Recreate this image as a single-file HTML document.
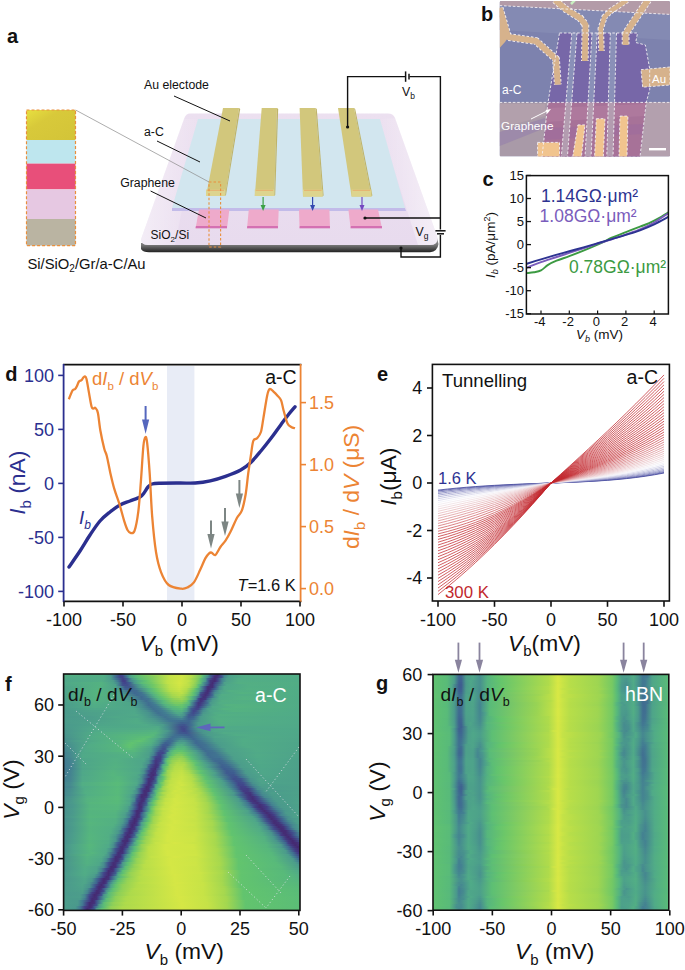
<!DOCTYPE html>
<html><head><meta charset="utf-8"><title>Figure</title>
<style>
html,body{margin:0;padding:0;background:#fff;}
svg{display:block;}
text{font-family:"Liberation Sans",sans-serif;}
.lab{font-weight:bold;font-size:20px;}
</style></head><body>
<svg width="685" height="970" viewBox="0 0 685 970">
<defs>
<linearGradient id="gold" x1="0" y1="0" x2="1" y2="1"><stop offset="0" stop-color="#e8e040"/><stop offset="0.35" stop-color="#d8c93a"/><stop offset="1" stop-color="#d3c438"/></linearGradient>
<linearGradient id="sideg" x1="0" y1="0" x2="0" y2="1"><stop offset="0" stop-color="#9a9a9a"/><stop offset="0.5" stop-color="#777"/><stop offset="1" stop-color="#222"/></linearGradient>
<linearGradient id="hlg" x1="0" y1="0" x2="1" y2="0"><stop offset="0" stop-color="#fff" stop-opacity="0.9"/><stop offset="1" stop-color="#fff" stop-opacity="0"/></linearGradient>
<linearGradient id="hlg2" x1="1" y1="0" x2="0" y2="0"><stop offset="0" stop-color="#fff" stop-opacity="0.9"/><stop offset="1" stop-color="#fff" stop-opacity="0"/></linearGradient>
<linearGradient id="subg" x1="0" y1="0" x2="0" y2="1"><stop offset="0" stop-color="#ece0f0"/><stop offset="1" stop-color="#e8dbee"/></linearGradient>
<linearGradient id="hf0"><stop offset="0" stop-color="#53b082"/><stop offset="0.17" stop-color="#52af84"/><stop offset="0.2" stop-color="#4b9a8b"/><stop offset="0.23" stop-color="#3f598f"/><stop offset="0.24" stop-color="#42448a"/><stop offset="0.25" stop-color="#404d8c"/><stop offset="0.27" stop-color="#468b8f"/><stop offset="0.29" stop-color="#53b083"/><stop offset="0.33" stop-color="#6bc669"/><stop offset="0.45" stop-color="#c3e247"/><stop offset="0.5" stop-color="#d0e645"/><stop offset="0.54" stop-color="#b7de49"/><stop offset="0.58" stop-color="#79ca62"/><stop offset="0.59" stop-color="#5bbd77"/><stop offset="0.61" stop-color="#4a998c"/><stop offset="0.62" stop-color="#3f6590"/><stop offset="0.64" stop-color="#433880"/><stop offset="0.65" stop-color="#452a72"/><stop offset="0.66" stop-color="#433d85"/><stop offset="0.68" stop-color="#438091"/><stop offset="0.7" stop-color="#4c9f8a"/><stop offset="0.75" stop-color="#52ad85"/><stop offset="1" stop-color="#51ad85"/></linearGradient>
<linearGradient id="hf1"><stop offset="0" stop-color="#51ac86"/><stop offset="0.17" stop-color="#51ad85"/><stop offset="0.2" stop-color="#4c9d8b"/><stop offset="0.22" stop-color="#406c91"/><stop offset="0.24" stop-color="#42448a"/><stop offset="0.25" stop-color="#42428a"/><stop offset="0.27" stop-color="#427d91"/><stop offset="0.28" stop-color="#4da18a"/><stop offset="0.31" stop-color="#5bbd77"/><stop offset="0.38" stop-color="#85cd5b"/><stop offset="0.45" stop-color="#c6e347"/><stop offset="0.5" stop-color="#d0e645"/><stop offset="0.54" stop-color="#b6dd49"/><stop offset="0.58" stop-color="#73c865"/><stop offset="0.59" stop-color="#57b77c"/><stop offset="0.61" stop-color="#468a8f"/><stop offset="0.63" stop-color="#42448a"/><stop offset="0.64" stop-color="#452b73"/><stop offset="0.65" stop-color="#44337b"/><stop offset="0.67" stop-color="#3f568e"/><stop offset="0.68" stop-color="#468a8f"/><stop offset="0.7" stop-color="#4da28a"/><stop offset="0.77" stop-color="#52ae85"/><stop offset="1" stop-color="#51ad86"/></linearGradient>
<linearGradient id="hf2"><stop offset="0" stop-color="#50a988"/><stop offset="0.17" stop-color="#51ad86"/><stop offset="0.2" stop-color="#4c9d8b"/><stop offset="0.22" stop-color="#417792"/><stop offset="0.25" stop-color="#424189"/><stop offset="0.25" stop-color="#433d85"/><stop offset="0.27" stop-color="#3f5e90"/><stop offset="0.29" stop-color="#4b9c8b"/><stop offset="0.32" stop-color="#5bbd77"/><stop offset="0.37" stop-color="#7aca62"/><stop offset="0.45" stop-color="#c4e247"/><stop offset="0.5" stop-color="#d1e645"/><stop offset="0.53" stop-color="#b9de49"/><stop offset="0.57" stop-color="#7ecb5f"/><stop offset="0.58" stop-color="#5cbe75"/><stop offset="0.6" stop-color="#4b9a8c"/><stop offset="0.61" stop-color="#3f6490"/><stop offset="0.63" stop-color="#43377f"/><stop offset="0.64" stop-color="#452a72"/><stop offset="0.65" stop-color="#433d85"/><stop offset="0.67" stop-color="#438191"/><stop offset="0.69" stop-color="#4c9f8a"/><stop offset="0.74" stop-color="#52ad85"/><stop offset="1" stop-color="#51ac86"/></linearGradient>
<linearGradient id="hf3"><stop offset="0" stop-color="#4fa789"/><stop offset="0.16" stop-color="#52ad85"/><stop offset="0.21" stop-color="#4c9d8b"/><stop offset="0.23" stop-color="#417892"/><stop offset="0.25" stop-color="#423f87"/><stop offset="0.26" stop-color="#423f87"/><stop offset="0.28" stop-color="#448291"/><stop offset="0.31" stop-color="#4fa888"/><stop offset="0.35" stop-color="#61c36f"/><stop offset="0.44" stop-color="#c0e148"/><stop offset="0.49" stop-color="#d2e645"/><stop offset="0.53" stop-color="#c0e148"/><stop offset="0.56" stop-color="#92d156"/><stop offset="0.58" stop-color="#5cbe75"/><stop offset="0.6" stop-color="#4a998c"/><stop offset="0.61" stop-color="#3f6490"/><stop offset="0.62" stop-color="#43367e"/><stop offset="0.64" stop-color="#452a72"/><stop offset="0.65" stop-color="#433e86"/><stop offset="0.67" stop-color="#448291"/><stop offset="0.69" stop-color="#4da08a"/><stop offset="0.74" stop-color="#52ae85"/><stop offset="1" stop-color="#51ac86"/></linearGradient>
<linearGradient id="hf4"><stop offset="0" stop-color="#50a988"/><stop offset="0.16" stop-color="#54b281"/><stop offset="0.21" stop-color="#4da18a"/><stop offset="0.23" stop-color="#458790"/><stop offset="0.25" stop-color="#414a8c"/><stop offset="0.26" stop-color="#42438a"/><stop offset="0.28" stop-color="#3e5e90"/><stop offset="0.3" stop-color="#4a998c"/><stop offset="0.33" stop-color="#59bb79"/><stop offset="0.37" stop-color="#70c866"/><stop offset="0.44" stop-color="#c0e148"/><stop offset="0.49" stop-color="#d3e745"/><stop offset="0.52" stop-color="#c4e247"/><stop offset="0.55" stop-color="#a0d651"/><stop offset="0.58" stop-color="#5dbf74"/><stop offset="0.59" stop-color="#4b9a8c"/><stop offset="0.61" stop-color="#3f6490"/><stop offset="0.62" stop-color="#43377f"/><stop offset="0.63" stop-color="#452b73"/><stop offset="0.64" stop-color="#424087"/><stop offset="0.67" stop-color="#448490"/><stop offset="0.68" stop-color="#4da18a"/><stop offset="0.74" stop-color="#53af83"/><stop offset="1" stop-color="#52ad85"/></linearGradient>
<linearGradient id="hf5"><stop offset="0" stop-color="#4fa789"/><stop offset="0.16" stop-color="#54b281"/><stop offset="0.22" stop-color="#4da18a"/><stop offset="0.23" stop-color="#458790"/><stop offset="0.25" stop-color="#404f8d"/><stop offset="0.27" stop-color="#414c8c"/><stop offset="0.31" stop-color="#48918e"/><stop offset="0.34" stop-color="#56b77d"/><stop offset="0.38" stop-color="#70c866"/><stop offset="0.45" stop-color="#c0e148"/><stop offset="0.49" stop-color="#d1e645"/><stop offset="0.53" stop-color="#bbdf48"/><stop offset="0.56" stop-color="#85cd5c"/><stop offset="0.57" stop-color="#5cbe75"/><stop offset="0.59" stop-color="#4a988c"/><stop offset="0.61" stop-color="#40508d"/><stop offset="0.62" stop-color="#442f77"/><stop offset="0.63" stop-color="#442f77"/><stop offset="0.64" stop-color="#404d8c"/><stop offset="0.67" stop-color="#48908e"/><stop offset="0.69" stop-color="#4fa889"/><stop offset="0.79" stop-color="#53af84"/><stop offset="1" stop-color="#51ad85"/></linearGradient>
<linearGradient id="hf6"><stop offset="0" stop-color="#4ea489"/><stop offset="0.15" stop-color="#54b281"/><stop offset="0.22" stop-color="#4ea389"/><stop offset="0.24" stop-color="#46898f"/><stop offset="0.26" stop-color="#3f578f"/><stop offset="0.28" stop-color="#3f558e"/><stop offset="0.32" stop-color="#4b9a8c"/><stop offset="0.36" stop-color="#5dbf74"/><stop offset="0.39" stop-color="#7bcb61"/><stop offset="0.45" stop-color="#bfe048"/><stop offset="0.49" stop-color="#cee545"/><stop offset="0.53" stop-color="#b5dd49"/><stop offset="0.56" stop-color="#79ca62"/><stop offset="0.57" stop-color="#5cbe76"/><stop offset="0.58" stop-color="#49958d"/><stop offset="0.6" stop-color="#404d8c"/><stop offset="0.61" stop-color="#452e76"/><stop offset="0.63" stop-color="#442f77"/><stop offset="0.64" stop-color="#404e8d"/><stop offset="0.66" stop-color="#48908e"/><stop offset="0.68" stop-color="#4fa889"/><stop offset="0.78" stop-color="#52af84"/><stop offset="1" stop-color="#51ac86"/></linearGradient>
<linearGradient id="hf7"><stop offset="0" stop-color="#4ea38a"/><stop offset="0.14" stop-color="#54b281"/><stop offset="0.22" stop-color="#4ea589"/><stop offset="0.24" stop-color="#478e8e"/><stop offset="0.26" stop-color="#3f6390"/><stop offset="0.28" stop-color="#3e5d90"/><stop offset="0.31" stop-color="#427c91"/><stop offset="0.36" stop-color="#54b281"/><stop offset="0.39" stop-color="#6cc769"/><stop offset="0.45" stop-color="#badf49"/><stop offset="0.49" stop-color="#cae446"/><stop offset="0.52" stop-color="#b4dd4a"/><stop offset="0.55" stop-color="#79ca62"/><stop offset="0.56" stop-color="#5bbd76"/><stop offset="0.58" stop-color="#48938d"/><stop offset="0.6" stop-color="#414a8c"/><stop offset="0.61" stop-color="#452d75"/><stop offset="0.62" stop-color="#443179"/><stop offset="0.64" stop-color="#3f5e90"/><stop offset="0.66" stop-color="#48918d"/><stop offset="0.68" stop-color="#4fa888"/><stop offset="0.78" stop-color="#53b083"/><stop offset="1" stop-color="#51ac86"/></linearGradient>
<linearGradient id="hf8"><stop offset="0" stop-color="#4ea389"/><stop offset="0.14" stop-color="#55b480"/><stop offset="0.23" stop-color="#4ea589"/><stop offset="0.25" stop-color="#478c8e"/><stop offset="0.28" stop-color="#3f6891"/><stop offset="0.31" stop-color="#406c91"/><stop offset="0.36" stop-color="#54b281"/><stop offset="0.39" stop-color="#69c66a"/><stop offset="0.45" stop-color="#b5dd4a"/><stop offset="0.49" stop-color="#c5e247"/><stop offset="0.52" stop-color="#adda4c"/><stop offset="0.55" stop-color="#6bc669"/><stop offset="0.57" stop-color="#51ab86"/><stop offset="0.58" stop-color="#437f91"/><stop offset="0.6" stop-color="#433c84"/><stop offset="0.61" stop-color="#452b73"/><stop offset="0.62" stop-color="#433b83"/><stop offset="0.64" stop-color="#437e91"/><stop offset="0.66" stop-color="#4da08a"/><stop offset="0.7" stop-color="#53b083"/><stop offset="1" stop-color="#51ad86"/></linearGradient>
<linearGradient id="hf9"><stop offset="0" stop-color="#4ea38a"/><stop offset="0.14" stop-color="#55b47f"/><stop offset="0.23" stop-color="#4fa789"/><stop offset="0.27" stop-color="#438191"/><stop offset="0.3" stop-color="#3f6991"/><stop offset="0.33" stop-color="#417391"/><stop offset="0.37" stop-color="#54b182"/><stop offset="0.4" stop-color="#6ac66a"/><stop offset="0.46" stop-color="#b0db4b"/><stop offset="0.5" stop-color="#bde048"/><stop offset="0.52" stop-color="#a3d750"/><stop offset="0.55" stop-color="#5fc172"/><stop offset="0.57" stop-color="#4b9c8b"/><stop offset="0.58" stop-color="#3f568e"/><stop offset="0.6" stop-color="#44327a"/><stop offset="0.61" stop-color="#442f77"/><stop offset="0.62" stop-color="#414a8c"/><stop offset="0.64" stop-color="#478c8f"/><stop offset="0.67" stop-color="#4fa889"/><stop offset="0.75" stop-color="#54b281"/><stop offset="1" stop-color="#51ad86"/></linearGradient>
<linearGradient id="hf10"><stop offset="0" stop-color="#4da28a"/><stop offset="0.14" stop-color="#55b47f"/><stop offset="0.24" stop-color="#4fa689"/><stop offset="0.31" stop-color="#406a91"/><stop offset="0.34" stop-color="#417692"/><stop offset="0.38" stop-color="#53b182"/><stop offset="0.41" stop-color="#6cc769"/><stop offset="0.46" stop-color="#a6d84e"/><stop offset="0.49" stop-color="#b6dd49"/><stop offset="0.51" stop-color="#a5d84f"/><stop offset="0.54" stop-color="#70c867"/><stop offset="0.56" stop-color="#53af83"/><stop offset="0.57" stop-color="#458890"/><stop offset="0.58" stop-color="#42448a"/><stop offset="0.6" stop-color="#452e76"/><stop offset="0.61" stop-color="#433880"/><stop offset="0.63" stop-color="#406a91"/><stop offset="0.64" stop-color="#4a978c"/><stop offset="0.67" stop-color="#52ad85"/><stop offset="0.82" stop-color="#52af84"/><stop offset="1" stop-color="#51ad86"/></linearGradient>
<linearGradient id="hf11"><stop offset="0" stop-color="#4da08a"/><stop offset="0.13" stop-color="#54b281"/><stop offset="0.25" stop-color="#4fa689"/><stop offset="0.33" stop-color="#406a91"/><stop offset="0.35" stop-color="#427a92"/><stop offset="0.39" stop-color="#55b47f"/><stop offset="0.42" stop-color="#6bc669"/><stop offset="0.46" stop-color="#9dd552"/><stop offset="0.49" stop-color="#abda4d"/><stop offset="0.51" stop-color="#98d354"/><stop offset="0.54" stop-color="#5abc77"/><stop offset="0.56" stop-color="#48928d"/><stop offset="0.58" stop-color="#404d8c"/><stop offset="0.59" stop-color="#443179"/><stop offset="0.6" stop-color="#44337b"/><stop offset="0.62" stop-color="#3f5f90"/><stop offset="0.64" stop-color="#48918e"/><stop offset="0.66" stop-color="#50ab87"/><stop offset="0.76" stop-color="#54b182"/><stop offset="1" stop-color="#51ac86"/></linearGradient>
<linearGradient id="hf12"><stop offset="0" stop-color="#4c9f8a"/><stop offset="0.13" stop-color="#54b281"/><stop offset="0.25" stop-color="#4fa689"/><stop offset="0.3" stop-color="#458790"/><stop offset="0.33" stop-color="#406c91"/><stop offset="0.36" stop-color="#417491"/><stop offset="0.4" stop-color="#55b480"/><stop offset="0.43" stop-color="#6ac66a"/><stop offset="0.47" stop-color="#92d156"/><stop offset="0.5" stop-color="#9dd552"/><stop offset="0.52" stop-color="#83cd5d"/><stop offset="0.54" stop-color="#58ba7a"/><stop offset="0.56" stop-color="#478d8e"/><stop offset="0.57" stop-color="#41498c"/><stop offset="0.58" stop-color="#443179"/><stop offset="0.6" stop-color="#43377f"/><stop offset="0.61" stop-color="#3f6390"/><stop offset="0.63" stop-color="#49938d"/><stop offset="0.66" stop-color="#51ab87"/><stop offset="0.76" stop-color="#54b281"/><stop offset="1" stop-color="#51ac86"/></linearGradient>
<linearGradient id="hf13"><stop offset="0" stop-color="#4c9f8a"/><stop offset="0.13" stop-color="#54b182"/><stop offset="0.26" stop-color="#4fa689"/><stop offset="0.31" stop-color="#478e8e"/><stop offset="0.35" stop-color="#406c91"/><stop offset="0.37" stop-color="#437e91"/><stop offset="0.42" stop-color="#57b77c"/><stop offset="0.46" stop-color="#81cc5e"/><stop offset="0.5" stop-color="#8fd057"/><stop offset="0.52" stop-color="#74c965"/><stop offset="0.53" stop-color="#56b77d"/><stop offset="0.55" stop-color="#458890"/><stop offset="0.57" stop-color="#41468b"/><stop offset="0.58" stop-color="#44327a"/><stop offset="0.59" stop-color="#433c84"/><stop offset="0.61" stop-color="#417792"/><stop offset="0.63" stop-color="#4b9c8b"/><stop offset="0.67" stop-color="#53af83"/><stop offset="0.85" stop-color="#52ae85"/><stop offset="1" stop-color="#51ac86"/></linearGradient>
<linearGradient id="hf14"><stop offset="0" stop-color="#4c9d8b"/><stop offset="0.13" stop-color="#52af84"/><stop offset="0.28" stop-color="#4ea589"/><stop offset="0.32" stop-color="#468c8f"/><stop offset="0.36" stop-color="#406d91"/><stop offset="0.38" stop-color="#427d92"/><stop offset="0.42" stop-color="#56b67e"/><stop offset="0.47" stop-color="#7aca61"/><stop offset="0.5" stop-color="#7dcb60"/><stop offset="0.53" stop-color="#59ba79"/><stop offset="0.54" stop-color="#48938d"/><stop offset="0.56" stop-color="#40508d"/><stop offset="0.57" stop-color="#44367e"/><stop offset="0.58" stop-color="#433981"/><stop offset="0.61" stop-color="#407091"/><stop offset="0.62" stop-color="#4a988c"/><stop offset="0.66" stop-color="#52ae85"/><stop offset="0.79" stop-color="#53b083"/><stop offset="1" stop-color="#51ac86"/></linearGradient>
<linearGradient id="hf15"><stop offset="0" stop-color="#4b9c8b"/><stop offset="0.13" stop-color="#51ad86"/><stop offset="0.28" stop-color="#4ea589"/><stop offset="0.33" stop-color="#478c8e"/><stop offset="0.36" stop-color="#406d91"/><stop offset="0.39" stop-color="#427c92"/><stop offset="0.43" stop-color="#54b380"/><stop offset="0.48" stop-color="#6fc767"/><stop offset="0.5" stop-color="#68c66b"/><stop offset="0.53" stop-color="#53b083"/><stop offset="0.54" stop-color="#478e8e"/><stop offset="0.56" stop-color="#404e8d"/><stop offset="0.57" stop-color="#43377f"/><stop offset="0.58" stop-color="#423e86"/><stop offset="0.61" stop-color="#438191"/><stop offset="0.63" stop-color="#4ea38a"/><stop offset="0.69" stop-color="#55b380"/><stop offset="1" stop-color="#51ac87"/></linearGradient>
<linearGradient id="hf16"><stop offset="0" stop-color="#4c9d8b"/><stop offset="0.13" stop-color="#51ac86"/><stop offset="0.29" stop-color="#4fa689"/><stop offset="0.33" stop-color="#478e8e"/><stop offset="0.37" stop-color="#406f91"/><stop offset="0.4" stop-color="#427c92"/><stop offset="0.44" stop-color="#54b281"/><stop offset="0.5" stop-color="#62c36f"/><stop offset="0.52" stop-color="#55b380"/><stop offset="0.53" stop-color="#468a8f"/><stop offset="0.56" stop-color="#42448a"/><stop offset="0.57" stop-color="#433b83"/><stop offset="0.58" stop-color="#404e8d"/><stop offset="0.61" stop-color="#48908e"/><stop offset="0.63" stop-color="#50a988"/><stop offset="0.73" stop-color="#55b380"/><stop offset="1" stop-color="#51ac86"/></linearGradient>
<linearGradient id="hf17"><stop offset="0" stop-color="#4b9b8b"/><stop offset="0.13" stop-color="#4fa888"/><stop offset="0.3" stop-color="#4fa789"/><stop offset="0.34" stop-color="#478e8e"/><stop offset="0.38" stop-color="#407091"/><stop offset="0.41" stop-color="#427b92"/><stop offset="0.46" stop-color="#54b380"/><stop offset="0.5" stop-color="#59bb78"/><stop offset="0.52" stop-color="#4c9f8a"/><stop offset="0.54" stop-color="#3e5b8f"/><stop offset="0.56" stop-color="#424189"/><stop offset="0.57" stop-color="#42448a"/><stop offset="0.59" stop-color="#448191"/><stop offset="0.61" stop-color="#4da18a"/><stop offset="0.68" stop-color="#54b380"/><stop offset="1" stop-color="#51ab87"/></linearGradient>
<linearGradient id="hf18"><stop offset="0" stop-color="#4a998c"/><stop offset="0.12" stop-color="#4ea389"/><stop offset="0.3" stop-color="#4fa789"/><stop offset="0.35" stop-color="#48928d"/><stop offset="0.39" stop-color="#407091"/><stop offset="0.42" stop-color="#427c92"/><stop offset="0.47" stop-color="#52ad85"/><stop offset="0.5" stop-color="#54b380"/><stop offset="0.52" stop-color="#4b9b8b"/><stop offset="0.54" stop-color="#3e5b8f"/><stop offset="0.55" stop-color="#42458b"/><stop offset="0.56" stop-color="#414b8c"/><stop offset="0.59" stop-color="#478e8e"/><stop offset="0.62" stop-color="#4fa789"/><stop offset="0.72" stop-color="#54b281"/><stop offset="1" stop-color="#50ab87"/></linearGradient>
<linearGradient id="hf19"><stop offset="0" stop-color="#4a998c"/><stop offset="0.11" stop-color="#4da08a"/><stop offset="0.3" stop-color="#4fa889"/><stop offset="0.36" stop-color="#48938d"/><stop offset="0.4" stop-color="#407091"/><stop offset="0.43" stop-color="#427d92"/><stop offset="0.48" stop-color="#50aa87"/><stop offset="0.5" stop-color="#4fa689"/><stop offset="0.52" stop-color="#448191"/><stop offset="0.54" stop-color="#3f548e"/><stop offset="0.55" stop-color="#414b8c"/><stop offset="0.57" stop-color="#3f6390"/><stop offset="0.59" stop-color="#4a978c"/><stop offset="0.64" stop-color="#51ad86"/><stop offset="0.8" stop-color="#52ae84"/><stop offset="1" stop-color="#50ab88"/></linearGradient>
<linearGradient id="hf20"><stop offset="0" stop-color="#4b9a8b"/><stop offset="0.11" stop-color="#4da08a"/><stop offset="0.31" stop-color="#50a988"/><stop offset="0.36" stop-color="#49958d"/><stop offset="0.41" stop-color="#417391"/><stop offset="0.44" stop-color="#427b92"/><stop offset="0.49" stop-color="#4da28a"/><stop offset="0.51" stop-color="#49948d"/><stop offset="0.53" stop-color="#3f5a8f"/><stop offset="0.55" stop-color="#40538e"/><stop offset="0.57" stop-color="#417592"/><stop offset="0.59" stop-color="#4c9d8b"/><stop offset="0.66" stop-color="#53b083"/><stop offset="1" stop-color="#50ab87"/></linearGradient>
<linearGradient id="hf21"><stop offset="0" stop-color="#4a998c"/><stop offset="0.11" stop-color="#4c9d8b"/><stop offset="0.22" stop-color="#4fa888"/><stop offset="0.33" stop-color="#4ea589"/><stop offset="0.39" stop-color="#468a8f"/><stop offset="0.43" stop-color="#417391"/><stop offset="0.5" stop-color="#49938d"/><stop offset="0.51" stop-color="#437e91"/><stop offset="0.53" stop-color="#3e5b8f"/><stop offset="0.55" stop-color="#3f6390"/><stop offset="0.58" stop-color="#4b9a8c"/><stop offset="0.64" stop-color="#52ae84"/><stop offset="1" stop-color="#50aa88"/></linearGradient>
<linearGradient id="hf22"><stop offset="0" stop-color="#4b9a8c"/><stop offset="0.11" stop-color="#4c9e8b"/><stop offset="0.31" stop-color="#50ab87"/><stop offset="0.38" stop-color="#4a978c"/><stop offset="0.44" stop-color="#417491"/><stop offset="0.5" stop-color="#438191"/><stop offset="0.53" stop-color="#3e6190"/><stop offset="0.55" stop-color="#406b91"/><stop offset="0.58" stop-color="#4b9b8b"/><stop offset="0.65" stop-color="#53af84"/><stop offset="1" stop-color="#50aa88"/></linearGradient>
<linearGradient id="hf23"><stop offset="0" stop-color="#4b9c8b"/><stop offset="0.12" stop-color="#4da08a"/><stop offset="0.31" stop-color="#51ac86"/><stop offset="0.39" stop-color="#4a988c"/><stop offset="0.45" stop-color="#417592"/><stop offset="0.51" stop-color="#406c91"/><stop offset="0.53" stop-color="#3f6691"/><stop offset="0.58" stop-color="#4b9b8b"/><stop offset="0.66" stop-color="#53b083"/><stop offset="1" stop-color="#50aa88"/></linearGradient>
<linearGradient id="hf24"><stop offset="0" stop-color="#4b9b8b"/><stop offset="0.14" stop-color="#4ea38a"/><stop offset="0.32" stop-color="#51ac86"/><stop offset="0.4" stop-color="#4b9b8b"/><stop offset="0.5" stop-color="#3f6090"/><stop offset="0.53" stop-color="#3f6590"/><stop offset="0.57" stop-color="#4b9a8c"/><stop offset="0.66" stop-color="#52af84"/><stop offset="1" stop-color="#50aa88"/></linearGradient>
<linearGradient id="hf25"><stop offset="0" stop-color="#4a998c"/><stop offset="0.15" stop-color="#4ea589"/><stop offset="0.35" stop-color="#50ab87"/><stop offset="0.42" stop-color="#4b9c8b"/><stop offset="0.49" stop-color="#3f5a8f"/><stop offset="0.51" stop-color="#40538e"/><stop offset="0.54" stop-color="#407091"/><stop offset="0.57" stop-color="#4b9a8c"/><stop offset="0.67" stop-color="#52ae84"/><stop offset="1" stop-color="#50a988"/></linearGradient>
<linearGradient id="hf26"><stop offset="0" stop-color="#4a998c"/><stop offset="0.15" stop-color="#4fa888"/><stop offset="0.4" stop-color="#50aa87"/><stop offset="0.44" stop-color="#468b8f"/><stop offset="0.5" stop-color="#41498b"/><stop offset="0.52" stop-color="#40538e"/><stop offset="0.56" stop-color="#48928d"/><stop offset="0.63" stop-color="#50aa88"/><stop offset="0.89" stop-color="#50aa88"/><stop offset="1" stop-color="#50a988"/></linearGradient>
<linearGradient id="hf27"><stop offset="0" stop-color="#4a978c"/><stop offset="0.14" stop-color="#50aa88"/><stop offset="0.4" stop-color="#52ad85"/><stop offset="0.44" stop-color="#478e8e"/><stop offset="0.5" stop-color="#414a8c"/><stop offset="0.51" stop-color="#41468b"/><stop offset="0.54" stop-color="#407191"/><stop offset="0.57" stop-color="#49958d"/><stop offset="0.66" stop-color="#51ab87"/><stop offset="1" stop-color="#4fa888"/></linearGradient>
<linearGradient id="hf28"><stop offset="0" stop-color="#49958d"/><stop offset="0.14" stop-color="#50aa88"/><stop offset="0.39" stop-color="#54b281"/><stop offset="0.44" stop-color="#4a988c"/><stop offset="0.49" stop-color="#3f578f"/><stop offset="0.51" stop-color="#41478b"/><stop offset="0.53" stop-color="#3e5d90"/><stop offset="0.57" stop-color="#478f8e"/><stop offset="0.64" stop-color="#4fa789"/><stop offset="0.85" stop-color="#50ab87"/><stop offset="1" stop-color="#4fa889"/></linearGradient>
<linearGradient id="hf29"><stop offset="0" stop-color="#49958d"/><stop offset="0.14" stop-color="#51ad86"/><stop offset="0.39" stop-color="#56b67d"/><stop offset="0.43" stop-color="#4b9a8c"/><stop offset="0.49" stop-color="#3e5b8f"/><stop offset="0.52" stop-color="#40538e"/><stop offset="0.59" stop-color="#4a968c"/><stop offset="0.68" stop-color="#51ab87"/><stop offset="1" stop-color="#4fa889"/></linearGradient>
<linearGradient id="hf30"><stop offset="0" stop-color="#48938d"/><stop offset="0.13" stop-color="#51ac86"/><stop offset="0.3" stop-color="#57b77c"/><stop offset="0.38" stop-color="#57b97b"/><stop offset="0.42" stop-color="#4b9c8b"/><stop offset="0.47" stop-color="#406f91"/><stop offset="0.53" stop-color="#3e5e90"/><stop offset="0.61" stop-color="#4b9c8b"/><stop offset="0.73" stop-color="#51ad86"/><stop offset="1" stop-color="#4fa789"/></linearGradient>
<linearGradient id="hf31"><stop offset="0" stop-color="#48918d"/><stop offset="0.12" stop-color="#51ac86"/><stop offset="0.26" stop-color="#56b67d"/><stop offset="0.36" stop-color="#5cbe75"/><stop offset="0.41" stop-color="#4fa689"/><stop offset="0.46" stop-color="#406f91"/><stop offset="0.5" stop-color="#417692"/><stop offset="0.54" stop-color="#3f6490"/><stop offset="0.59" stop-color="#45888f"/><stop offset="0.64" stop-color="#4ea38a"/><stop offset="0.8" stop-color="#51ac86"/><stop offset="1" stop-color="#4fa789"/></linearGradient>
<linearGradient id="hf32"><stop offset="0" stop-color="#478e8e"/><stop offset="0.12" stop-color="#51ab87"/><stop offset="0.25" stop-color="#55b57f"/><stop offset="0.34" stop-color="#5ec073"/><stop offset="0.39" stop-color="#50aa88"/><stop offset="0.45" stop-color="#406b91"/><stop offset="0.47" stop-color="#417792"/><stop offset="0.5" stop-color="#46898f"/><stop offset="0.55" stop-color="#3f6691"/><stop offset="0.58" stop-color="#427b92"/><stop offset="0.64" stop-color="#4c9e8b"/><stop offset="0.76" stop-color="#51ac86"/><stop offset="1" stop-color="#4fa689"/></linearGradient>
<linearGradient id="hf33"><stop offset="0" stop-color="#478f8e"/><stop offset="0.06" stop-color="#4da18a"/><stop offset="0.16" stop-color="#52ae84"/><stop offset="0.24" stop-color="#57b77c"/><stop offset="0.32" stop-color="#61c370"/><stop offset="0.38" stop-color="#52af84"/><stop offset="0.41" stop-color="#478e8e"/><stop offset="0.44" stop-color="#3f6791"/><stop offset="0.46" stop-color="#406e91"/><stop offset="0.49" stop-color="#4a978c"/><stop offset="0.51" stop-color="#49948d"/><stop offset="0.56" stop-color="#3f6991"/><stop offset="0.58" stop-color="#417391"/><stop offset="0.64" stop-color="#4c9d8b"/><stop offset="0.76" stop-color="#51ad86"/><stop offset="1" stop-color="#4fa689"/></linearGradient>
<linearGradient id="hf34"><stop offset="0" stop-color="#468b8f"/><stop offset="0.04" stop-color="#4a988c"/><stop offset="0.12" stop-color="#51ac87"/><stop offset="0.23" stop-color="#55b480"/><stop offset="0.29" stop-color="#61c370"/><stop offset="0.37" stop-color="#53b182"/><stop offset="0.4" stop-color="#4a978c"/><stop offset="0.43" stop-color="#3e6090"/><stop offset="0.45" stop-color="#3f6791"/><stop offset="0.48" stop-color="#4da08a"/><stop offset="0.51" stop-color="#4ea38a"/><stop offset="0.56" stop-color="#3f6991"/><stop offset="0.59" stop-color="#417291"/><stop offset="0.65" stop-color="#4b9c8b"/><stop offset="0.76" stop-color="#51ac86"/><stop offset="1" stop-color="#4ea589"/></linearGradient>
<linearGradient id="hf35"><stop offset="0" stop-color="#468a8f"/><stop offset="0.04" stop-color="#49968c"/><stop offset="0.11" stop-color="#51ac86"/><stop offset="0.23" stop-color="#56b57e"/><stop offset="0.28" stop-color="#61c36f"/><stop offset="0.37" stop-color="#51ad86"/><stop offset="0.4" stop-color="#478e8e"/><stop offset="0.42" stop-color="#3e5d90"/><stop offset="0.44" stop-color="#3e5b8f"/><stop offset="0.46" stop-color="#458590"/><stop offset="0.48" stop-color="#50a988"/><stop offset="0.5" stop-color="#53af83"/><stop offset="0.54" stop-color="#468a8f"/><stop offset="0.57" stop-color="#406a91"/><stop offset="0.6" stop-color="#417291"/><stop offset="0.66" stop-color="#4b9c8b"/><stop offset="0.76" stop-color="#51ac86"/><stop offset="1" stop-color="#4ea589"/></linearGradient>
<linearGradient id="hf36"><stop offset="0" stop-color="#46888f"/><stop offset="0.04" stop-color="#49958d"/><stop offset="0.1" stop-color="#51ab87"/><stop offset="0.23" stop-color="#56b57e"/><stop offset="0.28" stop-color="#60c271"/><stop offset="0.37" stop-color="#4ea589"/><stop offset="0.39" stop-color="#468a8f"/><stop offset="0.42" stop-color="#3f578e"/><stop offset="0.43" stop-color="#3f578e"/><stop offset="0.46" stop-color="#4a968c"/><stop offset="0.48" stop-color="#55b480"/><stop offset="0.51" stop-color="#56b57e"/><stop offset="0.55" stop-color="#468b8f"/><stop offset="0.58" stop-color="#406a91"/><stop offset="0.61" stop-color="#417692"/><stop offset="0.67" stop-color="#4c9e8b"/><stop offset="0.78" stop-color="#51ac86"/><stop offset="1" stop-color="#4ea589"/></linearGradient>
<linearGradient id="hf37"><stop offset="0" stop-color="#458590"/><stop offset="0.03" stop-color="#488f8e"/><stop offset="0.09" stop-color="#50a988"/><stop offset="0.24" stop-color="#56b57e"/><stop offset="0.28" stop-color="#5cbe76"/><stop offset="0.37" stop-color="#4da08a"/><stop offset="0.39" stop-color="#437d91"/><stop offset="0.42" stop-color="#40508d"/><stop offset="0.43" stop-color="#40528d"/><stop offset="0.44" stop-color="#448291"/><stop offset="0.46" stop-color="#4fa689"/><stop offset="0.48" stop-color="#5abc77"/><stop offset="0.51" stop-color="#58ba7a"/><stop offset="0.56" stop-color="#468b8f"/><stop offset="0.59" stop-color="#406a91"/><stop offset="0.62" stop-color="#417692"/><stop offset="0.69" stop-color="#4da08a"/><stop offset="0.81" stop-color="#51ab87"/><stop offset="1" stop-color="#4ea489"/></linearGradient>
<linearGradient id="hf38"><stop offset="0" stop-color="#448590"/><stop offset="0.03" stop-color="#478f8e"/><stop offset="0.09" stop-color="#50aa88"/><stop offset="0.25" stop-color="#56b77d"/><stop offset="0.3" stop-color="#57b77c"/><stop offset="0.37" stop-color="#4c9f8b"/><stop offset="0.39" stop-color="#427a92"/><stop offset="0.41" stop-color="#414b8c"/><stop offset="0.42" stop-color="#404e8c"/><stop offset="0.44" stop-color="#417291"/><stop offset="0.45" stop-color="#50aa87"/><stop offset="0.47" stop-color="#60c270"/><stop offset="0.5" stop-color="#62c36f"/><stop offset="0.56" stop-color="#4b9c8b"/><stop offset="0.6" stop-color="#406c91"/><stop offset="0.63" stop-color="#417391"/><stop offset="0.69" stop-color="#4da18a"/><stop offset="0.82" stop-color="#51ab87"/><stop offset="1" stop-color="#4ea489"/></linearGradient>
<linearGradient id="hf39"><stop offset="0" stop-color="#438191"/><stop offset="0.03" stop-color="#468b8f"/><stop offset="0.08" stop-color="#4fa888"/><stop offset="0.29" stop-color="#55b480"/><stop offset="0.36" stop-color="#4da18a"/><stop offset="0.38" stop-color="#468a8f"/><stop offset="0.4" stop-color="#414a8c"/><stop offset="0.42" stop-color="#42438a"/><stop offset="0.43" stop-color="#3e6090"/><stop offset="0.44" stop-color="#4da18a"/><stop offset="0.46" stop-color="#5ec073"/><stop offset="0.49" stop-color="#75c964"/><stop offset="0.51" stop-color="#6ac66a"/><stop offset="0.56" stop-color="#4ea489"/><stop offset="0.61" stop-color="#406c91"/><stop offset="0.64" stop-color="#417291"/><stop offset="0.7" stop-color="#4da08a"/><stop offset="0.82" stop-color="#50aa88"/><stop offset="1" stop-color="#4ea38a"/></linearGradient>
<linearGradient id="hf40"><stop offset="0" stop-color="#448291"/><stop offset="0.03" stop-color="#468a8f"/><stop offset="0.08" stop-color="#50a988"/><stop offset="0.3" stop-color="#54b182"/><stop offset="0.36" stop-color="#4c9f8a"/><stop offset="0.38" stop-color="#448291"/><stop offset="0.4" stop-color="#41468b"/><stop offset="0.41" stop-color="#424189"/><stop offset="0.42" stop-color="#3f6090"/><stop offset="0.44" stop-color="#4ea389"/><stop offset="0.46" stop-color="#62c36f"/><stop offset="0.48" stop-color="#82cc5d"/><stop offset="0.5" stop-color="#7fcc5f"/><stop offset="0.53" stop-color="#5bbd76"/><stop offset="0.58" stop-color="#4a968c"/><stop offset="0.61" stop-color="#406d91"/><stop offset="0.65" stop-color="#417491"/><stop offset="0.71" stop-color="#4da08a"/><stop offset="0.82" stop-color="#51ab87"/><stop offset="1" stop-color="#4ea389"/></linearGradient>
<linearGradient id="hf41"><stop offset="0" stop-color="#438191"/><stop offset="0.03" stop-color="#46898f"/><stop offset="0.08" stop-color="#50a988"/><stop offset="0.29" stop-color="#53b182"/><stop offset="0.36" stop-color="#4da08a"/><stop offset="0.37" stop-color="#448390"/><stop offset="0.39" stop-color="#42448a"/><stop offset="0.41" stop-color="#433d85"/><stop offset="0.42" stop-color="#3f5f90"/><stop offset="0.44" stop-color="#4ea589"/><stop offset="0.45" stop-color="#67c56b"/><stop offset="0.47" stop-color="#87ce5b"/><stop offset="0.5" stop-color="#92d156"/><stop offset="0.52" stop-color="#74c964"/><stop offset="0.54" stop-color="#5abc77"/><stop offset="0.58" stop-color="#4b9b8b"/><stop offset="0.62" stop-color="#406d91"/><stop offset="0.66" stop-color="#417592"/><stop offset="0.72" stop-color="#4da08a"/><stop offset="0.82" stop-color="#50ab87"/><stop offset="1" stop-color="#4ea38a"/></linearGradient>
<linearGradient id="hf42"><stop offset="0" stop-color="#427d92"/><stop offset="0.03" stop-color="#458590"/><stop offset="0.08" stop-color="#4fa689"/><stop offset="0.22" stop-color="#53b083"/><stop offset="0.34" stop-color="#4fa789"/><stop offset="0.36" stop-color="#49968c"/><stop offset="0.38" stop-color="#3f6991"/><stop offset="0.39" stop-color="#433b83"/><stop offset="0.41" stop-color="#423e86"/><stop offset="0.42" stop-color="#406d91"/><stop offset="0.43" stop-color="#4ea589"/><stop offset="0.44" stop-color="#60c271"/><stop offset="0.46" stop-color="#88ce5a"/><stop offset="0.49" stop-color="#9dd552"/><stop offset="0.51" stop-color="#93d256"/><stop offset="0.54" stop-color="#5fc172"/><stop offset="0.58" stop-color="#4c9d8b"/><stop offset="0.63" stop-color="#406d91"/><stop offset="0.66" stop-color="#406c91"/><stop offset="0.72" stop-color="#4c9f8a"/><stop offset="0.83" stop-color="#50aa88"/><stop offset="1" stop-color="#4da28a"/></linearGradient>
<linearGradient id="hf43"><stop offset="0" stop-color="#427a92"/><stop offset="0.03" stop-color="#448391"/><stop offset="0.08" stop-color="#4ea589"/><stop offset="0.22" stop-color="#53b083"/><stop offset="0.34" stop-color="#4ea589"/><stop offset="0.36" stop-color="#478f8e"/><stop offset="0.38" stop-color="#404e8d"/><stop offset="0.39" stop-color="#44357d"/><stop offset="0.41" stop-color="#42438a"/><stop offset="0.42" stop-color="#427b92"/><stop offset="0.43" stop-color="#53af83"/><stop offset="0.44" stop-color="#6dc768"/><stop offset="0.46" stop-color="#94d255"/><stop offset="0.49" stop-color="#a7d84e"/><stop offset="0.51" stop-color="#98d354"/><stop offset="0.55" stop-color="#60c270"/><stop offset="0.59" stop-color="#4da08a"/><stop offset="0.64" stop-color="#406a91"/><stop offset="0.67" stop-color="#406a91"/><stop offset="0.73" stop-color="#4c9d8b"/><stop offset="0.82" stop-color="#50a988"/><stop offset="1" stop-color="#4da18a"/></linearGradient>
<linearGradient id="hf44"><stop offset="0" stop-color="#427a92"/><stop offset="0.03" stop-color="#448391"/><stop offset="0.08" stop-color="#4fa689"/><stop offset="0.22" stop-color="#53b082"/><stop offset="0.33" stop-color="#4fa689"/><stop offset="0.36" stop-color="#48908e"/><stop offset="0.38" stop-color="#404f8d"/><stop offset="0.39" stop-color="#44347c"/><stop offset="0.4" stop-color="#433e86"/><stop offset="0.42" stop-color="#417491"/><stop offset="0.43" stop-color="#51ac86"/><stop offset="0.44" stop-color="#6ac66a"/><stop offset="0.46" stop-color="#98d354"/><stop offset="0.48" stop-color="#afdb4b"/><stop offset="0.51" stop-color="#a8d94e"/><stop offset="0.56" stop-color="#5fc172"/><stop offset="0.6" stop-color="#4c9f8a"/><stop offset="0.66" stop-color="#3f6590"/><stop offset="0.68" stop-color="#406b91"/><stop offset="0.74" stop-color="#4c9d8b"/><stop offset="0.83" stop-color="#50a988"/><stop offset="1" stop-color="#4da18a"/></linearGradient>
<linearGradient id="hf45"><stop offset="0" stop-color="#427992"/><stop offset="0.03" stop-color="#448191"/><stop offset="0.08" stop-color="#4ea589"/><stop offset="0.22" stop-color="#53b182"/><stop offset="0.33" stop-color="#4fa689"/><stop offset="0.35" stop-color="#48918d"/><stop offset="0.37" stop-color="#40508d"/><stop offset="0.39" stop-color="#44327a"/><stop offset="0.4" stop-color="#433981"/><stop offset="0.41" stop-color="#406c91"/><stop offset="0.42" stop-color="#4fa789"/><stop offset="0.44" stop-color="#65c56d"/><stop offset="0.45" stop-color="#98d354"/><stop offset="0.48" stop-color="#b4dd4a"/><stop offset="0.51" stop-color="#b0db4b"/><stop offset="0.55" stop-color="#74c965"/><stop offset="0.56" stop-color="#5dbf74"/><stop offset="0.61" stop-color="#4c9e8b"/><stop offset="0.67" stop-color="#3f6290"/><stop offset="0.69" stop-color="#3f6991"/><stop offset="0.75" stop-color="#4c9d8b"/><stop offset="0.83" stop-color="#4fa888"/><stop offset="1" stop-color="#4da18a"/></linearGradient>
<linearGradient id="hf46"><stop offset="0" stop-color="#427a92"/><stop offset="0.03" stop-color="#448291"/><stop offset="0.08" stop-color="#4fa689"/><stop offset="0.22" stop-color="#54b281"/><stop offset="0.33" stop-color="#4fa789"/><stop offset="0.35" stop-color="#49938d"/><stop offset="0.36" stop-color="#3e6290"/><stop offset="0.38" stop-color="#433a82"/><stop offset="0.39" stop-color="#443078"/><stop offset="0.4" stop-color="#424188"/><stop offset="0.41" stop-color="#427c91"/><stop offset="0.42" stop-color="#53b182"/><stop offset="0.43" stop-color="#62c36f"/><stop offset="0.45" stop-color="#97d354"/><stop offset="0.47" stop-color="#b4dd4a"/><stop offset="0.5" stop-color="#b9de49"/><stop offset="0.53" stop-color="#96d355"/><stop offset="0.57" stop-color="#5ec073"/><stop offset="0.61" stop-color="#4c9e8b"/><stop offset="0.67" stop-color="#3e6090"/><stop offset="0.7" stop-color="#3f6791"/><stop offset="0.75" stop-color="#4c9d8b"/><stop offset="0.84" stop-color="#4fa888"/><stop offset="1" stop-color="#4da18a"/></linearGradient>
<linearGradient id="hf47"><stop offset="0" stop-color="#417792"/><stop offset="0.03" stop-color="#438091"/><stop offset="0.08" stop-color="#4ea489"/><stop offset="0.21" stop-color="#54b182"/><stop offset="0.32" stop-color="#4fa789"/><stop offset="0.34" stop-color="#49948d"/><stop offset="0.36" stop-color="#3f6390"/><stop offset="0.37" stop-color="#433a82"/><stop offset="0.39" stop-color="#452d75"/><stop offset="0.39" stop-color="#433b83"/><stop offset="0.41" stop-color="#417491"/><stop offset="0.42" stop-color="#51ac86"/><stop offset="0.43" stop-color="#6bc669"/><stop offset="0.45" stop-color="#9dd552"/><stop offset="0.47" stop-color="#b7de49"/><stop offset="0.5" stop-color="#bcdf48"/><stop offset="0.53" stop-color="#9ed552"/><stop offset="0.57" stop-color="#5fc172"/><stop offset="0.62" stop-color="#4da08a"/><stop offset="0.68" stop-color="#3e5c90"/><stop offset="0.71" stop-color="#3f6490"/><stop offset="0.76" stop-color="#4b9b8b"/><stop offset="0.83" stop-color="#4fa789"/><stop offset="1" stop-color="#4da08a"/></linearGradient>
<linearGradient id="hf48"><stop offset="0" stop-color="#427b92"/><stop offset="0.03" stop-color="#448390"/><stop offset="0.08" stop-color="#4fa789"/><stop offset="0.21" stop-color="#55b47f"/><stop offset="0.32" stop-color="#4fa789"/><stop offset="0.34" stop-color="#488f8e"/><stop offset="0.36" stop-color="#414a8c"/><stop offset="0.38" stop-color="#442f77"/><stop offset="0.39" stop-color="#433981"/><stop offset="0.4" stop-color="#406e91"/><stop offset="0.42" stop-color="#50a988"/><stop offset="0.43" stop-color="#68c56b"/><stop offset="0.44" stop-color="#9dd552"/><stop offset="0.47" stop-color="#badf49"/><stop offset="0.5" stop-color="#c2e147"/><stop offset="0.53" stop-color="#a8d94e"/><stop offset="0.58" stop-color="#61c370"/><stop offset="0.63" stop-color="#4da08a"/><stop offset="0.69" stop-color="#3f5a8f"/><stop offset="0.72" stop-color="#3f6390"/><stop offset="0.77" stop-color="#4b9c8b"/><stop offset="0.84" stop-color="#4fa789"/><stop offset="1" stop-color="#4da08a"/></linearGradient>
<linearGradient id="hf49"><stop offset="0" stop-color="#427d92"/><stop offset="0.03" stop-color="#448490"/><stop offset="0.08" stop-color="#4fa888"/><stop offset="0.21" stop-color="#56b57e"/><stop offset="0.32" stop-color="#50a988"/><stop offset="0.34" stop-color="#48928d"/><stop offset="0.36" stop-color="#404e8d"/><stop offset="0.37" stop-color="#442f77"/><stop offset="0.39" stop-color="#44357d"/><stop offset="0.39" stop-color="#40518d"/><stop offset="0.41" stop-color="#49938d"/><stop offset="0.42" stop-color="#5abc77"/><stop offset="0.44" stop-color="#9bd453"/><stop offset="0.46" stop-color="#badf49"/><stop offset="0.5" stop-color="#c5e247"/><stop offset="0.53" stop-color="#afdb4b"/><stop offset="0.58" stop-color="#5fc171"/><stop offset="0.64" stop-color="#4da08a"/><stop offset="0.69" stop-color="#3f5a8f"/><stop offset="0.72" stop-color="#3e5d90"/><stop offset="0.77" stop-color="#4b9a8c"/><stop offset="0.84" stop-color="#4fa789"/><stop offset="1" stop-color="#4da08a"/></linearGradient>
<linearGradient id="hf50"><stop offset="0" stop-color="#427c92"/><stop offset="0.03" stop-color="#448490"/><stop offset="0.08" stop-color="#4fa789"/><stop offset="0.21" stop-color="#56b67e"/><stop offset="0.31" stop-color="#50a988"/><stop offset="0.33" stop-color="#49948d"/><stop offset="0.35" stop-color="#3e6190"/><stop offset="0.36" stop-color="#433880"/><stop offset="0.38" stop-color="#452c74"/><stop offset="0.39" stop-color="#433b83"/><stop offset="0.4" stop-color="#417491"/><stop offset="0.41" stop-color="#51ad86"/><stop offset="0.42" stop-color="#6dc768"/><stop offset="0.44" stop-color="#a0d651"/><stop offset="0.46" stop-color="#bde048"/><stop offset="0.5" stop-color="#c7e346"/><stop offset="0.54" stop-color="#afdb4b"/><stop offset="0.59" stop-color="#60c270"/><stop offset="0.64" stop-color="#4c9e8b"/><stop offset="0.7" stop-color="#3f5a8f"/><stop offset="0.72" stop-color="#3f568e"/><stop offset="0.78" stop-color="#4b9a8c"/><stop offset="0.85" stop-color="#4fa689"/><stop offset="1" stop-color="#4da08a"/></linearGradient>
<linearGradient id="hf51"><stop offset="0" stop-color="#427e92"/><stop offset="0.03" stop-color="#458590"/><stop offset="0.08" stop-color="#50a988"/><stop offset="0.23" stop-color="#56b77d"/><stop offset="0.32" stop-color="#4ea589"/><stop offset="0.33" stop-color="#478e8e"/><stop offset="0.36" stop-color="#41478b"/><stop offset="0.37" stop-color="#452c74"/><stop offset="0.38" stop-color="#43377f"/><stop offset="0.39" stop-color="#3f568e"/><stop offset="0.4" stop-color="#4a978c"/><stop offset="0.42" stop-color="#5cbe75"/><stop offset="0.44" stop-color="#9dd552"/><stop offset="0.46" stop-color="#bde048"/><stop offset="0.5" stop-color="#cae446"/><stop offset="0.54" stop-color="#b4dd4a"/><stop offset="0.6" stop-color="#5ec072"/><stop offset="0.65" stop-color="#4c9d8b"/><stop offset="0.71" stop-color="#3f578f"/><stop offset="0.73" stop-color="#40518d"/><stop offset="0.75" stop-color="#407091"/><stop offset="0.79" stop-color="#4b9b8b"/><stop offset="0.86" stop-color="#4ea589"/><stop offset="1" stop-color="#4da08a"/></linearGradient>
<linearGradient id="hf52"><stop offset="0" stop-color="#437e92"/><stop offset="0.03" stop-color="#458590"/><stop offset="0.08" stop-color="#50a988"/><stop offset="0.23" stop-color="#57b77d"/><stop offset="0.31" stop-color="#4fa689"/><stop offset="0.33" stop-color="#48908e"/><stop offset="0.35" stop-color="#414b8c"/><stop offset="0.36" stop-color="#452d75"/><stop offset="0.38" stop-color="#44337b"/><stop offset="0.39" stop-color="#3f6390"/><stop offset="0.4" stop-color="#4da28a"/><stop offset="0.42" stop-color="#60c270"/><stop offset="0.44" stop-color="#a2d750"/><stop offset="0.46" stop-color="#c2e147"/><stop offset="0.5" stop-color="#cae446"/><stop offset="0.55" stop-color="#b0db4b"/><stop offset="0.6" stop-color="#5fc172"/><stop offset="0.66" stop-color="#4da08a"/><stop offset="0.69" stop-color="#407191"/><stop offset="0.72" stop-color="#404d8c"/><stop offset="0.75" stop-color="#3f558e"/><stop offset="0.79" stop-color="#49948d"/><stop offset="0.83" stop-color="#4ea489"/><stop offset="1" stop-color="#4da08a"/></linearGradient>
<linearGradient id="hf53"><stop offset="0" stop-color="#438191"/><stop offset="0.03" stop-color="#458790"/><stop offset="0.08" stop-color="#50aa88"/><stop offset="0.23" stop-color="#57b97b"/><stop offset="0.31" stop-color="#4fa889"/><stop offset="0.33" stop-color="#49938d"/><stop offset="0.35" stop-color="#40508d"/><stop offset="0.36" stop-color="#442f77"/><stop offset="0.37" stop-color="#443078"/><stop offset="0.39" stop-color="#3e5c8f"/><stop offset="0.4" stop-color="#51ab87"/><stop offset="0.42" stop-color="#6ac66a"/><stop offset="0.43" stop-color="#9fd651"/><stop offset="0.45" stop-color="#bee048"/><stop offset="0.49" stop-color="#cde545"/><stop offset="0.54" stop-color="#b8de49"/><stop offset="0.58" stop-color="#7fcc5f"/><stop offset="0.61" stop-color="#60c271"/><stop offset="0.67" stop-color="#4c9f8a"/><stop offset="0.7" stop-color="#417592"/><stop offset="0.73" stop-color="#414b8c"/><stop offset="0.75" stop-color="#404f8d"/><stop offset="0.79" stop-color="#48918e"/><stop offset="0.83" stop-color="#4ea38a"/><stop offset="1" stop-color="#4da08a"/></linearGradient>
<linearGradient id="hf54"><stop offset="0" stop-color="#458590"/><stop offset="0.03" stop-color="#468b8f"/><stop offset="0.08" stop-color="#52ae85"/><stop offset="0.23" stop-color="#59bb79"/><stop offset="0.31" stop-color="#50aa88"/><stop offset="0.33" stop-color="#478d8e"/><stop offset="0.35" stop-color="#41478b"/><stop offset="0.36" stop-color="#452d75"/><stop offset="0.37" stop-color="#43377f"/><stop offset="0.39" stop-color="#406b91"/><stop offset="0.4" stop-color="#4fa789"/><stop offset="0.41" stop-color="#65c56d"/><stop offset="0.43" stop-color="#9dd552"/><stop offset="0.45" stop-color="#bee048"/><stop offset="0.49" stop-color="#d0e645"/><stop offset="0.54" stop-color="#bcdf48"/><stop offset="0.58" stop-color="#8fd057"/><stop offset="0.61" stop-color="#5fc172"/><stop offset="0.68" stop-color="#4b9c8b"/><stop offset="0.72" stop-color="#3f6390"/><stop offset="0.74" stop-color="#41478b"/><stop offset="0.76" stop-color="#404d8c"/><stop offset="0.8" stop-color="#48928d"/><stop offset="0.84" stop-color="#4ea38a"/><stop offset="1" stop-color="#4da18a"/></linearGradient>
<linearGradient id="hf55"><stop offset="0" stop-color="#458690"/><stop offset="0.03" stop-color="#478c8f"/><stop offset="0.08" stop-color="#52ae85"/><stop offset="0.23" stop-color="#59bb79"/><stop offset="0.31" stop-color="#4fa789"/><stop offset="0.32" stop-color="#478e8e"/><stop offset="0.34" stop-color="#41498b"/><stop offset="0.36" stop-color="#452e76"/><stop offset="0.37" stop-color="#44347c"/><stop offset="0.38" stop-color="#3f6390"/><stop offset="0.39" stop-color="#4da18a"/><stop offset="0.41" stop-color="#60c271"/><stop offset="0.43" stop-color="#a2d750"/><stop offset="0.45" stop-color="#c4e247"/><stop offset="0.5" stop-color="#d0e645"/><stop offset="0.55" stop-color="#b8de49"/><stop offset="0.59" stop-color="#82cc5d"/><stop offset="0.62" stop-color="#5fc171"/><stop offset="0.68" stop-color="#4c9e8b"/><stop offset="0.72" stop-color="#406f91"/><stop offset="0.74" stop-color="#42458b"/><stop offset="0.76" stop-color="#41468b"/><stop offset="0.8" stop-color="#45888f"/><stop offset="0.83" stop-color="#4c9f8a"/><stop offset="1" stop-color="#4da18a"/></linearGradient>
<linearGradient id="hf56"><stop offset="0" stop-color="#448391"/><stop offset="0.03" stop-color="#46888f"/><stop offset="0.08" stop-color="#50ab88"/><stop offset="0.23" stop-color="#57b97b"/><stop offset="0.3" stop-color="#4ea589"/><stop offset="0.32" stop-color="#468c8f"/><stop offset="0.34" stop-color="#41478b"/><stop offset="0.35" stop-color="#452c74"/><stop offset="0.36" stop-color="#443078"/><stop offset="0.38" stop-color="#3f5b8f"/><stop offset="0.39" stop-color="#50a888"/><stop offset="0.41" stop-color="#64c56d"/><stop offset="0.42" stop-color="#9ad453"/><stop offset="0.44" stop-color="#bcdf48"/><stop offset="0.48" stop-color="#cfe645"/><stop offset="0.54" stop-color="#bee048"/><stop offset="0.58" stop-color="#99d453"/><stop offset="0.62" stop-color="#5fc172"/><stop offset="0.69" stop-color="#4b9c8b"/><stop offset="0.72" stop-color="#417291"/><stop offset="0.75" stop-color="#423f87"/><stop offset="0.77" stop-color="#424289"/><stop offset="0.81" stop-color="#458790"/><stop offset="0.84" stop-color="#4c9d8b"/><stop offset="1" stop-color="#4da08a"/></linearGradient>
<linearGradient id="hf57"><stop offset="0" stop-color="#458590"/><stop offset="0.03" stop-color="#478d8e"/><stop offset="0.09" stop-color="#51ad86"/><stop offset="0.23" stop-color="#58ba7a"/><stop offset="0.3" stop-color="#4fa689"/><stop offset="0.31" stop-color="#478d8e"/><stop offset="0.33" stop-color="#41498b"/><stop offset="0.35" stop-color="#452d75"/><stop offset="0.36" stop-color="#443078"/><stop offset="0.37" stop-color="#3f588f"/><stop offset="0.39" stop-color="#4ea589"/><stop offset="0.4" stop-color="#61c370"/><stop offset="0.42" stop-color="#a0d651"/><stop offset="0.45" stop-color="#c3e247"/><stop offset="0.49" stop-color="#d0e645"/><stop offset="0.56" stop-color="#b8de49"/><stop offset="0.6" stop-color="#87ce5a"/><stop offset="0.63" stop-color="#60c271"/><stop offset="0.7" stop-color="#4b9b8b"/><stop offset="0.73" stop-color="#406e91"/><stop offset="0.75" stop-color="#423f87"/><stop offset="0.78" stop-color="#433c84"/><stop offset="0.8" stop-color="#3f5f90"/><stop offset="0.82" stop-color="#478d8e"/><stop offset="0.86" stop-color="#4c9f8a"/><stop offset="1" stop-color="#4da08a"/></linearGradient>
<linearGradient id="hf58"><stop offset="0" stop-color="#458790"/><stop offset="0.03" stop-color="#478f8e"/><stop offset="0.09" stop-color="#52ae84"/><stop offset="0.23" stop-color="#58ba7a"/><stop offset="0.29" stop-color="#4fa789"/><stop offset="0.31" stop-color="#478e8e"/><stop offset="0.33" stop-color="#414a8c"/><stop offset="0.34" stop-color="#452d75"/><stop offset="0.36" stop-color="#442f77"/><stop offset="0.37" stop-color="#3f568e"/><stop offset="0.38" stop-color="#49938d"/><stop offset="0.39" stop-color="#58ba7a"/><stop offset="0.42" stop-color="#93d256"/><stop offset="0.44" stop-color="#b9de49"/><stop offset="0.47" stop-color="#d0e645"/><stop offset="0.54" stop-color="#c4e247"/><stop offset="0.58" stop-color="#a5d84f"/><stop offset="0.63" stop-color="#60c270"/><stop offset="0.71" stop-color="#4b9a8b"/><stop offset="0.74" stop-color="#406991"/><stop offset="0.76" stop-color="#433b83"/><stop offset="0.78" stop-color="#433a82"/><stop offset="0.82" stop-color="#427b92"/><stop offset="0.85" stop-color="#4b9a8c"/><stop offset="1" stop-color="#4da08a"/></linearGradient>
<linearGradient id="hf59"><stop offset="0" stop-color="#46898f"/><stop offset="0.03" stop-color="#48918e"/><stop offset="0.09" stop-color="#52af84"/><stop offset="0.23" stop-color="#58ba7a"/><stop offset="0.29" stop-color="#4fa888"/><stop offset="0.31" stop-color="#488f8e"/><stop offset="0.33" stop-color="#414b8c"/><stop offset="0.34" stop-color="#452e76"/><stop offset="0.35" stop-color="#442e76"/><stop offset="0.36" stop-color="#40538e"/><stop offset="0.38" stop-color="#48908e"/><stop offset="0.39" stop-color="#57b87c"/><stop offset="0.4" stop-color="#78ca63"/><stop offset="0.42" stop-color="#abda4d"/><stop offset="0.46" stop-color="#cce546"/><stop offset="0.51" stop-color="#cee545"/><stop offset="0.58" stop-color="#aedb4c"/><stop offset="0.64" stop-color="#5fc172"/><stop offset="0.72" stop-color="#4a998c"/><stop offset="0.75" stop-color="#3f6590"/><stop offset="0.77" stop-color="#43377f"/><stop offset="0.79" stop-color="#44357d"/><stop offset="0.81" stop-color="#3f6290"/><stop offset="0.84" stop-color="#478d8e"/><stop offset="0.88" stop-color="#4c9e8b"/><stop offset="1" stop-color="#4da18a"/></linearGradient>
<linearGradient id="hf60"><stop offset="0" stop-color="#45888f"/><stop offset="0.03" stop-color="#48908e"/><stop offset="0.1" stop-color="#52af84"/><stop offset="0.23" stop-color="#58b97b"/><stop offset="0.28" stop-color="#4fa889"/><stop offset="0.3" stop-color="#478f8e"/><stop offset="0.32" stop-color="#414c8c"/><stop offset="0.33" stop-color="#452e76"/><stop offset="0.35" stop-color="#452d75"/><stop offset="0.36" stop-color="#40508d"/><stop offset="0.37" stop-color="#478c8f"/><stop offset="0.39" stop-color="#56b67e"/><stop offset="0.39" stop-color="#64c46d"/><stop offset="0.42" stop-color="#a0d651"/><stop offset="0.44" stop-color="#c2e147"/><stop offset="0.48" stop-color="#d1e645"/><stop offset="0.56" stop-color="#bee048"/><stop offset="0.6" stop-color="#99d453"/><stop offset="0.64" stop-color="#61c370"/><stop offset="0.72" stop-color="#4a978c"/><stop offset="0.75" stop-color="#3f6090"/><stop offset="0.78" stop-color="#43377f"/><stop offset="0.79" stop-color="#443078"/><stop offset="0.81" stop-color="#40508d"/><stop offset="0.84" stop-color="#458790"/><stop offset="0.88" stop-color="#4b9c8b"/><stop offset="1" stop-color="#4da08a"/></linearGradient>
<linearGradient id="hf61"><stop offset="0" stop-color="#478d8e"/><stop offset="0.03" stop-color="#49948d"/><stop offset="0.1" stop-color="#54b182"/><stop offset="0.23" stop-color="#59bb79"/><stop offset="0.28" stop-color="#4fa689"/><stop offset="0.3" stop-color="#458890"/><stop offset="0.32" stop-color="#424189"/><stop offset="0.33" stop-color="#452b73"/><stop offset="0.35" stop-color="#44357d"/><stop offset="0.36" stop-color="#3f6290"/><stop offset="0.38" stop-color="#50aa87"/><stop offset="0.39" stop-color="#64c46e"/><stop offset="0.41" stop-color="#a0d651"/><stop offset="0.44" stop-color="#c2e147"/><stop offset="0.48" stop-color="#d2e645"/><stop offset="0.55" stop-color="#c3e247"/><stop offset="0.6" stop-color="#a0d651"/><stop offset="0.65" stop-color="#60c271"/><stop offset="0.73" stop-color="#4b9b8b"/><stop offset="0.75" stop-color="#417191"/><stop offset="0.78" stop-color="#433981"/><stop offset="0.8" stop-color="#442f77"/><stop offset="0.82" stop-color="#41488b"/><stop offset="0.85" stop-color="#45888f"/><stop offset="0.89" stop-color="#4b9c8b"/><stop offset="1" stop-color="#4da18a"/></linearGradient>
<linearGradient id="hf62"><stop offset="0" stop-color="#478f8e"/><stop offset="0.03" stop-color="#4a968c"/><stop offset="0.1" stop-color="#55b380"/><stop offset="0.23" stop-color="#59bb79"/><stop offset="0.28" stop-color="#50a988"/><stop offset="0.3" stop-color="#468c8f"/><stop offset="0.31" stop-color="#40528d"/><stop offset="0.33" stop-color="#443179"/><stop offset="0.34" stop-color="#452e76"/><stop offset="0.35" stop-color="#404e8c"/><stop offset="0.36" stop-color="#45888f"/><stop offset="0.38" stop-color="#55b380"/><stop offset="0.39" stop-color="#61c36f"/><stop offset="0.41" stop-color="#9ed552"/><stop offset="0.43" stop-color="#c2e147"/><stop offset="0.47" stop-color="#d3e745"/><stop offset="0.55" stop-color="#c6e347"/><stop offset="0.6" stop-color="#a5d84f"/><stop offset="0.65" stop-color="#60c270"/><stop offset="0.74" stop-color="#4b9b8b"/><stop offset="0.76" stop-color="#406e91"/><stop offset="0.78" stop-color="#433c84"/><stop offset="0.8" stop-color="#442e76"/><stop offset="0.82" stop-color="#424188"/><stop offset="0.86" stop-color="#448291"/><stop offset="0.89" stop-color="#4b9a8c"/><stop offset="1" stop-color="#4da28a"/></linearGradient>
<linearGradient id="hf63"><stop offset="0" stop-color="#488f8e"/><stop offset="0.03" stop-color="#4a978c"/><stop offset="0.1" stop-color="#55b380"/><stop offset="0.23" stop-color="#58ba79"/><stop offset="0.28" stop-color="#4ea589"/><stop offset="0.3" stop-color="#448390"/><stop offset="0.31" stop-color="#41488b"/><stop offset="0.33" stop-color="#452d75"/><stop offset="0.34" stop-color="#44327a"/><stop offset="0.35" stop-color="#3f5c8f"/><stop offset="0.37" stop-color="#4fa689"/><stop offset="0.38" stop-color="#60c271"/><stop offset="0.4" stop-color="#9cd553"/><stop offset="0.43" stop-color="#c0e148"/><stop offset="0.47" stop-color="#d3e745"/><stop offset="0.55" stop-color="#c7e347"/><stop offset="0.6" stop-color="#a4d74f"/><stop offset="0.66" stop-color="#60c270"/><stop offset="0.74" stop-color="#4c9d8b"/><stop offset="0.77" stop-color="#417592"/><stop offset="0.79" stop-color="#433a82"/><stop offset="0.81" stop-color="#442e76"/><stop offset="0.83" stop-color="#41488b"/><stop offset="0.87" stop-color="#458790"/><stop offset="0.9" stop-color="#4b9b8b"/><stop offset="1" stop-color="#4da28a"/></linearGradient>
<linearGradient id="hf64"><stop offset="0" stop-color="#48918d"/><stop offset="0.04" stop-color="#4b9b8b"/><stop offset="0.11" stop-color="#56b67d"/><stop offset="0.23" stop-color="#58ba7a"/><stop offset="0.28" stop-color="#4fa889"/><stop offset="0.29" stop-color="#46898f"/><stop offset="0.31" stop-color="#404e8d"/><stop offset="0.32" stop-color="#442f77"/><stop offset="0.33" stop-color="#443078"/><stop offset="0.35" stop-color="#3f588f"/><stop offset="0.36" stop-color="#4ea489"/><stop offset="0.38" stop-color="#6bc669"/><stop offset="0.4" stop-color="#a3d750"/><stop offset="0.43" stop-color="#c7e346"/><stop offset="0.48" stop-color="#d4e745"/><stop offset="0.56" stop-color="#c5e247"/><stop offset="0.61" stop-color="#a3d750"/><stop offset="0.66" stop-color="#60c270"/><stop offset="0.75" stop-color="#4c9d8b"/><stop offset="0.78" stop-color="#417291"/><stop offset="0.8" stop-color="#433a82"/><stop offset="0.82" stop-color="#442f77"/><stop offset="0.84" stop-color="#41488b"/><stop offset="0.88" stop-color="#458790"/><stop offset="0.91" stop-color="#4b9b8b"/><stop offset="1" stop-color="#4ea38a"/></linearGradient>
<linearGradient id="hf65"><stop offset="0" stop-color="#48908e"/><stop offset="0.04" stop-color="#4a998c"/><stop offset="0.11" stop-color="#55b47f"/><stop offset="0.23" stop-color="#57b87c"/><stop offset="0.28" stop-color="#4ea38a"/><stop offset="0.29" stop-color="#437f91"/><stop offset="0.31" stop-color="#42448a"/><stop offset="0.32" stop-color="#452b73"/><stop offset="0.33" stop-color="#44347c"/><stop offset="0.35" stop-color="#3f6390"/><stop offset="0.36" stop-color="#4c9e8b"/><stop offset="0.38" stop-color="#65c56d"/><stop offset="0.4" stop-color="#a0d651"/><stop offset="0.43" stop-color="#c5e247"/><stop offset="0.47" stop-color="#d4e745"/><stop offset="0.56" stop-color="#c4e247"/><stop offset="0.61" stop-color="#a4d74f"/><stop offset="0.67" stop-color="#60c271"/><stop offset="0.75" stop-color="#4c9f8a"/><stop offset="0.78" stop-color="#427a92"/><stop offset="0.81" stop-color="#424087"/><stop offset="0.83" stop-color="#452d75"/><stop offset="0.85" stop-color="#423f87"/><stop offset="0.88" stop-color="#438091"/><stop offset="0.91" stop-color="#4a998c"/><stop offset="1" stop-color="#4da28a"/></linearGradient>
<linearGradient id="hf66"><stop offset="0" stop-color="#478f8e"/><stop offset="0.04" stop-color="#4a998c"/><stop offset="0.11" stop-color="#55b47f"/><stop offset="0.23" stop-color="#56b77d"/><stop offset="0.27" stop-color="#4ea489"/><stop offset="0.29" stop-color="#448391"/><stop offset="0.31" stop-color="#41488b"/><stop offset="0.32" stop-color="#452c74"/><stop offset="0.33" stop-color="#443078"/><stop offset="0.34" stop-color="#3f5a8f"/><stop offset="0.36" stop-color="#4fa689"/><stop offset="0.37" stop-color="#60c270"/><stop offset="0.39" stop-color="#9bd453"/><stop offset="0.42" stop-color="#c0e148"/><stop offset="0.46" stop-color="#d3e745"/><stop offset="0.55" stop-color="#c8e346"/><stop offset="0.61" stop-color="#a6d84e"/><stop offset="0.67" stop-color="#60c271"/><stop offset="0.76" stop-color="#4c9e8b"/><stop offset="0.79" stop-color="#427892"/><stop offset="0.81" stop-color="#423f87"/><stop offset="0.83" stop-color="#452c74"/><stop offset="0.86" stop-color="#423f87"/><stop offset="0.89" stop-color="#437f91"/><stop offset="0.92" stop-color="#4b9a8c"/><stop offset="1" stop-color="#4da28a"/></linearGradient>
<linearGradient id="hf67"><stop offset="0" stop-color="#48928d"/><stop offset="0.04" stop-color="#4b9b8b"/><stop offset="0.11" stop-color="#56b67e"/><stop offset="0.23" stop-color="#56b77d"/><stop offset="0.27" stop-color="#4da28a"/><stop offset="0.29" stop-color="#427c92"/><stop offset="0.31" stop-color="#424189"/><stop offset="0.32" stop-color="#452b73"/><stop offset="0.33" stop-color="#43377f"/><stop offset="0.34" stop-color="#3f6891"/><stop offset="0.36" stop-color="#4da18a"/><stop offset="0.37" stop-color="#69c66b"/><stop offset="0.39" stop-color="#a2d750"/><stop offset="0.42" stop-color="#c7e347"/><stop offset="0.47" stop-color="#d5e745"/><stop offset="0.56" stop-color="#c6e347"/><stop offset="0.61" stop-color="#a6d84f"/><stop offset="0.67" stop-color="#60c270"/><stop offset="0.77" stop-color="#4c9f8a"/><stop offset="0.8" stop-color="#427992"/><stop offset="0.82" stop-color="#424087"/><stop offset="0.84" stop-color="#452d75"/><stop offset="0.86" stop-color="#423f87"/><stop offset="0.9" stop-color="#438091"/><stop offset="0.93" stop-color="#4a998c"/><stop offset="1" stop-color="#4ea38a"/></linearGradient>
<linearGradient id="hf68"><stop offset="0" stop-color="#48908e"/><stop offset="0.04" stop-color="#4b9a8c"/><stop offset="0.11" stop-color="#55b47f"/><stop offset="0.22" stop-color="#56b57e"/><stop offset="0.27" stop-color="#4da28a"/><stop offset="0.28" stop-color="#438091"/><stop offset="0.3" stop-color="#42458b"/><stop offset="0.31" stop-color="#452b73"/><stop offset="0.33" stop-color="#44337b"/><stop offset="0.34" stop-color="#3e5f90"/><stop offset="0.36" stop-color="#50a988"/><stop offset="0.37" stop-color="#62c36f"/><stop offset="0.39" stop-color="#9cd552"/><stop offset="0.42" stop-color="#c0e148"/><stop offset="0.46" stop-color="#d4e745"/><stop offset="0.55" stop-color="#c9e446"/><stop offset="0.61" stop-color="#a7d84e"/><stop offset="0.68" stop-color="#60c271"/><stop offset="0.78" stop-color="#4da28a"/><stop offset="0.8" stop-color="#438191"/><stop offset="0.83" stop-color="#423f87"/><stop offset="0.85" stop-color="#452c74"/><stop offset="0.87" stop-color="#423e86"/><stop offset="0.91" stop-color="#438091"/><stop offset="0.94" stop-color="#4a998c"/><stop offset="1" stop-color="#4ea38a"/></linearGradient>
<linearGradient id="hf69"><stop offset="0" stop-color="#48908e"/><stop offset="0.04" stop-color="#4b9a8c"/><stop offset="0.11" stop-color="#55b47f"/><stop offset="0.22" stop-color="#55b480"/><stop offset="0.26" stop-color="#4da28a"/><stop offset="0.28" stop-color="#448291"/><stop offset="0.3" stop-color="#41498c"/><stop offset="0.31" stop-color="#452d75"/><stop offset="0.32" stop-color="#442f77"/><stop offset="0.33" stop-color="#3f588f"/><stop offset="0.35" stop-color="#4ea489"/><stop offset="0.37" stop-color="#69c66a"/><stop offset="0.39" stop-color="#a0d651"/><stop offset="0.42" stop-color="#c5e247"/><stop offset="0.47" stop-color="#d4e745"/><stop offset="0.56" stop-color="#c6e347"/><stop offset="0.61" stop-color="#a5d84f"/><stop offset="0.68" stop-color="#61c36f"/><stop offset="0.78" stop-color="#4da18a"/><stop offset="0.81" stop-color="#438091"/><stop offset="0.84" stop-color="#423f87"/><stop offset="0.86" stop-color="#452b73"/><stop offset="0.88" stop-color="#433e86"/><stop offset="0.92" stop-color="#438191"/><stop offset="0.94" stop-color="#4b9a8c"/><stop offset="1" stop-color="#4da28a"/></linearGradient>
<linearGradient id="hf70"><stop offset="0" stop-color="#48918d"/><stop offset="0.04" stop-color="#4b9b8b"/><stop offset="0.11" stop-color="#55b57e"/><stop offset="0.22" stop-color="#54b380"/><stop offset="0.26" stop-color="#4c9e8b"/><stop offset="0.28" stop-color="#417792"/><stop offset="0.3" stop-color="#424088"/><stop offset="0.31" stop-color="#452a72"/><stop offset="0.32" stop-color="#44357d"/><stop offset="0.33" stop-color="#3f6590"/><stop offset="0.35" stop-color="#4c9f8b"/><stop offset="0.36" stop-color="#64c46d"/><stop offset="0.39" stop-color="#9dd552"/><stop offset="0.42" stop-color="#c4e247"/><stop offset="0.46" stop-color="#d5e745"/><stop offset="0.56" stop-color="#c7e346"/><stop offset="0.62" stop-color="#a4d74f"/><stop offset="0.68" stop-color="#61c36f"/><stop offset="0.79" stop-color="#4da28a"/><stop offset="0.82" stop-color="#438191"/><stop offset="0.85" stop-color="#423f86"/><stop offset="0.87" stop-color="#452b73"/><stop offset="0.89" stop-color="#423f87"/><stop offset="0.92" stop-color="#448391"/><stop offset="0.95" stop-color="#4b9a8b"/><stop offset="1" stop-color="#4ea38a"/></linearGradient>
<linearGradient id="hf71"><stop offset="0" stop-color="#49938d"/><stop offset="0.04" stop-color="#4c9d8b"/><stop offset="0.11" stop-color="#56b67d"/><stop offset="0.22" stop-color="#55b480"/><stop offset="0.26" stop-color="#4c9f8a"/><stop offset="0.28" stop-color="#427a92"/><stop offset="0.29" stop-color="#424289"/><stop offset="0.31" stop-color="#452c74"/><stop offset="0.32" stop-color="#44347c"/><stop offset="0.33" stop-color="#3e5f90"/><stop offset="0.35" stop-color="#4fa888"/><stop offset="0.36" stop-color="#61c370"/><stop offset="0.38" stop-color="#9bd453"/><stop offset="0.41" stop-color="#bfe048"/><stop offset="0.45" stop-color="#d4e745"/><stop offset="0.55" stop-color="#cbe446"/><stop offset="0.62" stop-color="#a7d84e"/><stop offset="0.69" stop-color="#61c36f"/><stop offset="0.8" stop-color="#4ea589"/><stop offset="0.82" stop-color="#46898f"/><stop offset="0.85" stop-color="#41478b"/><stop offset="0.87" stop-color="#452c74"/><stop offset="0.89" stop-color="#44347c"/><stop offset="0.91" stop-color="#3f5c8f"/><stop offset="0.94" stop-color="#468a8f"/><stop offset="0.97" stop-color="#4c9f8b"/><stop offset="1" stop-color="#4ea38a"/></linearGradient>
<linearGradient id="hf72"><stop offset="0" stop-color="#478f8e"/><stop offset="0.04" stop-color="#4b9a8c"/><stop offset="0.11" stop-color="#55b480"/><stop offset="0.22" stop-color="#53b083"/><stop offset="0.25" stop-color="#4c9d8b"/><stop offset="0.27" stop-color="#417892"/><stop offset="0.29" stop-color="#424188"/><stop offset="0.3" stop-color="#452a72"/><stop offset="0.31" stop-color="#443179"/><stop offset="0.33" stop-color="#3f5a8f"/><stop offset="0.34" stop-color="#4ea38a"/><stop offset="0.36" stop-color="#65c56c"/><stop offset="0.38" stop-color="#9cd552"/><stop offset="0.41" stop-color="#c2e147"/><stop offset="0.46" stop-color="#d4e745"/><stop offset="0.56" stop-color="#c7e346"/><stop offset="0.62" stop-color="#a3d750"/><stop offset="0.69" stop-color="#60c270"/><stop offset="0.81" stop-color="#4ea489"/><stop offset="0.83" stop-color="#458790"/><stop offset="0.86" stop-color="#42458a"/><stop offset="0.88" stop-color="#452b73"/><stop offset="0.9" stop-color="#433a82"/><stop offset="0.93" stop-color="#406f91"/><stop offset="0.95" stop-color="#48928d"/><stop offset="1" stop-color="#4da18a"/></linearGradient>
<linearGradient id="hf73"><stop offset="0" stop-color="#48908e"/><stop offset="0.04" stop-color="#4b9b8b"/><stop offset="0.11" stop-color="#55b57f"/><stop offset="0.22" stop-color="#53b082"/><stop offset="0.25" stop-color="#4c9e8b"/><stop offset="0.27" stop-color="#427a92"/><stop offset="0.28" stop-color="#42438a"/><stop offset="0.3" stop-color="#452b73"/><stop offset="0.31" stop-color="#443179"/><stop offset="0.32" stop-color="#3f598f"/><stop offset="0.34" stop-color="#4da18a"/><stop offset="0.36" stop-color="#64c46e"/><stop offset="0.38" stop-color="#a1d650"/><stop offset="0.42" stop-color="#c7e346"/><stop offset="0.47" stop-color="#d5e745"/><stop offset="0.56" stop-color="#c5e247"/><stop offset="0.63" stop-color="#a3d750"/><stop offset="0.69" stop-color="#60c270"/><stop offset="0.81" stop-color="#4fa789"/><stop offset="0.83" stop-color="#478f8e"/><stop offset="0.86" stop-color="#404d8c"/><stop offset="0.89" stop-color="#452c74"/><stop offset="0.9" stop-color="#443078"/><stop offset="0.92" stop-color="#3f568e"/><stop offset="0.95" stop-color="#458790"/><stop offset="0.98" stop-color="#4c9e8b"/><stop offset="1" stop-color="#4da18a"/></linearGradient>
<linearGradient id="hf74"><stop offset="0" stop-color="#48928d"/><stop offset="0.04" stop-color="#4c9d8b"/><stop offset="0.11" stop-color="#56b67d"/><stop offset="0.22" stop-color="#53b083"/><stop offset="0.25" stop-color="#4b9a8c"/><stop offset="0.27" stop-color="#406f91"/><stop offset="0.28" stop-color="#433a82"/><stop offset="0.3" stop-color="#452a72"/><stop offset="0.31" stop-color="#433a82"/><stop offset="0.32" stop-color="#406b91"/><stop offset="0.33" stop-color="#4da18a"/><stop offset="0.35" stop-color="#63c46e"/><stop offset="0.38" stop-color="#a0d651"/><stop offset="0.41" stop-color="#c7e347"/><stop offset="0.47" stop-color="#d5e745"/><stop offset="0.56" stop-color="#c7e347"/><stop offset="0.63" stop-color="#a6d84f"/><stop offset="0.7" stop-color="#61c370"/><stop offset="0.82" stop-color="#4fa789"/><stop offset="0.84" stop-color="#478f8e"/><stop offset="0.87" stop-color="#414b8c"/><stop offset="0.89" stop-color="#452c74"/><stop offset="0.91" stop-color="#44327a"/><stop offset="0.93" stop-color="#3f598f"/><stop offset="0.96" stop-color="#46898f"/><stop offset="0.99" stop-color="#4c9f8a"/><stop offset="1" stop-color="#4da18a"/></linearGradient>
<linearGradient id="hf75"><stop offset="0" stop-color="#48918d"/><stop offset="0.04" stop-color="#4c9d8b"/><stop offset="0.11" stop-color="#56b57e"/><stop offset="0.21" stop-color="#53b182"/><stop offset="0.24" stop-color="#4c9f8a"/><stop offset="0.26" stop-color="#437d91"/><stop offset="0.28" stop-color="#433b83"/><stop offset="0.29" stop-color="#452a72"/><stop offset="0.31" stop-color="#433981"/><stop offset="0.32" stop-color="#3f6991"/><stop offset="0.33" stop-color="#4c9f8b"/><stop offset="0.35" stop-color="#61c36f"/><stop offset="0.37" stop-color="#9ed552"/><stop offset="0.4" stop-color="#c2e147"/><stop offset="0.45" stop-color="#d4e745"/><stop offset="0.55" stop-color="#cbe446"/><stop offset="0.63" stop-color="#a7d84e"/><stop offset="0.7" stop-color="#61c36f"/><stop offset="0.82" stop-color="#50a988"/><stop offset="0.85" stop-color="#478d8e"/><stop offset="0.88" stop-color="#41488b"/><stop offset="0.9" stop-color="#452b73"/><stop offset="0.92" stop-color="#44327a"/><stop offset="0.94" stop-color="#3f5b8f"/><stop offset="0.97" stop-color="#468a8f"/><stop offset="1" stop-color="#4c9f8a"/></linearGradient>
<linearGradient id="hf76"><stop offset="0" stop-color="#488f8e"/><stop offset="0.04" stop-color="#4b9c8b"/><stop offset="0.11" stop-color="#55b47f"/><stop offset="0.21" stop-color="#52af84"/><stop offset="0.24" stop-color="#4a998c"/><stop offset="0.26" stop-color="#407091"/><stop offset="0.28" stop-color="#433b83"/><stop offset="0.29" stop-color="#452971"/><stop offset="0.3" stop-color="#43377f"/><stop offset="0.31" stop-color="#3f6590"/><stop offset="0.33" stop-color="#50a988"/><stop offset="0.35" stop-color="#69c66a"/><stop offset="0.37" stop-color="#a1d650"/><stop offset="0.41" stop-color="#c5e247"/><stop offset="0.46" stop-color="#d5e745"/><stop offset="0.56" stop-color="#c6e347"/><stop offset="0.63" stop-color="#a4d74f"/><stop offset="0.7" stop-color="#61c36f"/><stop offset="0.83" stop-color="#50a988"/><stop offset="0.86" stop-color="#468a8f"/><stop offset="0.89" stop-color="#42458a"/><stop offset="0.91" stop-color="#452a72"/><stop offset="0.93" stop-color="#44337b"/><stop offset="0.95" stop-color="#3f5c8f"/><stop offset="0.97" stop-color="#468b8f"/><stop offset="1" stop-color="#4c9d8b"/></linearGradient>
<linearGradient id="hf77"><stop offset="0" stop-color="#48908e"/><stop offset="0.04" stop-color="#4b9c8b"/><stop offset="0.11" stop-color="#55b47f"/><stop offset="0.2" stop-color="#52af84"/><stop offset="0.24" stop-color="#4a998c"/><stop offset="0.25" stop-color="#417191"/><stop offset="0.27" stop-color="#433c84"/><stop offset="0.28" stop-color="#452a72"/><stop offset="0.3" stop-color="#44367e"/><stop offset="0.31" stop-color="#3f6390"/><stop offset="0.33" stop-color="#4fa789"/><stop offset="0.34" stop-color="#67c56b"/><stop offset="0.37" stop-color="#a0d651"/><stop offset="0.4" stop-color="#c4e247"/><stop offset="0.46" stop-color="#d5e745"/><stop offset="0.56" stop-color="#c8e346"/><stop offset="0.63" stop-color="#a6d84f"/><stop offset="0.7" stop-color="#62c46e"/><stop offset="0.83" stop-color="#51ac86"/><stop offset="0.86" stop-color="#478f8e"/><stop offset="0.89" stop-color="#414c8c"/><stop offset="0.92" stop-color="#452b73"/><stop offset="0.93" stop-color="#442f77"/><stop offset="0.95" stop-color="#3f558e"/><stop offset="0.98" stop-color="#478d8e"/><stop offset="1" stop-color="#4b9a8c"/></linearGradient>
<linearGradient id="hf78"><stop offset="0" stop-color="#478f8e"/><stop offset="0.04" stop-color="#4b9c8b"/><stop offset="0.11" stop-color="#55b47f"/><stop offset="0.2" stop-color="#52af84"/><stop offset="0.23" stop-color="#4b9a8c"/><stop offset="0.25" stop-color="#417291"/><stop offset="0.27" stop-color="#433c84"/><stop offset="0.28" stop-color="#452972"/><stop offset="0.29" stop-color="#44357d"/><stop offset="0.31" stop-color="#3f6190"/><stop offset="0.32" stop-color="#4fa689"/><stop offset="0.34" stop-color="#65c56d"/><stop offset="0.36" stop-color="#9ed552"/><stop offset="0.4" stop-color="#c3e247"/><stop offset="0.45" stop-color="#d4e745"/><stop offset="0.56" stop-color="#c8e346"/><stop offset="0.63" stop-color="#a7d84e"/><stop offset="0.71" stop-color="#61c36f"/><stop offset="0.83" stop-color="#52ad85"/><stop offset="0.87" stop-color="#49948d"/><stop offset="0.9" stop-color="#3f548e"/><stop offset="0.92" stop-color="#452d75"/><stop offset="0.94" stop-color="#452c74"/><stop offset="0.96" stop-color="#404d8c"/><stop offset="0.99" stop-color="#46888f"/><stop offset="1" stop-color="#49958d"/></linearGradient>
<linearGradient id="hf79"><stop offset="0" stop-color="#48908e"/><stop offset="0.04" stop-color="#4c9d8b"/><stop offset="0.11" stop-color="#55b57f"/><stop offset="0.2" stop-color="#52ae85"/><stop offset="0.23" stop-color="#4b9a8b"/><stop offset="0.25" stop-color="#417391"/><stop offset="0.26" stop-color="#433d85"/><stop offset="0.28" stop-color="#452a72"/><stop offset="0.29" stop-color="#44347c"/><stop offset="0.3" stop-color="#3f5f90"/><stop offset="0.32" stop-color="#4ea589"/><stop offset="0.33" stop-color="#64c46d"/><stop offset="0.36" stop-color="#9cd552"/><stop offset="0.39" stop-color="#c2e147"/><stop offset="0.45" stop-color="#d4e745"/><stop offset="0.56" stop-color="#cae446"/><stop offset="0.64" stop-color="#a6d84f"/><stop offset="0.71" stop-color="#61c36f"/><stop offset="0.84" stop-color="#52ae84"/><stop offset="0.88" stop-color="#48928d"/><stop offset="0.91" stop-color="#40518d"/><stop offset="0.93" stop-color="#452c74"/><stop offset="0.94" stop-color="#452c74"/><stop offset="0.97" stop-color="#404f8d"/><stop offset="1" stop-color="#468a8f"/><stop offset="1" stop-color="#478e8e"/></linearGradient>
<linearGradient id="hf80"><stop offset="0" stop-color="#48918e"/><stop offset="0.04" stop-color="#4c9e8b"/><stop offset="0.11" stop-color="#56b57e"/><stop offset="0.19" stop-color="#52af84"/><stop offset="0.22" stop-color="#4b9c8b"/><stop offset="0.24" stop-color="#417592"/><stop offset="0.26" stop-color="#423f87"/><stop offset="0.27" stop-color="#452b73"/><stop offset="0.28" stop-color="#44347c"/><stop offset="0.3" stop-color="#3f5e90"/><stop offset="0.31" stop-color="#4ea489"/><stop offset="0.33" stop-color="#63c46e"/><stop offset="0.36" stop-color="#9bd453"/><stop offset="0.39" stop-color="#c1e147"/><stop offset="0.44" stop-color="#d4e745"/><stop offset="0.56" stop-color="#cbe446"/><stop offset="0.64" stop-color="#a8d94e"/><stop offset="0.71" stop-color="#62c46e"/><stop offset="0.84" stop-color="#53b083"/><stop offset="0.88" stop-color="#4a978c"/><stop offset="0.91" stop-color="#3f6490"/><stop offset="0.92" stop-color="#433c84"/><stop offset="0.94" stop-color="#452a72"/><stop offset="0.96" stop-color="#433880"/><stop offset="0.98" stop-color="#3f6490"/><stop offset="1" stop-color="#448490"/></linearGradient>
<linearGradient id="hf81"><stop offset="0" stop-color="#48918d"/><stop offset="0.04" stop-color="#4c9e8b"/><stop offset="0.11" stop-color="#56b67e"/><stop offset="0.19" stop-color="#52ae84"/><stop offset="0.22" stop-color="#49968c"/><stop offset="0.25" stop-color="#3f5a8f"/><stop offset="0.26" stop-color="#442f77"/><stop offset="0.28" stop-color="#452d75"/><stop offset="0.29" stop-color="#414c8c"/><stop offset="0.31" stop-color="#49958d"/><stop offset="0.32" stop-color="#5cbe75"/><stop offset="0.35" stop-color="#9ad453"/><stop offset="0.39" stop-color="#c0e148"/><stop offset="0.44" stop-color="#d4e745"/><stop offset="0.55" stop-color="#cde546"/><stop offset="0.64" stop-color="#aad94d"/><stop offset="0.72" stop-color="#62c46e"/><stop offset="0.85" stop-color="#53b182"/><stop offset="0.89" stop-color="#49958d"/><stop offset="0.92" stop-color="#3f6190"/><stop offset="0.94" stop-color="#44347c"/><stop offset="0.95" stop-color="#452971"/><stop offset="0.97" stop-color="#424087"/><stop offset="1" stop-color="#417692"/></linearGradient>
<linearGradient id="hf82"><stop offset="0" stop-color="#48928d"/><stop offset="0.04" stop-color="#4c9f8a"/><stop offset="0.11" stop-color="#56b67d"/><stop offset="0.19" stop-color="#52af84"/><stop offset="0.22" stop-color="#4a978c"/><stop offset="0.24" stop-color="#3f5c8f"/><stop offset="0.26" stop-color="#443179"/><stop offset="0.27" stop-color="#452d75"/><stop offset="0.28" stop-color="#414b8c"/><stop offset="0.3" stop-color="#49948d"/><stop offset="0.32" stop-color="#5cbe76"/><stop offset="0.35" stop-color="#99d453"/><stop offset="0.38" stop-color="#bfe048"/><stop offset="0.44" stop-color="#d4e745"/><stop offset="0.55" stop-color="#cee545"/><stop offset="0.64" stop-color="#a8d94e"/><stop offset="0.72" stop-color="#63c46e"/><stop offset="0.85" stop-color="#54b281"/><stop offset="0.89" stop-color="#4a998c"/><stop offset="0.92" stop-color="#406a91"/><stop offset="0.94" stop-color="#433a82"/><stop offset="0.96" stop-color="#452971"/><stop offset="0.97" stop-color="#44337b"/><stop offset="1" stop-color="#3f5e90"/><stop offset="1" stop-color="#3f6590"/></linearGradient>
<linearGradient id="hf83"><stop offset="0" stop-color="#48908e"/><stop offset="0.04" stop-color="#4c9e8b"/><stop offset="0.11" stop-color="#55b57f"/><stop offset="0.19" stop-color="#51ac86"/><stop offset="0.22" stop-color="#49968c"/><stop offset="0.24" stop-color="#3e5b8f"/><stop offset="0.25" stop-color="#442f77"/><stop offset="0.27" stop-color="#452b73"/><stop offset="0.28" stop-color="#41488b"/><stop offset="0.3" stop-color="#48918d"/><stop offset="0.31" stop-color="#5abc77"/><stop offset="0.34" stop-color="#95d255"/><stop offset="0.38" stop-color="#bcdf48"/><stop offset="0.44" stop-color="#d3e745"/><stop offset="0.55" stop-color="#cde546"/><stop offset="0.64" stop-color="#a8d94e"/><stop offset="0.72" stop-color="#62c46f"/><stop offset="0.85" stop-color="#55b380"/><stop offset="0.9" stop-color="#4a978c"/><stop offset="0.93" stop-color="#3f6791"/><stop offset="0.95" stop-color="#433880"/><stop offset="0.97" stop-color="#442971"/><stop offset="0.98" stop-color="#44347c"/><stop offset="1" stop-color="#40528d"/></linearGradient>
<linearGradient id="hf84"><stop offset="0" stop-color="#48918e"/><stop offset="0.04" stop-color="#4c9f8b"/><stop offset="0.11" stop-color="#56b57e"/><stop offset="0.19" stop-color="#51ad86"/><stop offset="0.21" stop-color="#4a978c"/><stop offset="0.23" stop-color="#3e5c90"/><stop offset="0.25" stop-color="#433880"/><stop offset="0.26" stop-color="#452a72"/><stop offset="0.27" stop-color="#433b83"/><stop offset="0.29" stop-color="#437e91"/><stop offset="0.3" stop-color="#51ab87"/><stop offset="0.32" stop-color="#68c66b"/><stop offset="0.35" stop-color="#a1d650"/><stop offset="0.39" stop-color="#c6e347"/><stop offset="0.47" stop-color="#d6e745"/><stop offset="0.57" stop-color="#c7e346"/><stop offset="0.65" stop-color="#a3d750"/><stop offset="0.72" stop-color="#62c46e"/><stop offset="0.86" stop-color="#55b380"/><stop offset="0.91" stop-color="#4a968c"/><stop offset="0.94" stop-color="#3f6590"/><stop offset="0.95" stop-color="#433e86"/><stop offset="0.97" stop-color="#452971"/><stop offset="0.99" stop-color="#442f77"/><stop offset="1" stop-color="#424188"/></linearGradient>
<linearGradient id="hf85"><stop offset="0" stop-color="#49938d"/><stop offset="0.04" stop-color="#4ea38a"/><stop offset="0.11" stop-color="#57b77c"/><stop offset="0.19" stop-color="#50aa88"/><stop offset="0.21" stop-color="#48918e"/><stop offset="0.23" stop-color="#40518d"/><stop offset="0.25" stop-color="#44327a"/><stop offset="0.26" stop-color="#452d75"/><stop offset="0.27" stop-color="#41488b"/><stop offset="0.29" stop-color="#48908e"/><stop offset="0.31" stop-color="#5abc78"/><stop offset="0.33" stop-color="#95d255"/><stop offset="0.37" stop-color="#bcdf48"/><stop offset="0.43" stop-color="#d4e745"/><stop offset="0.55" stop-color="#cfe645"/><stop offset="0.64" stop-color="#a9d94d"/><stop offset="0.72" stop-color="#62c46e"/><stop offset="0.86" stop-color="#56b67e"/><stop offset="0.92" stop-color="#4b9b8b"/><stop offset="0.94" stop-color="#406f91"/><stop offset="0.96" stop-color="#433d85"/><stop offset="0.98" stop-color="#452971"/><stop offset="1" stop-color="#44347c"/></linearGradient>
<linearGradient id="hf86"><stop offset="0" stop-color="#49938d"/><stop offset="0.04" stop-color="#4ea38a"/><stop offset="0.11" stop-color="#56b77d"/><stop offset="0.19" stop-color="#50aa88"/><stop offset="0.21" stop-color="#48918d"/><stop offset="0.23" stop-color="#40528d"/><stop offset="0.24" stop-color="#44327a"/><stop offset="0.25" stop-color="#452d75"/><stop offset="0.27" stop-color="#41478b"/><stop offset="0.28" stop-color="#478f8e"/><stop offset="0.3" stop-color="#59bb78"/><stop offset="0.33" stop-color="#94d256"/><stop offset="0.36" stop-color="#badf49"/><stop offset="0.43" stop-color="#d3e745"/><stop offset="0.55" stop-color="#d0e645"/><stop offset="0.64" stop-color="#abda4d"/><stop offset="0.73" stop-color="#62c46e"/><stop offset="0.86" stop-color="#56b67d"/><stop offset="0.92" stop-color="#4b9a8c"/><stop offset="0.95" stop-color="#406d91"/><stop offset="0.97" stop-color="#433b83"/><stop offset="0.99" stop-color="#442971"/><stop offset="1" stop-color="#452b73"/></linearGradient>
<linearGradient id="hf87"><stop offset="0" stop-color="#48928d"/><stop offset="0.04" stop-color="#4ea38a"/><stop offset="0.11" stop-color="#56b67e"/><stop offset="0.18" stop-color="#50aa88"/><stop offset="0.2" stop-color="#48918d"/><stop offset="0.22" stop-color="#40528d"/><stop offset="0.24" stop-color="#44327a"/><stop offset="0.25" stop-color="#452c74"/><stop offset="0.26" stop-color="#41468b"/><stop offset="0.28" stop-color="#478e8e"/><stop offset="0.3" stop-color="#59ba79"/><stop offset="0.33" stop-color="#91d156"/><stop offset="0.36" stop-color="#bbdf48"/><stop offset="0.43" stop-color="#d3e745"/><stop offset="0.55" stop-color="#cfe645"/><stop offset="0.65" stop-color="#a8d94e"/><stop offset="0.73" stop-color="#62c46e"/><stop offset="0.87" stop-color="#56b77d"/><stop offset="0.93" stop-color="#4b9c8b"/><stop offset="0.95" stop-color="#417491"/><stop offset="0.98" stop-color="#433a82"/><stop offset="1" stop-color="#442971"/><stop offset="1" stop-color="#442870"/></linearGradient>
<linearGradient id="hf88"><stop offset="0" stop-color="#48928d"/><stop offset="0.04" stop-color="#4da28a"/><stop offset="0.11" stop-color="#55b57f"/><stop offset="0.18" stop-color="#50a988"/><stop offset="0.2" stop-color="#48918e"/><stop offset="0.22" stop-color="#40528d"/><stop offset="0.24" stop-color="#452c74"/><stop offset="0.25" stop-color="#443078"/><stop offset="0.26" stop-color="#3f548e"/><stop offset="0.28" stop-color="#4b9c8b"/><stop offset="0.3" stop-color="#5dbf73"/><stop offset="0.33" stop-color="#96d355"/><stop offset="0.36" stop-color="#bcdf48"/><stop offset="0.44" stop-color="#d4e745"/><stop offset="0.56" stop-color="#cde545"/><stop offset="0.65" stop-color="#a9d94d"/><stop offset="0.73" stop-color="#63c46e"/><stop offset="0.87" stop-color="#57b77c"/><stop offset="0.94" stop-color="#4b9b8b"/><stop offset="0.96" stop-color="#417291"/><stop offset="0.98" stop-color="#424087"/><stop offset="1" stop-color="#452a72"/></linearGradient>
<linearGradient id="hf89"><stop offset="0" stop-color="#49948d"/><stop offset="0.05" stop-color="#4fa689"/><stop offset="0.12" stop-color="#56b67e"/><stop offset="0.18" stop-color="#4fa889"/><stop offset="0.19" stop-color="#48928d"/><stop offset="0.22" stop-color="#3f548e"/><stop offset="0.23" stop-color="#452e76"/><stop offset="0.25" stop-color="#443179"/><stop offset="0.26" stop-color="#3f558e"/><stop offset="0.28" stop-color="#4b9c8b"/><stop offset="0.29" stop-color="#5ec073"/><stop offset="0.32" stop-color="#97d354"/><stop offset="0.36" stop-color="#bcdf48"/><stop offset="0.44" stop-color="#d4e745"/><stop offset="0.56" stop-color="#cee545"/><stop offset="0.65" stop-color="#a8d94e"/><stop offset="0.73" stop-color="#62c46e"/><stop offset="0.88" stop-color="#57b87c"/><stop offset="0.94" stop-color="#4b9b8b"/><stop offset="0.97" stop-color="#407191"/><stop offset="0.99" stop-color="#423e86"/><stop offset="1" stop-color="#44327a"/></linearGradient>
<linearGradient id="hf90"><stop offset="0" stop-color="#49968d"/><stop offset="0.1" stop-color="#56b57e"/><stop offset="0.17" stop-color="#51ab87"/><stop offset="0.19" stop-color="#49938d"/><stop offset="0.21" stop-color="#3f548e"/><stop offset="0.23" stop-color="#442f77"/><stop offset="0.24" stop-color="#44327a"/><stop offset="0.25" stop-color="#3f558e"/><stop offset="0.27" stop-color="#4b9c8b"/><stop offset="0.29" stop-color="#5ec073"/><stop offset="0.32" stop-color="#97d354"/><stop offset="0.36" stop-color="#bcdf48"/><stop offset="0.44" stop-color="#d4e745"/><stop offset="0.56" stop-color="#cfe645"/><stop offset="0.65" stop-color="#aad94d"/><stop offset="0.73" stop-color="#64c46d"/><stop offset="0.88" stop-color="#58b97b"/><stop offset="0.95" stop-color="#4c9e8b"/><stop offset="0.97" stop-color="#427992"/><stop offset="1" stop-color="#423f87"/></linearGradient>
<linearGradient id="hf91"><stop offset="0" stop-color="#48938d"/><stop offset="0.1" stop-color="#54b281"/><stop offset="0.16" stop-color="#51ab87"/><stop offset="0.19" stop-color="#488f8e"/><stop offset="0.21" stop-color="#40518d"/><stop offset="0.22" stop-color="#452d75"/><stop offset="0.24" stop-color="#443078"/><stop offset="0.25" stop-color="#40528d"/><stop offset="0.26" stop-color="#46898f"/><stop offset="0.28" stop-color="#53b083"/><stop offset="0.29" stop-color="#6bc669"/><stop offset="0.33" stop-color="#a3d750"/><stop offset="0.37" stop-color="#c3e247"/><stop offset="0.47" stop-color="#d6e745"/><stop offset="0.58" stop-color="#c8e346"/><stop offset="0.66" stop-color="#a6d84f"/><stop offset="0.73" stop-color="#63c46e"/><stop offset="0.89" stop-color="#58b97b"/><stop offset="0.96" stop-color="#4b9c8b"/><stop offset="0.98" stop-color="#417692"/><stop offset="1" stop-color="#40508d"/></linearGradient>
<linearGradient id="hf92"><stop offset="0" stop-color="#49938d"/><stop offset="0.1" stop-color="#54b182"/><stop offset="0.16" stop-color="#4fa888"/><stop offset="0.18" stop-color="#478f8e"/><stop offset="0.2" stop-color="#40508d"/><stop offset="0.22" stop-color="#452c74"/><stop offset="0.23" stop-color="#443078"/><stop offset="0.25" stop-color="#40538e"/><stop offset="0.26" stop-color="#4a998c"/><stop offset="0.28" stop-color="#5cbe75"/><stop offset="0.31" stop-color="#97d354"/><stop offset="0.36" stop-color="#bcdf48"/><stop offset="0.45" stop-color="#d4e745"/><stop offset="0.56" stop-color="#cce546"/><stop offset="0.66" stop-color="#a7d84e"/><stop offset="0.74" stop-color="#62c46e"/><stop offset="0.89" stop-color="#58ba7a"/><stop offset="0.97" stop-color="#4b9b8b"/><stop offset="0.99" stop-color="#417491"/><stop offset="1" stop-color="#3f6290"/></linearGradient>
<linearGradient id="hf93"><stop offset="0" stop-color="#49938d"/><stop offset="0.1" stop-color="#53b182"/><stop offset="0.16" stop-color="#4fa888"/><stop offset="0.18" stop-color="#478e8e"/><stop offset="0.2" stop-color="#404f8d"/><stop offset="0.22" stop-color="#452c74"/><stop offset="0.23" stop-color="#443078"/><stop offset="0.24" stop-color="#40538e"/><stop offset="0.26" stop-color="#4a998c"/><stop offset="0.28" stop-color="#5bbd76"/><stop offset="0.31" stop-color="#96d355"/><stop offset="0.35" stop-color="#bbdf49"/><stop offset="0.45" stop-color="#d4e745"/><stop offset="0.56" stop-color="#cce546"/><stop offset="0.66" stop-color="#a7d84e"/><stop offset="0.74" stop-color="#62c46e"/><stop offset="0.89" stop-color="#58ba7a"/><stop offset="0.97" stop-color="#4c9e8b"/><stop offset="1" stop-color="#417592"/></linearGradient>
<linearGradient id="hf94"><stop offset="0" stop-color="#49958d"/><stop offset="0.1" stop-color="#53b182"/><stop offset="0.15" stop-color="#4fa888"/><stop offset="0.17" stop-color="#478e8e"/><stop offset="0.19" stop-color="#40508d"/><stop offset="0.21" stop-color="#452d75"/><stop offset="0.22" stop-color="#443179"/><stop offset="0.24" stop-color="#3f558e"/><stop offset="0.25" stop-color="#4b9a8b"/><stop offset="0.27" stop-color="#5cbe75"/><stop offset="0.31" stop-color="#96d355"/><stop offset="0.35" stop-color="#badf49"/><stop offset="0.45" stop-color="#d4e745"/><stop offset="0.56" stop-color="#cde545"/><stop offset="0.66" stop-color="#a9d94d"/><stop offset="0.74" stop-color="#63c46d"/><stop offset="0.9" stop-color="#58ba7a"/><stop offset="0.98" stop-color="#4c9d8b"/><stop offset="1" stop-color="#458590"/></linearGradient>
<linearGradient id="hf95"><stop offset="0" stop-color="#49958d"/><stop offset="0.1" stop-color="#53af83"/><stop offset="0.15" stop-color="#4fa789"/><stop offset="0.17" stop-color="#478d8e"/><stop offset="0.19" stop-color="#404e8d"/><stop offset="0.21" stop-color="#452c74"/><stop offset="0.22" stop-color="#443179"/><stop offset="0.23" stop-color="#3f558e"/><stop offset="0.25" stop-color="#4b9b8b"/><stop offset="0.27" stop-color="#5cbe75"/><stop offset="0.3" stop-color="#95d255"/><stop offset="0.34" stop-color="#b9de49"/><stop offset="0.45" stop-color="#d4e745"/><stop offset="0.56" stop-color="#cde546"/><stop offset="0.66" stop-color="#a9d94d"/><stop offset="0.74" stop-color="#62c46e"/><stop offset="0.91" stop-color="#58ba7a"/><stop offset="0.99" stop-color="#4b9c8b"/><stop offset="1" stop-color="#48928d"/></linearGradient>
<linearGradient id="hf96"><stop offset="0" stop-color="#49938d"/><stop offset="0.09" stop-color="#51ad85"/><stop offset="0.14" stop-color="#4ea489"/><stop offset="0.17" stop-color="#46898f"/><stop offset="0.19" stop-color="#414b8c"/><stop offset="0.2" stop-color="#452a72"/><stop offset="0.22" stop-color="#443078"/><stop offset="0.23" stop-color="#3f548e"/><stop offset="0.25" stop-color="#4b9a8c"/><stop offset="0.26" stop-color="#5bbd76"/><stop offset="0.3" stop-color="#92d156"/><stop offset="0.34" stop-color="#b8de49"/><stop offset="0.46" stop-color="#d4e745"/><stop offset="0.57" stop-color="#cae446"/><stop offset="0.66" stop-color="#a6d84f"/><stop offset="0.74" stop-color="#62c46e"/><stop offset="0.92" stop-color="#58b97b"/><stop offset="1" stop-color="#4b9b8b"/></linearGradient>
<linearGradient id="hf97"><stop offset="0" stop-color="#49938d"/><stop offset="0.09" stop-color="#51ac87"/><stop offset="0.14" stop-color="#4ea38a"/><stop offset="0.16" stop-color="#458590"/><stop offset="0.18" stop-color="#41488b"/><stop offset="0.2" stop-color="#452a72"/><stop offset="0.21" stop-color="#443078"/><stop offset="0.22" stop-color="#3f558e"/><stop offset="0.24" stop-color="#4b9a8c"/><stop offset="0.26" stop-color="#5bbd76"/><stop offset="0.29" stop-color="#90d157"/><stop offset="0.34" stop-color="#b6dd49"/><stop offset="0.46" stop-color="#d4e745"/><stop offset="0.57" stop-color="#cae446"/><stop offset="0.66" stop-color="#a7d84e"/><stop offset="0.74" stop-color="#62c46e"/><stop offset="0.92" stop-color="#57b87b"/><stop offset="1" stop-color="#4da18a"/></linearGradient>
<linearGradient id="hf98"><stop offset="0" stop-color="#49968c"/><stop offset="0.09" stop-color="#51ad86"/><stop offset="0.14" stop-color="#4ea489"/><stop offset="0.16" stop-color="#458590"/><stop offset="0.18" stop-color="#41488b"/><stop offset="0.19" stop-color="#452b73"/><stop offset="0.21" stop-color="#44337b"/><stop offset="0.22" stop-color="#3f588f"/><stop offset="0.24" stop-color="#4b9c8b"/><stop offset="0.25" stop-color="#5dbf75"/><stop offset="0.29" stop-color="#94d256"/><stop offset="0.33" stop-color="#b8de49"/><stop offset="0.46" stop-color="#d5e745"/><stop offset="0.57" stop-color="#cbe446"/><stop offset="0.67" stop-color="#a6d84e"/><stop offset="0.75" stop-color="#62c46e"/><stop offset="0.93" stop-color="#58b97a"/><stop offset="1" stop-color="#4fa789"/></linearGradient>
<linearGradient id="hf99"><stop offset="0" stop-color="#4a988c"/><stop offset="0.09" stop-color="#51ad86"/><stop offset="0.14" stop-color="#4da08a"/><stop offset="0.15" stop-color="#448390"/><stop offset="0.17" stop-color="#42458b"/><stop offset="0.19" stop-color="#452b73"/><stop offset="0.2" stop-color="#44357d"/><stop offset="0.22" stop-color="#3f5b8f"/><stop offset="0.23" stop-color="#4c9e8b"/><stop offset="0.25" stop-color="#5dbf74"/><stop offset="0.28" stop-color="#95d255"/><stop offset="0.33" stop-color="#b8de49"/><stop offset="0.46" stop-color="#d5e745"/><stop offset="0.58" stop-color="#cbe446"/><stop offset="0.67" stop-color="#a8d94e"/><stop offset="0.75" stop-color="#63c46e"/><stop offset="0.93" stop-color="#58ba7a"/><stop offset="1" stop-color="#50ab87"/></linearGradient>
<linearGradient id="hf100"><stop offset="0" stop-color="#4a998c"/><stop offset="0.09" stop-color="#51ac86"/><stop offset="0.13" stop-color="#4c9f8b"/><stop offset="0.15" stop-color="#438091"/><stop offset="0.17" stop-color="#424389"/><stop offset="0.19" stop-color="#452b73"/><stop offset="0.2" stop-color="#433880"/><stop offset="0.22" stop-color="#417191"/><stop offset="0.23" stop-color="#50aa87"/><stop offset="0.25" stop-color="#6dc768"/><stop offset="0.29" stop-color="#9ed552"/><stop offset="0.34" stop-color="#bcdf48"/><stop offset="0.47" stop-color="#d6e745"/><stop offset="0.58" stop-color="#c9e446"/><stop offset="0.67" stop-color="#a6d84f"/><stop offset="0.75" stop-color="#62c46e"/><stop offset="0.94" stop-color="#58ba7a"/><stop offset="1" stop-color="#52ae85"/></linearGradient>
<linearGradient id="hf101"><stop offset="0" stop-color="#4a978c"/><stop offset="0.09" stop-color="#50a988"/><stop offset="0.13" stop-color="#4b9b8b"/><stop offset="0.15" stop-color="#406e91"/><stop offset="0.17" stop-color="#433e86"/><stop offset="0.18" stop-color="#452b73"/><stop offset="0.19" stop-color="#443078"/><stop offset="0.2" stop-color="#40528d"/><stop offset="0.22" stop-color="#49958d"/><stop offset="0.24" stop-color="#58ba7a"/><stop offset="0.28" stop-color="#91d156"/><stop offset="0.32" stop-color="#b5dd4a"/><stop offset="0.47" stop-color="#d5e745"/><stop offset="0.58" stop-color="#c9e446"/><stop offset="0.67" stop-color="#a5d84f"/><stop offset="0.75" stop-color="#62c46e"/><stop offset="0.95" stop-color="#57b97b"/><stop offset="1" stop-color="#53b083"/></linearGradient>
<linearGradient id="hf102"><stop offset="0" stop-color="#4a968c"/><stop offset="0.09" stop-color="#4fa789"/><stop offset="0.12" stop-color="#4a988c"/><stop offset="0.14" stop-color="#406991"/><stop offset="0.16" stop-color="#433a82"/><stop offset="0.17" stop-color="#452971"/><stop offset="0.19" stop-color="#443179"/><stop offset="0.2" stop-color="#3f558e"/><stop offset="0.22" stop-color="#4a978c"/><stop offset="0.23" stop-color="#59bb79"/><stop offset="0.27" stop-color="#90d157"/><stop offset="0.32" stop-color="#b4dd4a"/><stop offset="0.47" stop-color="#d5e745"/><stop offset="0.58" stop-color="#c9e446"/><stop offset="0.67" stop-color="#a6d84f"/><stop offset="0.75" stop-color="#62c46e"/><stop offset="0.96" stop-color="#57b87c"/><stop offset="1" stop-color="#54b281"/></linearGradient>
<linearGradient id="hf103"><stop offset="0" stop-color="#4a988c"/><stop offset="0.09" stop-color="#4fa689"/><stop offset="0.12" stop-color="#4a978c"/><stop offset="0.14" stop-color="#3f6791"/><stop offset="0.16" stop-color="#433880"/><stop offset="0.17" stop-color="#452972"/><stop offset="0.18" stop-color="#44347c"/><stop offset="0.19" stop-color="#3f5a8f"/><stop offset="0.21" stop-color="#4b9b8b"/><stop offset="0.23" stop-color="#5fc171"/><stop offset="0.27" stop-color="#96d355"/><stop offset="0.33" stop-color="#b7de49"/><stop offset="0.47" stop-color="#d5e745"/><stop offset="0.58" stop-color="#c8e346"/><stop offset="0.67" stop-color="#a4d74f"/><stop offset="0.75" stop-color="#62c46e"/><stop offset="0.99" stop-color="#56b67e"/><stop offset="1" stop-color="#55b57f"/></linearGradient>
<linearGradient id="hf104"><stop offset="0" stop-color="#4b9a8c"/><stop offset="0.09" stop-color="#4fa689"/><stop offset="0.11" stop-color="#4a978c"/><stop offset="0.14" stop-color="#3f6590"/><stop offset="0.15" stop-color="#433880"/><stop offset="0.17" stop-color="#452b73"/><stop offset="0.18" stop-color="#433880"/><stop offset="0.19" stop-color="#417291"/><stop offset="0.21" stop-color="#50aa87"/><stop offset="0.23" stop-color="#6ac66a"/><stop offset="0.27" stop-color="#99d453"/><stop offset="0.32" stop-color="#b8de49"/><stop offset="0.48" stop-color="#d6e745"/><stop offset="0.59" stop-color="#c7e346"/><stop offset="0.67" stop-color="#a6d84f"/><stop offset="0.75" stop-color="#62c46e"/><stop offset="1" stop-color="#57b77d"/></linearGradient>
<linearGradient id="hf105"><stop offset="0" stop-color="#4a998c"/><stop offset="0.08" stop-color="#4ea589"/><stop offset="0.11" stop-color="#49948d"/><stop offset="0.13" stop-color="#3f6090"/><stop offset="0.15" stop-color="#44347c"/><stop offset="0.16" stop-color="#452a72"/><stop offset="0.17" stop-color="#433a82"/><stop offset="0.19" stop-color="#417692"/><stop offset="0.2" stop-color="#4da28a"/><stop offset="0.22" stop-color="#62c36f"/><stop offset="0.25" stop-color="#8fd057"/><stop offset="0.31" stop-color="#b2dc4a"/><stop offset="0.47" stop-color="#d5e745"/><stop offset="0.59" stop-color="#c8e346"/><stop offset="0.67" stop-color="#a6d84e"/><stop offset="0.75" stop-color="#62c46e"/><stop offset="1" stop-color="#57b87b"/></linearGradient>
<linearGradient id="hf106"><stop offset="0" stop-color="#4b9a8c"/><stop offset="0.08" stop-color="#4ea38a"/><stop offset="0.11" stop-color="#48938d"/><stop offset="0.13" stop-color="#3f5e90"/><stop offset="0.14" stop-color="#433a82"/><stop offset="0.15" stop-color="#452a72"/><stop offset="0.17" stop-color="#44337b"/><stop offset="0.18" stop-color="#3f588f"/><stop offset="0.2" stop-color="#4ea589"/><stop offset="0.22" stop-color="#63c46e"/><stop offset="0.25" stop-color="#90d157"/><stop offset="0.31" stop-color="#b3dc4a"/><stop offset="0.48" stop-color="#d5e745"/><stop offset="0.59" stop-color="#c7e347"/><stop offset="0.68" stop-color="#a4d74f"/><stop offset="0.75" stop-color="#62c46e"/><stop offset="1" stop-color="#58ba7a"/></linearGradient>
<linearGradient id="hf107"><stop offset="0" stop-color="#4b9a8c"/><stop offset="0.08" stop-color="#4da28a"/><stop offset="0.1" stop-color="#48928d"/><stop offset="0.12" stop-color="#3e5d90"/><stop offset="0.14" stop-color="#433a82"/><stop offset="0.15" stop-color="#452a72"/><stop offset="0.16" stop-color="#44357d"/><stop offset="0.17" stop-color="#3f5c8f"/><stop offset="0.19" stop-color="#4c9d8b"/><stop offset="0.21" stop-color="#60c271"/><stop offset="0.25" stop-color="#91d157"/><stop offset="0.3" stop-color="#b3dc4a"/><stop offset="0.48" stop-color="#d5e745"/><stop offset="0.59" stop-color="#c7e346"/><stop offset="0.68" stop-color="#a5d84f"/><stop offset="0.76" stop-color="#62c46e"/><stop offset="1" stop-color="#59bb79"/></linearGradient>
<linearGradient id="hf108"><stop offset="0" stop-color="#4b9b8b"/><stop offset="0.08" stop-color="#4da08a"/><stop offset="0.1" stop-color="#46898f"/><stop offset="0.13" stop-color="#424289"/><stop offset="0.14" stop-color="#452c74"/><stop offset="0.15" stop-color="#442e76"/><stop offset="0.17" stop-color="#404f8d"/><stop offset="0.18" stop-color="#49938d"/><stop offset="0.2" stop-color="#58b97b"/><stop offset="0.24" stop-color="#8dd058"/><stop offset="0.29" stop-color="#afdb4b"/><stop offset="0.48" stop-color="#d5e745"/><stop offset="0.59" stop-color="#c7e346"/><stop offset="0.68" stop-color="#a6d84f"/><stop offset="0.76" stop-color="#62c46e"/><stop offset="1" stop-color="#59bb78"/></linearGradient>
<linearGradient id="hf109"><stop offset="0" stop-color="#4b9a8c"/><stop offset="0.08" stop-color="#4c9e8b"/><stop offset="0.1" stop-color="#458690"/><stop offset="0.12" stop-color="#424088"/><stop offset="0.14" stop-color="#452a72"/><stop offset="0.15" stop-color="#452e76"/><stop offset="0.16" stop-color="#404f8d"/><stop offset="0.18" stop-color="#49948d"/><stop offset="0.19" stop-color="#58ba7a"/><stop offset="0.23" stop-color="#8ccf58"/><stop offset="0.28" stop-color="#adda4c"/><stop offset="0.48" stop-color="#d5e745"/><stop offset="0.59" stop-color="#c7e346"/><stop offset="0.68" stop-color="#a6d84f"/><stop offset="0.76" stop-color="#62c46e"/><stop offset="1" stop-color="#5abc78"/></linearGradient>
<linearGradient id="hf110"><stop offset="0" stop-color="#4b9a8c"/><stop offset="0.07" stop-color="#4c9d8b"/><stop offset="0.09" stop-color="#448590"/><stop offset="0.11" stop-color="#414a8c"/><stop offset="0.13" stop-color="#452972"/><stop offset="0.14" stop-color="#452e76"/><stop offset="0.16" stop-color="#40508d"/><stop offset="0.17" stop-color="#49958d"/><stop offset="0.19" stop-color="#59ba7a"/><stop offset="0.23" stop-color="#8ccf59"/><stop offset="0.28" stop-color="#acda4c"/><stop offset="0.48" stop-color="#d5e745"/><stop offset="0.59" stop-color="#c7e346"/><stop offset="0.68" stop-color="#a4d74f"/><stop offset="0.76" stop-color="#62c46e"/><stop offset="1" stop-color="#5abc78"/></linearGradient>
<linearGradient id="hf111"><stop offset="0" stop-color="#4b9c8b"/><stop offset="0.07" stop-color="#4c9e8b"/><stop offset="0.09" stop-color="#458690"/><stop offset="0.11" stop-color="#424088"/><stop offset="0.13" stop-color="#452b73"/><stop offset="0.14" stop-color="#443179"/><stop offset="0.15" stop-color="#3f548e"/><stop offset="0.17" stop-color="#4a988c"/><stop offset="0.19" stop-color="#5abc77"/><stop offset="0.22" stop-color="#8dd058"/><stop offset="0.27" stop-color="#aedb4b"/><stop offset="0.49" stop-color="#d6e745"/><stop offset="0.6" stop-color="#c6e347"/><stop offset="0.69" stop-color="#a3d750"/><stop offset="0.76" stop-color="#62c46e"/><stop offset="1" stop-color="#5bbd77"/></linearGradient>
<linearGradient id="hf112"><stop offset="0" stop-color="#4b9c8b"/><stop offset="0.07" stop-color="#4b9b8b"/><stop offset="0.09" stop-color="#427b91"/><stop offset="0.11" stop-color="#423f87"/><stop offset="0.12" stop-color="#452b73"/><stop offset="0.14" stop-color="#443179"/><stop offset="0.15" stop-color="#3f558e"/><stop offset="0.17" stop-color="#4a998c"/><stop offset="0.18" stop-color="#5abc77"/><stop offset="0.22" stop-color="#8dd058"/><stop offset="0.26" stop-color="#acda4c"/><stop offset="0.49" stop-color="#d5e745"/><stop offset="0.6" stop-color="#c6e347"/><stop offset="0.69" stop-color="#a4d74f"/><stop offset="0.76" stop-color="#63c46e"/><stop offset="1" stop-color="#5bbd77"/></linearGradient>
<linearGradient id="hf113"><stop offset="0" stop-color="#4b9c8b"/><stop offset="0.06" stop-color="#4b9a8c"/><stop offset="0.08" stop-color="#427a92"/><stop offset="0.11" stop-color="#433d85"/><stop offset="0.12" stop-color="#452a72"/><stop offset="0.13" stop-color="#443179"/><stop offset="0.14" stop-color="#3f558e"/><stop offset="0.16" stop-color="#4a998c"/><stop offset="0.18" stop-color="#5abc77"/><stop offset="0.22" stop-color="#90d157"/><stop offset="0.27" stop-color="#aedb4c"/><stop offset="0.49" stop-color="#d5e745"/><stop offset="0.6" stop-color="#c6e347"/><stop offset="0.69" stop-color="#a4d74f"/><stop offset="0.77" stop-color="#62c46e"/><stop offset="1" stop-color="#5bbd77"/></linearGradient>
<linearGradient id="hf114"><stop offset="0" stop-color="#4c9d8b"/><stop offset="0.06" stop-color="#4b9a8c"/><stop offset="0.08" stop-color="#427a92"/><stop offset="0.1" stop-color="#433d85"/><stop offset="0.11" stop-color="#452a72"/><stop offset="0.13" stop-color="#443179"/><stop offset="0.14" stop-color="#3f578e"/><stop offset="0.16" stop-color="#4b9a8b"/><stop offset="0.17" stop-color="#5bbd77"/><stop offset="0.21" stop-color="#91d157"/><stop offset="0.26" stop-color="#aedb4b"/><stop offset="0.5" stop-color="#d5e745"/><stop offset="0.61" stop-color="#c5e247"/><stop offset="0.69" stop-color="#a2d750"/><stop offset="0.77" stop-color="#62c46e"/><stop offset="1" stop-color="#5bbd76"/></linearGradient>
<linearGradient id="hf115"><stop offset="0" stop-color="#4b9c8b"/><stop offset="0.06" stop-color="#4a998c"/><stop offset="0.08" stop-color="#427892"/><stop offset="0.1" stop-color="#433c84"/><stop offset="0.11" stop-color="#452971"/><stop offset="0.12" stop-color="#443179"/><stop offset="0.14" stop-color="#3f578e"/><stop offset="0.15" stop-color="#4b9a8b"/><stop offset="0.17" stop-color="#5bbd77"/><stop offset="0.21" stop-color="#8fd057"/><stop offset="0.26" stop-color="#acda4c"/><stop offset="0.5" stop-color="#d5e745"/><stop offset="0.61" stop-color="#c5e247"/><stop offset="0.69" stop-color="#a3d750"/><stop offset="0.77" stop-color="#62c46e"/><stop offset="1" stop-color="#5bbd77"/></linearGradient>
<linearGradient id="hf116"><stop offset="0" stop-color="#4c9d8b"/><stop offset="0.05" stop-color="#4a998c"/><stop offset="0.07" stop-color="#427992"/><stop offset="0.09" stop-color="#433d85"/><stop offset="0.11" stop-color="#452a72"/><stop offset="0.12" stop-color="#44327a"/><stop offset="0.13" stop-color="#3f598f"/><stop offset="0.15" stop-color="#4b9c8b"/><stop offset="0.17" stop-color="#5bbd76"/><stop offset="0.2" stop-color="#91d157"/><stop offset="0.25" stop-color="#adda4c"/><stop offset="0.5" stop-color="#d5e745"/><stop offset="0.61" stop-color="#c5e247"/><stop offset="0.69" stop-color="#a4d74f"/><stop offset="0.77" stop-color="#62c46e"/><stop offset="1" stop-color="#5bbd76"/></linearGradient>
<linearGradient id="hf117"><stop offset="0" stop-color="#4c9d8b"/><stop offset="0.05" stop-color="#49968c"/><stop offset="0.07" stop-color="#427a92"/><stop offset="0.09" stop-color="#433d85"/><stop offset="0.1" stop-color="#452a72"/><stop offset="0.11" stop-color="#44327a"/><stop offset="0.13" stop-color="#3f588f"/><stop offset="0.14" stop-color="#4c9d8b"/><stop offset="0.16" stop-color="#5cbe75"/><stop offset="0.2" stop-color="#91d156"/><stop offset="0.25" stop-color="#aedb4c"/><stop offset="0.5" stop-color="#d5e745"/><stop offset="0.61" stop-color="#c5e247"/><stop offset="0.69" stop-color="#a2d750"/><stop offset="0.77" stop-color="#62c46e"/><stop offset="1" stop-color="#5bbd76"/></linearGradient>
<linearGradient id="hf118"><stop offset="0" stop-color="#4c9e8b"/><stop offset="0.05" stop-color="#4a988c"/><stop offset="0.07" stop-color="#417592"/><stop offset="0.08" stop-color="#42438a"/><stop offset="0.1" stop-color="#452a72"/><stop offset="0.11" stop-color="#433880"/><stop offset="0.13" stop-color="#3f6490"/><stop offset="0.14" stop-color="#4ea589"/><stop offset="0.16" stop-color="#60c271"/><stop offset="0.19" stop-color="#92d156"/><stop offset="0.25" stop-color="#afdb4b"/><stop offset="0.5" stop-color="#d6e745"/><stop offset="0.62" stop-color="#c3e247"/><stop offset="0.69" stop-color="#a4d74f"/><stop offset="0.77" stop-color="#63c46e"/><stop offset="1" stop-color="#5bbd76"/></linearGradient>
<linearGradient id="hg0"><stop offset="0" stop-color="#60c270"/><stop offset="0.06" stop-color="#5abc78"/><stop offset="0.09" stop-color="#4da08a"/><stop offset="0.11" stop-color="#3f6891"/><stop offset="0.12" stop-color="#3f6590"/><stop offset="0.14" stop-color="#4c9e8b"/><stop offset="0.17" stop-color="#4fa689"/><stop offset="0.2" stop-color="#478f8e"/><stop offset="0.22" stop-color="#4fa888"/><stop offset="0.25" stop-color="#5dbf74"/><stop offset="0.49" stop-color="#afdb4b"/><stop offset="0.53" stop-color="#d8e845"/><stop offset="0.55" stop-color="#c9e446"/><stop offset="0.58" stop-color="#b7de49"/><stop offset="0.7" stop-color="#9fd651"/><stop offset="0.76" stop-color="#77ca63"/><stop offset="0.78" stop-color="#5abc77"/><stop offset="0.8" stop-color="#4c9d8b"/><stop offset="0.83" stop-color="#4c9f8a"/><stop offset="0.85" stop-color="#52ad85"/><stop offset="0.87" stop-color="#4a988c"/><stop offset="0.89" stop-color="#417491"/><stop offset="0.91" stop-color="#427b92"/><stop offset="0.93" stop-color="#4ea489"/><stop offset="1" stop-color="#5abc78"/></linearGradient>
<linearGradient id="hg1"><stop offset="0" stop-color="#61c370"/><stop offset="0.06" stop-color="#5abc78"/><stop offset="0.09" stop-color="#4da08a"/><stop offset="0.11" stop-color="#3f6791"/><stop offset="0.12" stop-color="#3f6590"/><stop offset="0.14" stop-color="#4c9e8b"/><stop offset="0.17" stop-color="#4fa789"/><stop offset="0.2" stop-color="#48908e"/><stop offset="0.23" stop-color="#54b380"/><stop offset="0.27" stop-color="#62c46e"/><stop offset="0.49" stop-color="#b3dc4a"/><stop offset="0.53" stop-color="#d8e845"/><stop offset="0.55" stop-color="#c5e247"/><stop offset="0.6" stop-color="#b6dd49"/><stop offset="0.71" stop-color="#9cd552"/><stop offset="0.76" stop-color="#78ca62"/><stop offset="0.78" stop-color="#5abc77"/><stop offset="0.8" stop-color="#4c9d8b"/><stop offset="0.83" stop-color="#4c9f8b"/><stop offset="0.85" stop-color="#52ad85"/><stop offset="0.87" stop-color="#4a988c"/><stop offset="0.89" stop-color="#417592"/><stop offset="0.91" stop-color="#427d92"/><stop offset="0.93" stop-color="#4ea589"/><stop offset="1" stop-color="#5abc77"/></linearGradient>
<linearGradient id="hg2"><stop offset="0" stop-color="#60c270"/><stop offset="0.06" stop-color="#5abc78"/><stop offset="0.09" stop-color="#4da08a"/><stop offset="0.11" stop-color="#3f6691"/><stop offset="0.12" stop-color="#3f6390"/><stop offset="0.14" stop-color="#4c9d8b"/><stop offset="0.17" stop-color="#4fa689"/><stop offset="0.2" stop-color="#48908e"/><stop offset="0.23" stop-color="#55b380"/><stop offset="0.28" stop-color="#62c46e"/><stop offset="0.49" stop-color="#b3dc4a"/><stop offset="0.53" stop-color="#d8e845"/><stop offset="0.55" stop-color="#c9e446"/><stop offset="0.58" stop-color="#b7de49"/><stop offset="0.7" stop-color="#9fd651"/><stop offset="0.76" stop-color="#77ca63"/><stop offset="0.78" stop-color="#5abc78"/><stop offset="0.8" stop-color="#4da08a"/><stop offset="0.82" stop-color="#4a978c"/><stop offset="0.85" stop-color="#51ac86"/><stop offset="0.87" stop-color="#4a978c"/><stop offset="0.89" stop-color="#417592"/><stop offset="0.91" stop-color="#458590"/><stop offset="0.93" stop-color="#4ea589"/><stop offset="1" stop-color="#5abc78"/></linearGradient>
<linearGradient id="hg3"><stop offset="0" stop-color="#60c270"/><stop offset="0.06" stop-color="#59bb78"/><stop offset="0.09" stop-color="#4c9f8a"/><stop offset="0.11" stop-color="#3f6390"/><stop offset="0.12" stop-color="#3e6090"/><stop offset="0.14" stop-color="#4b9c8b"/><stop offset="0.16" stop-color="#4fa789"/><stop offset="0.2" stop-color="#48908e"/><stop offset="0.23" stop-color="#55b480"/><stop offset="0.28" stop-color="#63c46d"/><stop offset="0.49" stop-color="#afdb4b"/><stop offset="0.53" stop-color="#d8e845"/><stop offset="0.55" stop-color="#c9e446"/><stop offset="0.58" stop-color="#b7de49"/><stop offset="0.7" stop-color="#9ed552"/><stop offset="0.76" stop-color="#77c963"/><stop offset="0.78" stop-color="#59bb78"/><stop offset="0.8" stop-color="#4c9e8b"/><stop offset="0.82" stop-color="#49948d"/><stop offset="0.85" stop-color="#51ab87"/><stop offset="0.87" stop-color="#49958d"/><stop offset="0.89" stop-color="#417892"/><stop offset="0.9" stop-color="#427992"/><stop offset="0.93" stop-color="#4fa689"/><stop offset="1" stop-color="#5abc78"/></linearGradient>
<linearGradient id="hg4"><stop offset="0" stop-color="#60c270"/><stop offset="0.06" stop-color="#59bb78"/><stop offset="0.09" stop-color="#4c9e8b"/><stop offset="0.11" stop-color="#3e6090"/><stop offset="0.12" stop-color="#3e5d90"/><stop offset="0.14" stop-color="#4b9b8b"/><stop offset="0.16" stop-color="#4fa689"/><stop offset="0.2" stop-color="#48908e"/><stop offset="0.23" stop-color="#55b47f"/><stop offset="0.29" stop-color="#65c56c"/><stop offset="0.49" stop-color="#afdb4b"/><stop offset="0.53" stop-color="#d7e745"/><stop offset="0.55" stop-color="#c8e346"/><stop offset="0.58" stop-color="#b7de49"/><stop offset="0.7" stop-color="#9ed552"/><stop offset="0.76" stop-color="#76c963"/><stop offset="0.78" stop-color="#59bb79"/><stop offset="0.8" stop-color="#4b9c8b"/><stop offset="0.82" stop-color="#48918d"/><stop offset="0.85" stop-color="#50aa88"/><stop offset="0.87" stop-color="#49948d"/><stop offset="0.89" stop-color="#417792"/><stop offset="0.9" stop-color="#427a92"/><stop offset="0.93" stop-color="#4fa689"/><stop offset="1" stop-color="#5abc78"/></linearGradient>
<linearGradient id="hg5"><stop offset="0" stop-color="#60c270"/><stop offset="0.06" stop-color="#59bb78"/><stop offset="0.08" stop-color="#4fa789"/><stop offset="0.11" stop-color="#3e5e90"/><stop offset="0.12" stop-color="#3e5b8f"/><stop offset="0.14" stop-color="#4b9b8b"/><stop offset="0.16" stop-color="#4fa689"/><stop offset="0.2" stop-color="#48908e"/><stop offset="0.23" stop-color="#55b57f"/><stop offset="0.29" stop-color="#67c56b"/><stop offset="0.49" stop-color="#afdb4b"/><stop offset="0.53" stop-color="#d8e845"/><stop offset="0.55" stop-color="#c9e446"/><stop offset="0.58" stop-color="#b7de49"/><stop offset="0.7" stop-color="#9ed551"/><stop offset="0.76" stop-color="#77c963"/><stop offset="0.78" stop-color="#58ba7a"/><stop offset="0.8" stop-color="#4b9a8c"/><stop offset="0.82" stop-color="#478f8e"/><stop offset="0.85" stop-color="#50aa88"/><stop offset="0.87" stop-color="#48928d"/><stop offset="0.89" stop-color="#417692"/><stop offset="0.9" stop-color="#427b92"/><stop offset="0.93" stop-color="#4fa789"/><stop offset="1" stop-color="#5abc78"/></linearGradient>
<linearGradient id="hg6"><stop offset="0" stop-color="#60c270"/><stop offset="0.06" stop-color="#59bb78"/><stop offset="0.08" stop-color="#4fa689"/><stop offset="0.11" stop-color="#3e5d90"/><stop offset="0.12" stop-color="#3e5c90"/><stop offset="0.14" stop-color="#4b9c8b"/><stop offset="0.16" stop-color="#4ea589"/><stop offset="0.2" stop-color="#478f8e"/><stop offset="0.23" stop-color="#55b57f"/><stop offset="0.29" stop-color="#66c56c"/><stop offset="0.49" stop-color="#b3dc4a"/><stop offset="0.53" stop-color="#d8e845"/><stop offset="0.55" stop-color="#c9e446"/><stop offset="0.58" stop-color="#b7de49"/><stop offset="0.7" stop-color="#9fd651"/><stop offset="0.76" stop-color="#77c963"/><stop offset="0.78" stop-color="#58ba7a"/><stop offset="0.8" stop-color="#4a998c"/><stop offset="0.82" stop-color="#478f8e"/><stop offset="0.85" stop-color="#50aa88"/><stop offset="0.87" stop-color="#4b9a8c"/><stop offset="0.89" stop-color="#417592"/><stop offset="0.9" stop-color="#427a92"/><stop offset="0.93" stop-color="#4ea489"/><stop offset="1" stop-color="#5abc78"/></linearGradient>
<linearGradient id="hg7"><stop offset="0" stop-color="#60c270"/><stop offset="0.06" stop-color="#59bb78"/><stop offset="0.08" stop-color="#4fa689"/><stop offset="0.11" stop-color="#3e5f90"/><stop offset="0.12" stop-color="#3e5e90"/><stop offset="0.14" stop-color="#4c9d8b"/><stop offset="0.16" stop-color="#4fa689"/><stop offset="0.2" stop-color="#478d8e"/><stop offset="0.23" stop-color="#55b47f"/><stop offset="0.28" stop-color="#64c56d"/><stop offset="0.49" stop-color="#b3dc4a"/><stop offset="0.53" stop-color="#d8e845"/><stop offset="0.55" stop-color="#c4e247"/><stop offset="0.6" stop-color="#b5dd49"/><stop offset="0.71" stop-color="#9cd552"/><stop offset="0.76" stop-color="#77ca63"/><stop offset="0.78" stop-color="#58ba7a"/><stop offset="0.8" stop-color="#4b9a8c"/><stop offset="0.82" stop-color="#48908e"/><stop offset="0.85" stop-color="#50ab87"/><stop offset="0.87" stop-color="#4b9a8c"/><stop offset="0.89" stop-color="#417391"/><stop offset="0.9" stop-color="#417892"/><stop offset="0.93" stop-color="#4ea38a"/><stop offset="1" stop-color="#5abc78"/></linearGradient>
<linearGradient id="hg8"><stop offset="0" stop-color="#60c270"/><stop offset="0.06" stop-color="#59bb79"/><stop offset="0.09" stop-color="#4b9c8b"/><stop offset="0.11" stop-color="#3e6190"/><stop offset="0.12" stop-color="#3f6290"/><stop offset="0.14" stop-color="#4c9e8b"/><stop offset="0.16" stop-color="#4fa689"/><stop offset="0.2" stop-color="#468b8f"/><stop offset="0.23" stop-color="#54b380"/><stop offset="0.28" stop-color="#62c46e"/><stop offset="0.49" stop-color="#afdb4b"/><stop offset="0.53" stop-color="#d8e845"/><stop offset="0.55" stop-color="#c9e446"/><stop offset="0.58" stop-color="#b7de49"/><stop offset="0.7" stop-color="#9ed552"/><stop offset="0.76" stop-color="#76c963"/><stop offset="0.78" stop-color="#58ba7a"/><stop offset="0.8" stop-color="#4b9b8b"/><stop offset="0.82" stop-color="#49938d"/><stop offset="0.85" stop-color="#51ab87"/><stop offset="0.87" stop-color="#4b9b8b"/><stop offset="0.89" stop-color="#417291"/><stop offset="0.9" stop-color="#417592"/><stop offset="0.93" stop-color="#4ea589"/><stop offset="1" stop-color="#5abc78"/></linearGradient>
<linearGradient id="hg9"><stop offset="0" stop-color="#60c270"/><stop offset="0.06" stop-color="#59bb79"/><stop offset="0.09" stop-color="#4c9d8b"/><stop offset="0.11" stop-color="#3f6691"/><stop offset="0.12" stop-color="#3f6791"/><stop offset="0.14" stop-color="#4c9f8a"/><stop offset="0.17" stop-color="#4ea489"/><stop offset="0.2" stop-color="#468a8f"/><stop offset="0.22" stop-color="#4fa789"/><stop offset="0.25" stop-color="#5dbf74"/><stop offset="0.49" stop-color="#afdb4b"/><stop offset="0.53" stop-color="#d8e845"/><stop offset="0.55" stop-color="#c9e446"/><stop offset="0.58" stop-color="#b7de49"/><stop offset="0.7" stop-color="#9ed551"/><stop offset="0.76" stop-color="#76c963"/><stop offset="0.78" stop-color="#59bb79"/><stop offset="0.8" stop-color="#4c9e8b"/><stop offset="0.82" stop-color="#4a988c"/><stop offset="0.85" stop-color="#51ac86"/><stop offset="0.87" stop-color="#49948d"/><stop offset="0.89" stop-color="#417291"/><stop offset="0.9" stop-color="#417391"/><stop offset="0.93" stop-color="#4ea489"/><stop offset="1" stop-color="#5abc78"/></linearGradient>
<linearGradient id="hg10"><stop offset="0" stop-color="#61c36f"/><stop offset="0.06" stop-color="#5abc78"/><stop offset="0.09" stop-color="#4c9f8a"/><stop offset="0.11" stop-color="#406b91"/><stop offset="0.12" stop-color="#406d91"/><stop offset="0.14" stop-color="#4da28a"/><stop offset="0.17" stop-color="#4fa689"/><stop offset="0.2" stop-color="#468a8f"/><stop offset="0.22" stop-color="#4da08a"/><stop offset="0.25" stop-color="#5cbe75"/><stop offset="0.45" stop-color="#9ed552"/><stop offset="0.5" stop-color="#bbdf48"/><stop offset="0.53" stop-color="#d9e845"/><stop offset="0.55" stop-color="#c5e247"/><stop offset="0.6" stop-color="#b6dd49"/><stop offset="0.71" stop-color="#9dd552"/><stop offset="0.76" stop-color="#78ca62"/><stop offset="0.78" stop-color="#5abc78"/><stop offset="0.8" stop-color="#4da18a"/><stop offset="0.82" stop-color="#4c9e8b"/><stop offset="0.85" stop-color="#52ae84"/><stop offset="0.87" stop-color="#4a978c"/><stop offset="0.89" stop-color="#407091"/><stop offset="0.91" stop-color="#417892"/><stop offset="0.93" stop-color="#4ea489"/><stop offset="1" stop-color="#5abc77"/></linearGradient>
<linearGradient id="hg11"><stop offset="0" stop-color="#61c370"/><stop offset="0.06" stop-color="#5abc78"/><stop offset="0.09" stop-color="#4da08a"/><stop offset="0.11" stop-color="#406e91"/><stop offset="0.12" stop-color="#407191"/><stop offset="0.14" stop-color="#4da28a"/><stop offset="0.17" stop-color="#4fa789"/><stop offset="0.2" stop-color="#46898f"/><stop offset="0.21" stop-color="#4a988c"/><stop offset="0.24" stop-color="#5abc78"/><stop offset="0.43" stop-color="#9ad453"/><stop offset="0.5" stop-color="#bbdf48"/><stop offset="0.53" stop-color="#d9e845"/><stop offset="0.55" stop-color="#c5e247"/><stop offset="0.6" stop-color="#b6dd49"/><stop offset="0.71" stop-color="#9cd552"/><stop offset="0.76" stop-color="#78ca62"/><stop offset="0.78" stop-color="#5abc78"/><stop offset="0.8" stop-color="#4c9f8a"/><stop offset="0.83" stop-color="#4ea389"/><stop offset="0.85" stop-color="#52af84"/><stop offset="0.87" stop-color="#4a988c"/><stop offset="0.89" stop-color="#406f91"/><stop offset="0.91" stop-color="#417692"/><stop offset="0.93" stop-color="#4ea38a"/><stop offset="1" stop-color="#5abc77"/></linearGradient>
<linearGradient id="hg12"><stop offset="0" stop-color="#60c270"/><stop offset="0.06" stop-color="#59bb78"/><stop offset="0.09" stop-color="#4c9f8a"/><stop offset="0.11" stop-color="#406f91"/><stop offset="0.12" stop-color="#417191"/><stop offset="0.14" stop-color="#4ea38a"/><stop offset="0.17" stop-color="#4fa689"/><stop offset="0.2" stop-color="#45888f"/><stop offset="0.21" stop-color="#4a968c"/><stop offset="0.24" stop-color="#59bb79"/><stop offset="0.43" stop-color="#99d454"/><stop offset="0.5" stop-color="#badf49"/><stop offset="0.53" stop-color="#d8e845"/><stop offset="0.55" stop-color="#c9e446"/><stop offset="0.58" stop-color="#b7de49"/><stop offset="0.7" stop-color="#9fd651"/><stop offset="0.76" stop-color="#77c963"/><stop offset="0.78" stop-color="#5abc78"/><stop offset="0.8" stop-color="#4c9f8a"/><stop offset="0.83" stop-color="#4ea489"/><stop offset="0.85" stop-color="#52af84"/><stop offset="0.87" stop-color="#4a988c"/><stop offset="0.89" stop-color="#406e91"/><stop offset="0.91" stop-color="#417592"/><stop offset="0.93" stop-color="#4da28a"/><stop offset="1" stop-color="#5abc78"/></linearGradient>
<linearGradient id="hg13"><stop offset="0" stop-color="#60c270"/><stop offset="0.06" stop-color="#59bb79"/><stop offset="0.09" stop-color="#4c9f8b"/><stop offset="0.11" stop-color="#406d91"/><stop offset="0.12" stop-color="#417191"/><stop offset="0.14" stop-color="#4da28a"/><stop offset="0.17" stop-color="#4ea589"/><stop offset="0.2" stop-color="#458790"/><stop offset="0.21" stop-color="#49968c"/><stop offset="0.24" stop-color="#59bb79"/><stop offset="0.43" stop-color="#98d354"/><stop offset="0.5" stop-color="#b5dd49"/><stop offset="0.53" stop-color="#d8e845"/><stop offset="0.55" stop-color="#c9e446"/><stop offset="0.58" stop-color="#b7de49"/><stop offset="0.7" stop-color="#9ed552"/><stop offset="0.76" stop-color="#76c963"/><stop offset="0.78" stop-color="#59bb79"/><stop offset="0.8" stop-color="#4da18a"/><stop offset="0.82" stop-color="#4da08a"/><stop offset="0.85" stop-color="#52ae84"/><stop offset="0.87" stop-color="#4a968c"/><stop offset="0.89" stop-color="#406d91"/><stop offset="0.91" stop-color="#417491"/><stop offset="0.93" stop-color="#4da28a"/><stop offset="1" stop-color="#5abc78"/></linearGradient>
<linearGradient id="hg14"><stop offset="0" stop-color="#60c271"/><stop offset="0.06" stop-color="#59bb79"/><stop offset="0.09" stop-color="#4c9d8b"/><stop offset="0.11" stop-color="#406c91"/><stop offset="0.12" stop-color="#407091"/><stop offset="0.14" stop-color="#4da28a"/><stop offset="0.17" stop-color="#4ea489"/><stop offset="0.2" stop-color="#458590"/><stop offset="0.21" stop-color="#49958d"/><stop offset="0.24" stop-color="#59bb79"/><stop offset="0.44" stop-color="#98d354"/><stop offset="0.5" stop-color="#b9de49"/><stop offset="0.53" stop-color="#d7e745"/><stop offset="0.55" stop-color="#c8e346"/><stop offset="0.58" stop-color="#b6dd49"/><stop offset="0.7" stop-color="#9cd552"/><stop offset="0.76" stop-color="#75c964"/><stop offset="0.78" stop-color="#55b57f"/><stop offset="0.8" stop-color="#4b9c8b"/><stop offset="0.83" stop-color="#4da28a"/><stop offset="0.85" stop-color="#52ad85"/><stop offset="0.87" stop-color="#49958d"/><stop offset="0.89" stop-color="#406b91"/><stop offset="0.91" stop-color="#417391"/><stop offset="0.93" stop-color="#4da28a"/><stop offset="1" stop-color="#59bb78"/></linearGradient>
<linearGradient id="hg15"><stop offset="0" stop-color="#60c271"/><stop offset="0.06" stop-color="#58ba7a"/><stop offset="0.09" stop-color="#4b9c8b"/><stop offset="0.11" stop-color="#406a91"/><stop offset="0.12" stop-color="#406f91"/><stop offset="0.14" stop-color="#4da28a"/><stop offset="0.17" stop-color="#4ea489"/><stop offset="0.2" stop-color="#448490"/><stop offset="0.21" stop-color="#49958d"/><stop offset="0.24" stop-color="#59bb79"/><stop offset="0.44" stop-color="#98d354"/><stop offset="0.5" stop-color="#b9de49"/><stop offset="0.53" stop-color="#d7e745"/><stop offset="0.55" stop-color="#c8e346"/><stop offset="0.58" stop-color="#b6dd49"/><stop offset="0.7" stop-color="#9bd453"/><stop offset="0.76" stop-color="#74c964"/><stop offset="0.78" stop-color="#55b47f"/><stop offset="0.81" stop-color="#4a998c"/><stop offset="0.85" stop-color="#51ad85"/><stop offset="0.87" stop-color="#49938d"/><stop offset="0.89" stop-color="#406e91"/><stop offset="0.9" stop-color="#406d91"/><stop offset="0.93" stop-color="#4da28a"/><stop offset="1" stop-color="#59bb78"/></linearGradient>
<linearGradient id="hg16"><stop offset="0" stop-color="#60c270"/><stop offset="0.06" stop-color="#58ba79"/><stop offset="0.09" stop-color="#4b9c8b"/><stop offset="0.11" stop-color="#406a91"/><stop offset="0.12" stop-color="#406f91"/><stop offset="0.14" stop-color="#4da28a"/><stop offset="0.17" stop-color="#4ea389"/><stop offset="0.2" stop-color="#448490"/><stop offset="0.21" stop-color="#49968c"/><stop offset="0.24" stop-color="#59bb79"/><stop offset="0.44" stop-color="#99d454"/><stop offset="0.5" stop-color="#b9de49"/><stop offset="0.53" stop-color="#d7e745"/><stop offset="0.55" stop-color="#c8e346"/><stop offset="0.58" stop-color="#b6dd49"/><stop offset="0.7" stop-color="#9ed552"/><stop offset="0.76" stop-color="#75c964"/><stop offset="0.78" stop-color="#58b97b"/><stop offset="0.8" stop-color="#4c9d8b"/><stop offset="0.82" stop-color="#4c9d8b"/><stop offset="0.85" stop-color="#52ae85"/><stop offset="0.87" stop-color="#4b9b8b"/><stop offset="0.89" stop-color="#406e91"/><stop offset="0.9" stop-color="#406d91"/><stop offset="0.93" stop-color="#4ea38a"/><stop offset="1" stop-color="#5abc78"/></linearGradient>
<linearGradient id="hg17"><stop offset="0" stop-color="#60c270"/><stop offset="0.06" stop-color="#59bb79"/><stop offset="0.09" stop-color="#4b9c8b"/><stop offset="0.11" stop-color="#406a91"/><stop offset="0.12" stop-color="#406f91"/><stop offset="0.14" stop-color="#4da28a"/><stop offset="0.17" stop-color="#4ea489"/><stop offset="0.2" stop-color="#448490"/><stop offset="0.21" stop-color="#4a978c"/><stop offset="0.24" stop-color="#5abc78"/><stop offset="0.44" stop-color="#9ad453"/><stop offset="0.5" stop-color="#badf49"/><stop offset="0.53" stop-color="#d8e845"/><stop offset="0.55" stop-color="#c9e446"/><stop offset="0.58" stop-color="#b7de49"/><stop offset="0.7" stop-color="#9fd651"/><stop offset="0.76" stop-color="#76c964"/><stop offset="0.78" stop-color="#58ba7a"/><stop offset="0.8" stop-color="#4c9d8b"/><stop offset="0.82" stop-color="#4b9c8b"/><stop offset="0.85" stop-color="#52ae85"/><stop offset="0.87" stop-color="#4b9b8b"/><stop offset="0.89" stop-color="#406e91"/><stop offset="0.9" stop-color="#406e91"/><stop offset="0.93" stop-color="#4ea389"/><stop offset="1" stop-color="#5abc78"/></linearGradient>
<linearGradient id="hg18"><stop offset="0" stop-color="#60c270"/><stop offset="0.06" stop-color="#59bb79"/><stop offset="0.09" stop-color="#4b9c8b"/><stop offset="0.11" stop-color="#406a91"/><stop offset="0.12" stop-color="#406e91"/><stop offset="0.14" stop-color="#4da28a"/><stop offset="0.17" stop-color="#4ea389"/><stop offset="0.2" stop-color="#448590"/><stop offset="0.21" stop-color="#4a978c"/><stop offset="0.24" stop-color="#5abc78"/><stop offset="0.44" stop-color="#99d453"/><stop offset="0.5" stop-color="#badf49"/><stop offset="0.53" stop-color="#d8e845"/><stop offset="0.55" stop-color="#c9e446"/><stop offset="0.58" stop-color="#b7de49"/><stop offset="0.7" stop-color="#9ed551"/><stop offset="0.76" stop-color="#75c964"/><stop offset="0.78" stop-color="#58b97b"/><stop offset="0.8" stop-color="#4c9d8b"/><stop offset="0.82" stop-color="#4a998c"/><stop offset="0.85" stop-color="#52ad85"/><stop offset="0.87" stop-color="#4b9b8b"/><stop offset="0.89" stop-color="#406e91"/><stop offset="0.9" stop-color="#406e91"/><stop offset="0.93" stop-color="#4ea489"/><stop offset="1" stop-color="#5abc78"/></linearGradient>
<linearGradient id="hg19"><stop offset="0" stop-color="#60c270"/><stop offset="0.06" stop-color="#59bb79"/><stop offset="0.09" stop-color="#4b9c8b"/><stop offset="0.11" stop-color="#3f6991"/><stop offset="0.12" stop-color="#406e91"/><stop offset="0.14" stop-color="#4da28a"/><stop offset="0.17" stop-color="#4ea38a"/><stop offset="0.2" stop-color="#458590"/><stop offset="0.22" stop-color="#4c9f8b"/><stop offset="0.24" stop-color="#5abc78"/><stop offset="0.44" stop-color="#9ad453"/><stop offset="0.5" stop-color="#badf49"/><stop offset="0.53" stop-color="#d8e845"/><stop offset="0.55" stop-color="#c9e446"/><stop offset="0.58" stop-color="#b7de49"/><stop offset="0.7" stop-color="#9ed552"/><stop offset="0.76" stop-color="#75c964"/><stop offset="0.78" stop-color="#58b97b"/><stop offset="0.8" stop-color="#4b9c8b"/><stop offset="0.82" stop-color="#4a988c"/><stop offset="0.85" stop-color="#52ad85"/><stop offset="0.87" stop-color="#4b9b8b"/><stop offset="0.89" stop-color="#406f91"/><stop offset="0.9" stop-color="#406f91"/><stop offset="0.93" stop-color="#4ea489"/><stop offset="1" stop-color="#5abc78"/></linearGradient>
<linearGradient id="hg20"><stop offset="0" stop-color="#60c270"/><stop offset="0.06" stop-color="#59bb79"/><stop offset="0.09" stop-color="#4b9c8b"/><stop offset="0.11" stop-color="#3f6891"/><stop offset="0.12" stop-color="#406c91"/><stop offset="0.14" stop-color="#4da18a"/><stop offset="0.17" stop-color="#4ea38a"/><stop offset="0.2" stop-color="#458690"/><stop offset="0.22" stop-color="#4da08a"/><stop offset="0.24" stop-color="#5abc78"/><stop offset="0.44" stop-color="#9bd453"/><stop offset="0.5" stop-color="#badf49"/><stop offset="0.53" stop-color="#d8e845"/><stop offset="0.55" stop-color="#c9e446"/><stop offset="0.58" stop-color="#b7de49"/><stop offset="0.7" stop-color="#9ed552"/><stop offset="0.76" stop-color="#75c964"/><stop offset="0.78" stop-color="#58b97b"/><stop offset="0.8" stop-color="#4b9b8b"/><stop offset="0.82" stop-color="#49968c"/><stop offset="0.85" stop-color="#51ad86"/><stop offset="0.87" stop-color="#4b9a8b"/><stop offset="0.89" stop-color="#406f91"/><stop offset="0.9" stop-color="#417191"/><stop offset="0.93" stop-color="#4ea489"/><stop offset="1" stop-color="#5abc78"/></linearGradient>
<linearGradient id="hg21"><stop offset="0" stop-color="#60c270"/><stop offset="0.06" stop-color="#59bb79"/><stop offset="0.09" stop-color="#4b9c8b"/><stop offset="0.11" stop-color="#3f6691"/><stop offset="0.12" stop-color="#406a91"/><stop offset="0.14" stop-color="#4da08a"/><stop offset="0.17" stop-color="#4da28a"/><stop offset="0.2" stop-color="#458790"/><stop offset="0.23" stop-color="#54b281"/><stop offset="0.27" stop-color="#61c36f"/><stop offset="0.49" stop-color="#aedb4b"/><stop offset="0.53" stop-color="#d7e745"/><stop offset="0.55" stop-color="#c8e346"/><stop offset="0.58" stop-color="#b6dd49"/><stop offset="0.7" stop-color="#9ed552"/><stop offset="0.76" stop-color="#75c964"/><stop offset="0.78" stop-color="#54b380"/><stop offset="0.81" stop-color="#48928d"/><stop offset="0.85" stop-color="#51ab87"/><stop offset="0.87" stop-color="#4b9a8c"/><stop offset="0.89" stop-color="#406f91"/><stop offset="0.9" stop-color="#417291"/><stop offset="0.93" stop-color="#4ea589"/><stop offset="1" stop-color="#5abc78"/></linearGradient>
<linearGradient id="hg22"><stop offset="0" stop-color="#60c271"/><stop offset="0.06" stop-color="#58ba79"/><stop offset="0.09" stop-color="#4b9c8b"/><stop offset="0.11" stop-color="#3f6590"/><stop offset="0.12" stop-color="#3f6791"/><stop offset="0.14" stop-color="#4c9f8a"/><stop offset="0.17" stop-color="#4da28a"/><stop offset="0.2" stop-color="#45888f"/><stop offset="0.23" stop-color="#54b381"/><stop offset="0.28" stop-color="#62c46f"/><stop offset="0.49" stop-color="#aedb4c"/><stop offset="0.53" stop-color="#d7e745"/><stop offset="0.55" stop-color="#c8e346"/><stop offset="0.58" stop-color="#b6dd49"/><stop offset="0.7" stop-color="#9cd553"/><stop offset="0.76" stop-color="#74c964"/><stop offset="0.78" stop-color="#54b281"/><stop offset="0.81" stop-color="#48908e"/><stop offset="0.83" stop-color="#4c9e8b"/><stop offset="0.85" stop-color="#50aa88"/><stop offset="0.87" stop-color="#4a998c"/><stop offset="0.89" stop-color="#407091"/><stop offset="0.9" stop-color="#417491"/><stop offset="0.93" stop-color="#4da18a"/><stop offset="1" stop-color="#59bb78"/></linearGradient>
<linearGradient id="hg23"><stop offset="0" stop-color="#60c270"/><stop offset="0.06" stop-color="#59bb79"/><stop offset="0.09" stop-color="#4c9d8b"/><stop offset="0.11" stop-color="#3f6490"/><stop offset="0.12" stop-color="#3f6590"/><stop offset="0.14" stop-color="#4c9f8b"/><stop offset="0.17" stop-color="#4da28a"/><stop offset="0.2" stop-color="#468a8f"/><stop offset="0.23" stop-color="#55b47f"/><stop offset="0.28" stop-color="#63c46d"/><stop offset="0.49" stop-color="#afdb4b"/><stop offset="0.53" stop-color="#d8e845"/><stop offset="0.55" stop-color="#c9e446"/><stop offset="0.58" stop-color="#b7de49"/><stop offset="0.7" stop-color="#9ed552"/><stop offset="0.76" stop-color="#76c964"/><stop offset="0.78" stop-color="#57b97b"/><stop offset="0.8" stop-color="#4a988c"/><stop offset="0.82" stop-color="#478f8e"/><stop offset="0.85" stop-color="#50aa88"/><stop offset="0.87" stop-color="#4a998c"/><stop offset="0.89" stop-color="#417291"/><stop offset="0.9" stop-color="#417892"/><stop offset="0.93" stop-color="#4ea38a"/><stop offset="1" stop-color="#5abc78"/></linearGradient>
<linearGradient id="hg24"><stop offset="0" stop-color="#60c270"/><stop offset="0.06" stop-color="#59bb79"/><stop offset="0.09" stop-color="#4c9e8b"/><stop offset="0.11" stop-color="#3f6390"/><stop offset="0.12" stop-color="#3f6390"/><stop offset="0.14" stop-color="#4c9d8b"/><stop offset="0.16" stop-color="#4ea589"/><stop offset="0.2" stop-color="#478d8e"/><stop offset="0.23" stop-color="#57b87c"/><stop offset="0.35" stop-color="#7dcb60"/><stop offset="0.49" stop-color="#aedb4b"/><stop offset="0.53" stop-color="#d7e745"/><stop offset="0.55" stop-color="#c8e346"/><stop offset="0.58" stop-color="#b6dd49"/><stop offset="0.7" stop-color="#9cd552"/><stop offset="0.76" stop-color="#75c964"/><stop offset="0.78" stop-color="#54b381"/><stop offset="0.81" stop-color="#478c8e"/><stop offset="0.83" stop-color="#49958d"/><stop offset="0.85" stop-color="#50a988"/><stop offset="0.87" stop-color="#48908e"/><stop offset="0.89" stop-color="#417592"/><stop offset="0.9" stop-color="#427b92"/><stop offset="0.93" stop-color="#4ea489"/><stop offset="1" stop-color="#59bb78"/></linearGradient>
<linearGradient id="hg25"><stop offset="0" stop-color="#60c271"/><stop offset="0.06" stop-color="#59bb79"/><stop offset="0.09" stop-color="#4c9f8a"/><stop offset="0.11" stop-color="#3f6490"/><stop offset="0.12" stop-color="#3e6090"/><stop offset="0.14" stop-color="#4b9b8b"/><stop offset="0.16" stop-color="#4ea489"/><stop offset="0.2" stop-color="#48908e"/><stop offset="0.23" stop-color="#55b57f"/><stop offset="0.29" stop-color="#67c56b"/><stop offset="0.49" stop-color="#adda4c"/><stop offset="0.53" stop-color="#d7e745"/><stop offset="0.55" stop-color="#c7e346"/><stop offset="0.58" stop-color="#b6dd49"/><stop offset="0.7" stop-color="#9bd453"/><stop offset="0.76" stop-color="#75c964"/><stop offset="0.78" stop-color="#54b380"/><stop offset="0.81" stop-color="#468b8f"/><stop offset="0.83" stop-color="#48928d"/><stop offset="0.85" stop-color="#4fa888"/><stop offset="0.87" stop-color="#48918d"/><stop offset="0.89" stop-color="#417792"/><stop offset="0.91" stop-color="#448490"/><stop offset="0.93" stop-color="#4fa789"/><stop offset="1" stop-color="#59bb79"/></linearGradient>
<linearGradient id="hg26"><stop offset="0" stop-color="#60c271"/><stop offset="0.07" stop-color="#57b97b"/><stop offset="0.09" stop-color="#4da18a"/><stop offset="0.11" stop-color="#3f6590"/><stop offset="0.12" stop-color="#3e5f90"/><stop offset="0.15" stop-color="#4da08a"/><stop offset="0.17" stop-color="#4da18a"/><stop offset="0.2" stop-color="#49948d"/><stop offset="0.23" stop-color="#56b67e"/><stop offset="0.31" stop-color="#6cc769"/><stop offset="0.49" stop-color="#aedb4c"/><stop offset="0.53" stop-color="#d7e745"/><stop offset="0.55" stop-color="#c8e346"/><stop offset="0.58" stop-color="#b6dd49"/><stop offset="0.7" stop-color="#9bd453"/><stop offset="0.76" stop-color="#76c964"/><stop offset="0.78" stop-color="#55b47f"/><stop offset="0.81" stop-color="#468b8f"/><stop offset="0.83" stop-color="#48908e"/><stop offset="0.85" stop-color="#4fa888"/><stop offset="0.87" stop-color="#49938d"/><stop offset="0.89" stop-color="#427c92"/><stop offset="0.91" stop-color="#45888f"/><stop offset="0.93" stop-color="#4fa888"/><stop offset="1" stop-color="#59bb78"/></linearGradient>
<linearGradient id="hg27"><stop offset="0" stop-color="#60c271"/><stop offset="0.07" stop-color="#58b97b"/><stop offset="0.09" stop-color="#4a998c"/><stop offset="0.11" stop-color="#3e6090"/><stop offset="0.12" stop-color="#3f6490"/><stop offset="0.15" stop-color="#4c9f8b"/><stop offset="0.17" stop-color="#4ea38a"/><stop offset="0.2" stop-color="#4a978c"/><stop offset="0.23" stop-color="#56b67d"/><stop offset="0.32" stop-color="#71c866"/><stop offset="0.49" stop-color="#adda4c"/><stop offset="0.53" stop-color="#d7e745"/><stop offset="0.55" stop-color="#c7e346"/><stop offset="0.58" stop-color="#b6dd49"/><stop offset="0.7" stop-color="#9bd453"/><stop offset="0.76" stop-color="#76c964"/><stop offset="0.78" stop-color="#56b57e"/><stop offset="0.81" stop-color="#478c8f"/><stop offset="0.83" stop-color="#478f8e"/><stop offset="0.85" stop-color="#4fa889"/><stop offset="0.87" stop-color="#49968d"/><stop offset="0.89" stop-color="#437f91"/><stop offset="0.91" stop-color="#468b8f"/><stop offset="0.93" stop-color="#50a988"/><stop offset="1" stop-color="#59bb79"/></linearGradient>
<linearGradient id="hg28"><stop offset="0" stop-color="#60c270"/><stop offset="0.07" stop-color="#58ba7a"/><stop offset="0.09" stop-color="#4b9c8b"/><stop offset="0.11" stop-color="#3f6390"/><stop offset="0.12" stop-color="#3f6590"/><stop offset="0.15" stop-color="#4c9e8b"/><stop offset="0.17" stop-color="#4ea589"/><stop offset="0.2" stop-color="#4b9c8b"/><stop offset="0.25" stop-color="#5dbf75"/><stop offset="0.49" stop-color="#acda4c"/><stop offset="0.51" stop-color="#cce546"/><stop offset="0.53" stop-color="#d7e745"/><stop offset="0.57" stop-color="#b8de49"/><stop offset="0.7" stop-color="#9cd552"/><stop offset="0.76" stop-color="#77ca63"/><stop offset="0.78" stop-color="#56b77d"/><stop offset="0.8" stop-color="#49948d"/><stop offset="0.82" stop-color="#46898f"/><stop offset="0.85" stop-color="#4fa888"/><stop offset="0.87" stop-color="#4a988c"/><stop offset="0.89" stop-color="#448390"/><stop offset="0.91" stop-color="#478e8e"/><stop offset="0.94" stop-color="#50ab87"/><stop offset="1" stop-color="#5abc78"/></linearGradient>
<linearGradient id="hg29"><stop offset="0" stop-color="#61c370"/><stop offset="0.07" stop-color="#59bb79"/><stop offset="0.09" stop-color="#4c9e8b"/><stop offset="0.11" stop-color="#3f6691"/><stop offset="0.12" stop-color="#3f6691"/><stop offset="0.15" stop-color="#4c9f8a"/><stop offset="0.17" stop-color="#4fa789"/><stop offset="0.2" stop-color="#4c9e8b"/><stop offset="0.25" stop-color="#5dbf74"/><stop offset="0.49" stop-color="#b0db4b"/><stop offset="0.53" stop-color="#d8e845"/><stop offset="0.55" stop-color="#c5e247"/><stop offset="0.6" stop-color="#b6dd49"/><stop offset="0.71" stop-color="#9cd552"/><stop offset="0.76" stop-color="#73c965"/><stop offset="0.79" stop-color="#54b281"/><stop offset="0.81" stop-color="#478c8e"/><stop offset="0.83" stop-color="#49968d"/><stop offset="0.86" stop-color="#50a988"/><stop offset="0.89" stop-color="#458690"/><stop offset="0.94" stop-color="#51ac86"/><stop offset="1" stop-color="#5abc77"/></linearGradient>
<linearGradient id="hg30"><stop offset="0" stop-color="#61c36f"/><stop offset="0.07" stop-color="#59bb78"/><stop offset="0.09" stop-color="#4c9f8a"/><stop offset="0.11" stop-color="#3f6991"/><stop offset="0.12" stop-color="#3f6991"/><stop offset="0.15" stop-color="#4da08a"/><stop offset="0.17" stop-color="#4fa789"/><stop offset="0.2" stop-color="#4c9f8a"/><stop offset="0.25" stop-color="#5dbf74"/><stop offset="0.49" stop-color="#b1dc4a"/><stop offset="0.53" stop-color="#d9e845"/><stop offset="0.55" stop-color="#c5e247"/><stop offset="0.6" stop-color="#b6dd49"/><stop offset="0.71" stop-color="#9dd552"/><stop offset="0.76" stop-color="#74c964"/><stop offset="0.79" stop-color="#54b380"/><stop offset="0.81" stop-color="#478f8e"/><stop offset="0.83" stop-color="#4a978c"/><stop offset="0.86" stop-color="#50aa88"/><stop offset="0.89" stop-color="#458790"/><stop offset="0.94" stop-color="#51ac86"/><stop offset="1" stop-color="#5abc77"/></linearGradient>
<linearGradient id="hg31"><stop offset="0" stop-color="#60c270"/><stop offset="0.07" stop-color="#59bb79"/><stop offset="0.09" stop-color="#4c9f8a"/><stop offset="0.11" stop-color="#406b91"/><stop offset="0.12" stop-color="#406b91"/><stop offset="0.15" stop-color="#4da08a"/><stop offset="0.17" stop-color="#4fa789"/><stop offset="0.2" stop-color="#4c9e8b"/><stop offset="0.25" stop-color="#5dbf74"/><stop offset="0.49" stop-color="#b0db4b"/><stop offset="0.53" stop-color="#d8e845"/><stop offset="0.55" stop-color="#c4e247"/><stop offset="0.6" stop-color="#b5dd49"/><stop offset="0.71" stop-color="#9cd553"/><stop offset="0.76" stop-color="#73c865"/><stop offset="0.79" stop-color="#54b380"/><stop offset="0.81" stop-color="#48908e"/><stop offset="0.83" stop-color="#4c9d8b"/><stop offset="0.86" stop-color="#50aa88"/><stop offset="0.89" stop-color="#458690"/><stop offset="0.94" stop-color="#51ab87"/><stop offset="1" stop-color="#5abc78"/></linearGradient>
<linearGradient id="hg32"><stop offset="0" stop-color="#60c270"/><stop offset="0.07" stop-color="#59bb79"/><stop offset="0.09" stop-color="#4c9f8a"/><stop offset="0.11" stop-color="#406d91"/><stop offset="0.12" stop-color="#406f91"/><stop offset="0.15" stop-color="#4da18a"/><stop offset="0.17" stop-color="#4fa689"/><stop offset="0.2" stop-color="#4b9b8b"/><stop offset="0.25" stop-color="#5dbf75"/><stop offset="0.49" stop-color="#afdb4b"/><stop offset="0.53" stop-color="#d8e845"/><stop offset="0.55" stop-color="#c9e446"/><stop offset="0.58" stop-color="#b7de49"/><stop offset="0.7" stop-color="#9fd651"/><stop offset="0.76" stop-color="#78ca62"/><stop offset="0.78" stop-color="#57b87b"/><stop offset="0.81" stop-color="#49958d"/><stop offset="0.83" stop-color="#49968c"/><stop offset="0.85" stop-color="#50aa88"/><stop offset="0.87" stop-color="#4b9b8b"/><stop offset="0.89" stop-color="#448390"/><stop offset="0.94" stop-color="#51ac86"/><stop offset="1" stop-color="#5abc78"/></linearGradient>
<linearGradient id="hg33"><stop offset="0" stop-color="#60c270"/><stop offset="0.07" stop-color="#58ba7a"/><stop offset="0.09" stop-color="#4c9e8b"/><stop offset="0.11" stop-color="#406e91"/><stop offset="0.12" stop-color="#417291"/><stop offset="0.15" stop-color="#4da28a"/><stop offset="0.17" stop-color="#4ea589"/><stop offset="0.2" stop-color="#4a998c"/><stop offset="0.25" stop-color="#5cbe75"/><stop offset="0.49" stop-color="#afdb4b"/><stop offset="0.53" stop-color="#d7e745"/><stop offset="0.55" stop-color="#c8e346"/><stop offset="0.58" stop-color="#b7de49"/><stop offset="0.7" stop-color="#9ed552"/><stop offset="0.76" stop-color="#77ca63"/><stop offset="0.78" stop-color="#57b87c"/><stop offset="0.81" stop-color="#49968c"/><stop offset="0.83" stop-color="#4a988c"/><stop offset="0.85" stop-color="#50ab87"/><stop offset="0.87" stop-color="#4b9a8b"/><stop offset="0.89" stop-color="#438091"/><stop offset="0.91" stop-color="#49968d"/><stop offset="0.94" stop-color="#51ad86"/><stop offset="1" stop-color="#5abc78"/></linearGradient>
<linearGradient id="hg34"><stop offset="0" stop-color="#60c271"/><stop offset="0.07" stop-color="#58ba7a"/><stop offset="0.09" stop-color="#4c9d8b"/><stop offset="0.11" stop-color="#406e91"/><stop offset="0.12" stop-color="#417491"/><stop offset="0.15" stop-color="#4ea38a"/><stop offset="0.17" stop-color="#4ea489"/><stop offset="0.2" stop-color="#49938d"/><stop offset="0.23" stop-color="#55b480"/><stop offset="0.29" stop-color="#64c56d"/><stop offset="0.49" stop-color="#aedb4c"/><stop offset="0.53" stop-color="#d7e745"/><stop offset="0.55" stop-color="#c8e346"/><stop offset="0.58" stop-color="#b6dd49"/><stop offset="0.7" stop-color="#9bd453"/><stop offset="0.76" stop-color="#76c963"/><stop offset="0.78" stop-color="#56b77d"/><stop offset="0.8" stop-color="#4a998c"/><stop offset="0.82" stop-color="#49968d"/><stop offset="0.85" stop-color="#50ab87"/><stop offset="0.87" stop-color="#4a998c"/><stop offset="0.89" stop-color="#427c92"/><stop offset="0.91" stop-color="#468c8f"/><stop offset="0.94" stop-color="#50a988"/><stop offset="1" stop-color="#59bb78"/></linearGradient>
<linearGradient id="hg35"><stop offset="0" stop-color="#60c270"/><stop offset="0.07" stop-color="#58ba7a"/><stop offset="0.09" stop-color="#4b9b8b"/><stop offset="0.11" stop-color="#406e91"/><stop offset="0.12" stop-color="#417692"/><stop offset="0.14" stop-color="#4c9f8a"/><stop offset="0.17" stop-color="#4ea589"/><stop offset="0.2" stop-color="#48908e"/><stop offset="0.23" stop-color="#55b480"/><stop offset="0.28" stop-color="#63c46d"/><stop offset="0.49" stop-color="#afdb4b"/><stop offset="0.53" stop-color="#d7e745"/><stop offset="0.55" stop-color="#c8e346"/><stop offset="0.58" stop-color="#b7de49"/><stop offset="0.7" stop-color="#9ed552"/><stop offset="0.76" stop-color="#76c963"/><stop offset="0.78" stop-color="#59bb79"/><stop offset="0.8" stop-color="#4c9d8b"/><stop offset="0.82" stop-color="#49938d"/><stop offset="0.85" stop-color="#51ab87"/><stop offset="0.87" stop-color="#4a978c"/><stop offset="0.89" stop-color="#427c92"/><stop offset="0.9" stop-color="#427e92"/><stop offset="0.93" stop-color="#4fa689"/><stop offset="1" stop-color="#5abc78"/></linearGradient>
<linearGradient id="hg36"><stop offset="0" stop-color="#60c270"/><stop offset="0.06" stop-color="#59bb78"/><stop offset="0.09" stop-color="#4da18a"/><stop offset="0.11" stop-color="#406f91"/><stop offset="0.12" stop-color="#406e91"/><stop offset="0.14" stop-color="#4da08a"/><stop offset="0.17" stop-color="#4ea489"/><stop offset="0.2" stop-color="#478d8e"/><stop offset="0.23" stop-color="#55b480"/><stop offset="0.28" stop-color="#63c46d"/><stop offset="0.49" stop-color="#afdb4b"/><stop offset="0.53" stop-color="#d7e745"/><stop offset="0.55" stop-color="#c8e346"/><stop offset="0.58" stop-color="#b6dd49"/><stop offset="0.7" stop-color="#9ed552"/><stop offset="0.76" stop-color="#76c964"/><stop offset="0.78" stop-color="#55b47f"/><stop offset="0.81" stop-color="#48918d"/><stop offset="0.83" stop-color="#4a998c"/><stop offset="0.85" stop-color="#50ab87"/><stop offset="0.87" stop-color="#49948d"/><stop offset="0.89" stop-color="#417892"/><stop offset="0.9" stop-color="#427b92"/><stop offset="0.93" stop-color="#4fa789"/><stop offset="1" stop-color="#5abc78"/></linearGradient>
<linearGradient id="hg37"><stop offset="0" stop-color="#60c270"/><stop offset="0.06" stop-color="#59bb79"/><stop offset="0.09" stop-color="#4c9f8a"/><stop offset="0.11" stop-color="#406b91"/><stop offset="0.12" stop-color="#406c91"/><stop offset="0.14" stop-color="#4da08a"/><stop offset="0.17" stop-color="#4da28a"/><stop offset="0.19" stop-color="#468a8f"/><stop offset="0.21" stop-color="#4a988c"/><stop offset="0.24" stop-color="#59bb79"/><stop offset="0.44" stop-color="#99d453"/><stop offset="0.5" stop-color="#badf49"/><stop offset="0.53" stop-color="#d8e845"/><stop offset="0.55" stop-color="#c9e446"/><stop offset="0.58" stop-color="#b7de49"/><stop offset="0.7" stop-color="#9ed552"/><stop offset="0.76" stop-color="#76c964"/><stop offset="0.78" stop-color="#54b281"/><stop offset="0.81" stop-color="#478d8e"/><stop offset="0.83" stop-color="#4a978c"/><stop offset="0.85" stop-color="#50aa88"/><stop offset="0.87" stop-color="#48918e"/><stop offset="0.89" stop-color="#417491"/><stop offset="0.9" stop-color="#427a92"/><stop offset="0.93" stop-color="#4ea489"/><stop offset="1" stop-color="#5abc78"/></linearGradient>
<linearGradient id="hg38"><stop offset="0" stop-color="#61c370"/><stop offset="0.06" stop-color="#59bb78"/><stop offset="0.09" stop-color="#4c9d8b"/><stop offset="0.11" stop-color="#3f6891"/><stop offset="0.12" stop-color="#406b91"/><stop offset="0.14" stop-color="#4da08a"/><stop offset="0.17" stop-color="#4da18a"/><stop offset="0.19" stop-color="#46898f"/><stop offset="0.21" stop-color="#4c9f8b"/><stop offset="0.24" stop-color="#5bbd76"/><stop offset="0.45" stop-color="#9fd651"/><stop offset="0.5" stop-color="#bbdf49"/><stop offset="0.53" stop-color="#d8e845"/><stop offset="0.55" stop-color="#c5e247"/><stop offset="0.6" stop-color="#b6dd49"/><stop offset="0.71" stop-color="#9cd552"/><stop offset="0.76" stop-color="#76c963"/><stop offset="0.78" stop-color="#57b87c"/><stop offset="0.8" stop-color="#4b9a8b"/><stop offset="0.81" stop-color="#46898f"/><stop offset="0.85" stop-color="#50aa88"/><stop offset="0.86" stop-color="#4c9e8b"/><stop offset="0.89" stop-color="#417291"/><stop offset="0.9" stop-color="#427a92"/><stop offset="0.93" stop-color="#4ea589"/><stop offset="1" stop-color="#5abc77"/></linearGradient>
<linearGradient id="hg39"><stop offset="0" stop-color="#60c270"/><stop offset="0.06" stop-color="#59bb79"/><stop offset="0.09" stop-color="#4b9c8b"/><stop offset="0.11" stop-color="#3f6691"/><stop offset="0.12" stop-color="#406a91"/><stop offset="0.14" stop-color="#4da08a"/><stop offset="0.17" stop-color="#4da08a"/><stop offset="0.19" stop-color="#458790"/><stop offset="0.21" stop-color="#4a988c"/><stop offset="0.24" stop-color="#59bb79"/><stop offset="0.44" stop-color="#9ad453"/><stop offset="0.5" stop-color="#badf49"/><stop offset="0.53" stop-color="#d8e845"/><stop offset="0.55" stop-color="#c9e446"/><stop offset="0.58" stop-color="#b7de49"/><stop offset="0.7" stop-color="#9fd651"/><stop offset="0.76" stop-color="#75c964"/><stop offset="0.78" stop-color="#56b77d"/><stop offset="0.8" stop-color="#48918e"/><stop offset="0.81" stop-color="#458890"/><stop offset="0.85" stop-color="#50a988"/><stop offset="0.86" stop-color="#4c9d8b"/><stop offset="0.89" stop-color="#407091"/><stop offset="0.9" stop-color="#427992"/><stop offset="0.93" stop-color="#4ea489"/><stop offset="1" stop-color="#5abc78"/></linearGradient>
<linearGradient id="hg40"><stop offset="0" stop-color="#60c270"/><stop offset="0.06" stop-color="#59bb79"/><stop offset="0.09" stop-color="#4b9c8b"/><stop offset="0.11" stop-color="#3f6891"/><stop offset="0.12" stop-color="#406c91"/><stop offset="0.14" stop-color="#4da18a"/><stop offset="0.17" stop-color="#4da08a"/><stop offset="0.19" stop-color="#458690"/><stop offset="0.21" stop-color="#4a968c"/><stop offset="0.24" stop-color="#59bb79"/><stop offset="0.44" stop-color="#9ad453"/><stop offset="0.5" stop-color="#badf49"/><stop offset="0.53" stop-color="#d8e845"/><stop offset="0.55" stop-color="#c9e446"/><stop offset="0.58" stop-color="#b8de49"/><stop offset="0.7" stop-color="#9fd651"/><stop offset="0.76" stop-color="#75c964"/><stop offset="0.78" stop-color="#56b77d"/><stop offset="0.8" stop-color="#48928d"/><stop offset="0.81" stop-color="#46898f"/><stop offset="0.85" stop-color="#50aa88"/><stop offset="0.86" stop-color="#4c9d8b"/><stop offset="0.89" stop-color="#406f91"/><stop offset="0.9" stop-color="#417892"/><stop offset="0.93" stop-color="#4ea489"/><stop offset="1" stop-color="#5abc78"/></linearGradient>
<linearGradient id="hg41"><stop offset="0" stop-color="#61c370"/><stop offset="0.06" stop-color="#59bb79"/><stop offset="0.09" stop-color="#4c9e8b"/><stop offset="0.11" stop-color="#406d91"/><stop offset="0.12" stop-color="#417191"/><stop offset="0.14" stop-color="#4da28a"/><stop offset="0.17" stop-color="#4da18a"/><stop offset="0.19" stop-color="#458690"/><stop offset="0.21" stop-color="#49958d"/><stop offset="0.24" stop-color="#59bb79"/><stop offset="0.43" stop-color="#99d453"/><stop offset="0.5" stop-color="#bbdf49"/><stop offset="0.53" stop-color="#d8e845"/><stop offset="0.55" stop-color="#c5e247"/><stop offset="0.6" stop-color="#b5dd49"/><stop offset="0.71" stop-color="#9cd552"/><stop offset="0.76" stop-color="#76c964"/><stop offset="0.78" stop-color="#57b87c"/><stop offset="0.8" stop-color="#4b9c8b"/><stop offset="0.81" stop-color="#478d8e"/><stop offset="0.85" stop-color="#51ab87"/><stop offset="0.87" stop-color="#4a988c"/><stop offset="0.89" stop-color="#407091"/><stop offset="0.9" stop-color="#417692"/><stop offset="0.93" stop-color="#4ea38a"/><stop offset="1" stop-color="#5abc78"/></linearGradient>
<linearGradient id="hg42"><stop offset="0" stop-color="#60c270"/><stop offset="0.06" stop-color="#59bb79"/><stop offset="0.09" stop-color="#4c9f8a"/><stop offset="0.11" stop-color="#417191"/><stop offset="0.12" stop-color="#417592"/><stop offset="0.14" stop-color="#4ea38a"/><stop offset="0.17" stop-color="#4da28a"/><stop offset="0.2" stop-color="#458690"/><stop offset="0.23" stop-color="#54b281"/><stop offset="0.27" stop-color="#61c36f"/><stop offset="0.49" stop-color="#afdb4b"/><stop offset="0.53" stop-color="#d8e845"/><stop offset="0.55" stop-color="#c9e446"/><stop offset="0.58" stop-color="#b7de49"/><stop offset="0.7" stop-color="#9ed552"/><stop offset="0.76" stop-color="#75c964"/><stop offset="0.78" stop-color="#57b87b"/><stop offset="0.8" stop-color="#4a998c"/><stop offset="0.82" stop-color="#49938d"/><stop offset="0.85" stop-color="#51ac86"/><stop offset="0.87" stop-color="#4b9a8c"/><stop offset="0.89" stop-color="#417191"/><stop offset="0.9" stop-color="#417491"/><stop offset="0.93" stop-color="#4ea589"/><stop offset="1" stop-color="#5abc78"/></linearGradient>
<linearGradient id="hg43"><stop offset="0" stop-color="#60c271"/><stop offset="0.06" stop-color="#59bb79"/><stop offset="0.09" stop-color="#4da08a"/><stop offset="0.11" stop-color="#417491"/><stop offset="0.12" stop-color="#417892"/><stop offset="0.14" stop-color="#4ea38a"/><stop offset="0.17" stop-color="#4ea38a"/><stop offset="0.2" stop-color="#458590"/><stop offset="0.22" stop-color="#4c9f8a"/><stop offset="0.24" stop-color="#59bb78"/><stop offset="0.45" stop-color="#9bd453"/><stop offset="0.5" stop-color="#b9de49"/><stop offset="0.53" stop-color="#d7e745"/><stop offset="0.55" stop-color="#c8e346"/><stop offset="0.58" stop-color="#b6dd49"/><stop offset="0.7" stop-color="#9bd453"/><stop offset="0.76" stop-color="#74c964"/><stop offset="0.78" stop-color="#54b380"/><stop offset="0.81" stop-color="#49948d"/><stop offset="0.85" stop-color="#51ac86"/><stop offset="0.87" stop-color="#48938d"/><stop offset="0.89" stop-color="#417291"/><stop offset="0.9" stop-color="#417391"/><stop offset="0.93" stop-color="#4ea489"/><stop offset="1" stop-color="#59bb78"/></linearGradient>
<linearGradient id="hg44"><stop offset="0" stop-color="#60c271"/><stop offset="0.06" stop-color="#59bb79"/><stop offset="0.09" stop-color="#4da18a"/><stop offset="0.11" stop-color="#417592"/><stop offset="0.12" stop-color="#427892"/><stop offset="0.14" stop-color="#4ea38a"/><stop offset="0.17" stop-color="#4ea38a"/><stop offset="0.2" stop-color="#458690"/><stop offset="0.22" stop-color="#4c9f8a"/><stop offset="0.25" stop-color="#5bbd76"/><stop offset="0.49" stop-color="#aedb4c"/><stop offset="0.53" stop-color="#d7e745"/><stop offset="0.55" stop-color="#c8e346"/><stop offset="0.58" stop-color="#b6dd49"/><stop offset="0.7" stop-color="#9bd453"/><stop offset="0.76" stop-color="#74c964"/><stop offset="0.78" stop-color="#55b380"/><stop offset="0.81" stop-color="#49958d"/><stop offset="0.85" stop-color="#51ac86"/><stop offset="0.87" stop-color="#49938d"/><stop offset="0.89" stop-color="#417391"/><stop offset="0.9" stop-color="#417491"/><stop offset="0.93" stop-color="#4ea489"/><stop offset="1" stop-color="#59bb78"/></linearGradient>
<linearGradient id="hg45"><stop offset="0" stop-color="#60c271"/><stop offset="0.06" stop-color="#59bb79"/><stop offset="0.09" stop-color="#4da18a"/><stop offset="0.11" stop-color="#417491"/><stop offset="0.12" stop-color="#417792"/><stop offset="0.14" stop-color="#4ea38a"/><stop offset="0.17" stop-color="#4ea38a"/><stop offset="0.2" stop-color="#458690"/><stop offset="0.22" stop-color="#4c9f8a"/><stop offset="0.25" stop-color="#5bbd76"/><stop offset="0.49" stop-color="#adda4c"/><stop offset="0.53" stop-color="#d7e745"/><stop offset="0.55" stop-color="#c7e346"/><stop offset="0.58" stop-color="#b5dd49"/><stop offset="0.7" stop-color="#9bd453"/><stop offset="0.76" stop-color="#74c965"/><stop offset="0.78" stop-color="#54b380"/><stop offset="0.81" stop-color="#49938d"/><stop offset="0.85" stop-color="#51ac87"/><stop offset="0.87" stop-color="#49938d"/><stop offset="0.89" stop-color="#417391"/><stop offset="0.9" stop-color="#417592"/><stop offset="0.93" stop-color="#4ea489"/><stop offset="1" stop-color="#59bb79"/></linearGradient>
<linearGradient id="hg46"><stop offset="0" stop-color="#60c271"/><stop offset="0.06" stop-color="#59bb79"/><stop offset="0.09" stop-color="#4da08a"/><stop offset="0.11" stop-color="#417391"/><stop offset="0.12" stop-color="#417592"/><stop offset="0.14" stop-color="#4da28a"/><stop offset="0.17" stop-color="#4ea38a"/><stop offset="0.2" stop-color="#458790"/><stop offset="0.23" stop-color="#54b281"/><stop offset="0.27" stop-color="#61c36f"/><stop offset="0.49" stop-color="#aedb4c"/><stop offset="0.53" stop-color="#d7e745"/><stop offset="0.55" stop-color="#c8e346"/><stop offset="0.58" stop-color="#b6dd49"/><stop offset="0.7" stop-color="#9cd553"/><stop offset="0.76" stop-color="#75c964"/><stop offset="0.78" stop-color="#54b380"/><stop offset="0.81" stop-color="#48928d"/><stop offset="0.85" stop-color="#51ab87"/><stop offset="0.87" stop-color="#49938d"/><stop offset="0.89" stop-color="#417491"/><stop offset="0.9" stop-color="#417692"/><stop offset="0.93" stop-color="#4ea589"/><stop offset="1" stop-color="#59bb78"/></linearGradient>
<linearGradient id="hg47"><stop offset="0" stop-color="#60c270"/><stop offset="0.06" stop-color="#59bb78"/><stop offset="0.09" stop-color="#4da18a"/><stop offset="0.11" stop-color="#417391"/><stop offset="0.12" stop-color="#417592"/><stop offset="0.14" stop-color="#4da28a"/><stop offset="0.17" stop-color="#4ea389"/><stop offset="0.2" stop-color="#46898f"/><stop offset="0.23" stop-color="#54b380"/><stop offset="0.27" stop-color="#61c36f"/><stop offset="0.49" stop-color="#afdb4b"/><stop offset="0.53" stop-color="#d8e845"/><stop offset="0.55" stop-color="#c9e446"/><stop offset="0.58" stop-color="#b7de49"/><stop offset="0.7" stop-color="#9ed551"/><stop offset="0.76" stop-color="#76c964"/><stop offset="0.78" stop-color="#58b97b"/><stop offset="0.8" stop-color="#4b9a8b"/><stop offset="0.82" stop-color="#49948d"/><stop offset="0.85" stop-color="#51ac86"/><stop offset="0.87" stop-color="#4b9c8b"/><stop offset="0.89" stop-color="#417692"/><stop offset="0.9" stop-color="#427892"/><stop offset="0.93" stop-color="#4fa689"/><stop offset="1" stop-color="#5abc78"/></linearGradient>
<linearGradient id="hg48"><stop offset="0" stop-color="#60c270"/><stop offset="0.06" stop-color="#59bb78"/><stop offset="0.09" stop-color="#4da28a"/><stop offset="0.11" stop-color="#417592"/><stop offset="0.12" stop-color="#417692"/><stop offset="0.14" stop-color="#4da28a"/><stop offset="0.17" stop-color="#4ea489"/><stop offset="0.2" stop-color="#468a8f"/><stop offset="0.23" stop-color="#54b281"/><stop offset="0.27" stop-color="#61c36f"/><stop offset="0.49" stop-color="#afdb4b"/><stop offset="0.53" stop-color="#d7e745"/><stop offset="0.55" stop-color="#c9e446"/><stop offset="0.58" stop-color="#b7de49"/><stop offset="0.7" stop-color="#9ed552"/><stop offset="0.76" stop-color="#76c964"/><stop offset="0.78" stop-color="#58ba7a"/><stop offset="0.8" stop-color="#4b9b8b"/><stop offset="0.82" stop-color="#49958d"/><stop offset="0.85" stop-color="#51ac86"/><stop offset="0.87" stop-color="#4c9d8b"/><stop offset="0.89" stop-color="#417792"/><stop offset="0.9" stop-color="#427992"/><stop offset="0.93" stop-color="#4fa689"/><stop offset="1" stop-color="#5abc78"/></linearGradient>
<linearGradient id="hg49"><stop offset="0" stop-color="#60c270"/><stop offset="0.07" stop-color="#58b97b"/><stop offset="0.09" stop-color="#4b9c8b"/><stop offset="0.11" stop-color="#427892"/><stop offset="0.12" stop-color="#417892"/><stop offset="0.14" stop-color="#4ea38a"/><stop offset="0.17" stop-color="#4ea589"/><stop offset="0.2" stop-color="#468c8f"/><stop offset="0.23" stop-color="#54b281"/><stop offset="0.27" stop-color="#61c36f"/><stop offset="0.49" stop-color="#afdb4b"/><stop offset="0.53" stop-color="#d7e745"/><stop offset="0.55" stop-color="#c8e346"/><stop offset="0.58" stop-color="#b7de49"/><stop offset="0.7" stop-color="#9ed552"/><stop offset="0.76" stop-color="#76c963"/><stop offset="0.78" stop-color="#59bb79"/><stop offset="0.8" stop-color="#4c9e8b"/><stop offset="0.82" stop-color="#4a978c"/><stop offset="0.85" stop-color="#51ad86"/><stop offset="0.87" stop-color="#4a988c"/><stop offset="0.89" stop-color="#417792"/><stop offset="0.91" stop-color="#458790"/><stop offset="0.94" stop-color="#4fa888"/><stop offset="1" stop-color="#5abc78"/></linearGradient>
<linearGradient id="hg50"><stop offset="0" stop-color="#60c270"/><stop offset="0.07" stop-color="#58ba7a"/><stop offset="0.09" stop-color="#4c9e8b"/><stop offset="0.11" stop-color="#417892"/><stop offset="0.12" stop-color="#438091"/><stop offset="0.15" stop-color="#4fa689"/><stop offset="0.17" stop-color="#4ea389"/><stop offset="0.2" stop-color="#478e8e"/><stop offset="0.22" stop-color="#4fa888"/><stop offset="0.25" stop-color="#5dbf74"/><stop offset="0.49" stop-color="#afdb4b"/><stop offset="0.53" stop-color="#d8e845"/><stop offset="0.55" stop-color="#c9e446"/><stop offset="0.58" stop-color="#b7de49"/><stop offset="0.7" stop-color="#9ed551"/><stop offset="0.76" stop-color="#77ca63"/><stop offset="0.78" stop-color="#5abc78"/><stop offset="0.8" stop-color="#4da08a"/><stop offset="0.82" stop-color="#4b9b8b"/><stop offset="0.85" stop-color="#52ad85"/><stop offset="0.87" stop-color="#4b9a8c"/><stop offset="0.89" stop-color="#427b92"/><stop offset="0.91" stop-color="#46888f"/><stop offset="0.94" stop-color="#50a988"/><stop offset="1" stop-color="#5abc78"/></linearGradient>
<linearGradient id="hg51"><stop offset="0" stop-color="#60c270"/><stop offset="0.07" stop-color="#58ba7a"/><stop offset="0.09" stop-color="#4c9f8a"/><stop offset="0.11" stop-color="#427992"/><stop offset="0.12" stop-color="#438091"/><stop offset="0.15" stop-color="#4fa689"/><stop offset="0.17" stop-color="#4ea589"/><stop offset="0.2" stop-color="#48928d"/><stop offset="0.23" stop-color="#54b380"/><stop offset="0.28" stop-color="#62c46e"/><stop offset="0.49" stop-color="#b3dc4a"/><stop offset="0.53" stop-color="#d8e845"/><stop offset="0.55" stop-color="#c9e446"/><stop offset="0.58" stop-color="#b7de49"/><stop offset="0.7" stop-color="#9fd651"/><stop offset="0.76" stop-color="#78ca63"/><stop offset="0.78" stop-color="#5abc77"/><stop offset="0.8" stop-color="#4c9d8b"/><stop offset="0.83" stop-color="#4c9e8b"/><stop offset="0.85" stop-color="#52ad85"/><stop offset="0.87" stop-color="#4b9c8b"/><stop offset="0.89" stop-color="#427e92"/><stop offset="0.91" stop-color="#468a8f"/><stop offset="0.94" stop-color="#50a988"/><stop offset="1" stop-color="#5abc78"/></linearGradient>
<linearGradient id="hg52"><stop offset="0" stop-color="#60c270"/><stop offset="0.07" stop-color="#58ba7a"/><stop offset="0.09" stop-color="#4c9f8a"/><stop offset="0.11" stop-color="#417692"/><stop offset="0.12" stop-color="#427c92"/><stop offset="0.15" stop-color="#4ea589"/><stop offset="0.17" stop-color="#4ea489"/><stop offset="0.2" stop-color="#49938d"/><stop offset="0.23" stop-color="#55b380"/><stop offset="0.28" stop-color="#63c46d"/><stop offset="0.49" stop-color="#afdb4b"/><stop offset="0.53" stop-color="#d7e745"/><stop offset="0.55" stop-color="#c8e346"/><stop offset="0.58" stop-color="#b7de49"/><stop offset="0.7" stop-color="#9ed552"/><stop offset="0.76" stop-color="#77ca63"/><stop offset="0.78" stop-color="#5abc77"/><stop offset="0.8" stop-color="#4da08a"/><stop offset="0.82" stop-color="#4a978c"/><stop offset="0.85" stop-color="#51ac86"/><stop offset="0.87" stop-color="#4b9b8b"/><stop offset="0.89" stop-color="#437f91"/><stop offset="0.91" stop-color="#478d8e"/><stop offset="0.94" stop-color="#50a988"/><stop offset="1" stop-color="#5abc78"/></linearGradient>
<linearGradient id="hg53"><stop offset="0" stop-color="#60c271"/><stop offset="0.07" stop-color="#58ba7a"/><stop offset="0.09" stop-color="#4c9d8b"/><stop offset="0.11" stop-color="#407091"/><stop offset="0.12" stop-color="#417692"/><stop offset="0.15" stop-color="#4ea38a"/><stop offset="0.17" stop-color="#4ea38a"/><stop offset="0.2" stop-color="#49938d"/><stop offset="0.23" stop-color="#55b47f"/><stop offset="0.29" stop-color="#65c56c"/><stop offset="0.49" stop-color="#aedb4c"/><stop offset="0.53" stop-color="#d7e745"/><stop offset="0.55" stop-color="#c7e346"/><stop offset="0.58" stop-color="#b6dd49"/><stop offset="0.7" stop-color="#9bd453"/><stop offset="0.76" stop-color="#76c964"/><stop offset="0.78" stop-color="#56b67e"/><stop offset="0.8" stop-color="#4a978c"/><stop offset="0.82" stop-color="#49938d"/><stop offset="0.85" stop-color="#50ab87"/><stop offset="0.87" stop-color="#4b9a8c"/><stop offset="0.89" stop-color="#438091"/><stop offset="0.91" stop-color="#49968c"/><stop offset="0.94" stop-color="#51ac86"/><stop offset="1" stop-color="#59bb79"/></linearGradient>
<linearGradient id="hg54"><stop offset="0" stop-color="#60c271"/><stop offset="0.07" stop-color="#58b97b"/><stop offset="0.09" stop-color="#4b9b8b"/><stop offset="0.11" stop-color="#406a91"/><stop offset="0.12" stop-color="#407091"/><stop offset="0.15" stop-color="#4da18a"/><stop offset="0.17" stop-color="#4da28a"/><stop offset="0.2" stop-color="#49948d"/><stop offset="0.23" stop-color="#56b57e"/><stop offset="0.3" stop-color="#6ac66a"/><stop offset="0.49" stop-color="#adda4c"/><stop offset="0.53" stop-color="#d7e745"/><stop offset="0.55" stop-color="#c7e346"/><stop offset="0.58" stop-color="#b6dd49"/><stop offset="0.7" stop-color="#9bd453"/><stop offset="0.76" stop-color="#75c964"/><stop offset="0.78" stop-color="#55b57f"/><stop offset="0.81" stop-color="#478d8e"/><stop offset="0.83" stop-color="#48928d"/><stop offset="0.85" stop-color="#50a988"/><stop offset="0.87" stop-color="#4a988c"/><stop offset="0.89" stop-color="#448291"/><stop offset="0.91" stop-color="#478c8f"/><stop offset="0.94" stop-color="#50aa88"/><stop offset="1" stop-color="#59bb79"/></linearGradient>
<linearGradient id="hg55"><stop offset="0" stop-color="#60c271"/><stop offset="0.07" stop-color="#58b97b"/><stop offset="0.09" stop-color="#4a998c"/><stop offset="0.11" stop-color="#406b91"/><stop offset="0.12" stop-color="#3f6590"/><stop offset="0.15" stop-color="#4da08a"/><stop offset="0.17" stop-color="#4da18a"/><stop offset="0.2" stop-color="#49958d"/><stop offset="0.23" stop-color="#56b67d"/><stop offset="0.32" stop-color="#71c866"/><stop offset="0.49" stop-color="#aedb4b"/><stop offset="0.53" stop-color="#d7e745"/><stop offset="0.55" stop-color="#c8e346"/><stop offset="0.58" stop-color="#b6dd49"/><stop offset="0.7" stop-color="#9cd552"/><stop offset="0.76" stop-color="#76c964"/><stop offset="0.78" stop-color="#55b380"/><stop offset="0.81" stop-color="#45888f"/><stop offset="0.82" stop-color="#45888f"/><stop offset="0.85" stop-color="#4fa689"/><stop offset="0.87" stop-color="#4b9c8b"/><stop offset="0.89" stop-color="#448291"/><stop offset="0.91" stop-color="#478e8e"/><stop offset="0.93" stop-color="#50aa88"/><stop offset="1" stop-color="#59bb78"/></linearGradient>
<linearGradient id="hg56"><stop offset="0" stop-color="#60c270"/><stop offset="0.07" stop-color="#58b97b"/><stop offset="0.09" stop-color="#4a988c"/><stop offset="0.11" stop-color="#3f6791"/><stop offset="0.12" stop-color="#3e6190"/><stop offset="0.15" stop-color="#4da08a"/><stop offset="0.17" stop-color="#4da08a"/><stop offset="0.2" stop-color="#49958d"/><stop offset="0.24" stop-color="#5bbd76"/><stop offset="0.48" stop-color="#aad94d"/><stop offset="0.51" stop-color="#c5e247"/><stop offset="0.53" stop-color="#d7e745"/><stop offset="0.55" stop-color="#c8e346"/><stop offset="0.58" stop-color="#b7de49"/><stop offset="0.7" stop-color="#9ed552"/><stop offset="0.76" stop-color="#76c963"/><stop offset="0.78" stop-color="#54b380"/><stop offset="0.81" stop-color="#448590"/><stop offset="0.82" stop-color="#458590"/><stop offset="0.85" stop-color="#4fa689"/><stop offset="0.87" stop-color="#4b9b8b"/><stop offset="0.89" stop-color="#448291"/><stop offset="0.91" stop-color="#4a968c"/><stop offset="0.94" stop-color="#51ac86"/><stop offset="1" stop-color="#5abc78"/></linearGradient>
<linearGradient id="hg57"><stop offset="0" stop-color="#60c270"/><stop offset="0.07" stop-color="#58b97a"/><stop offset="0.09" stop-color="#4da18a"/><stop offset="0.11" stop-color="#3f6791"/><stop offset="0.12" stop-color="#3e6190"/><stop offset="0.15" stop-color="#4da08a"/><stop offset="0.17" stop-color="#4da08a"/><stop offset="0.2" stop-color="#49958d"/><stop offset="0.24" stop-color="#5cbe76"/><stop offset="0.49" stop-color="#adda4c"/><stop offset="0.51" stop-color="#cce546"/><stop offset="0.53" stop-color="#d8e845"/><stop offset="0.57" stop-color="#b8de49"/><stop offset="0.7" stop-color="#9fd651"/><stop offset="0.76" stop-color="#77c963"/><stop offset="0.78" stop-color="#54b380"/><stop offset="0.81" stop-color="#448490"/><stop offset="0.82" stop-color="#458590"/><stop offset="0.85" stop-color="#4fa689"/><stop offset="0.87" stop-color="#4b9b8b"/><stop offset="0.89" stop-color="#448291"/><stop offset="0.91" stop-color="#4a978c"/><stop offset="0.94" stop-color="#51ad86"/><stop offset="1" stop-color="#5abc78"/></linearGradient>
<linearGradient id="hg58"><stop offset="0" stop-color="#60c270"/><stop offset="0.07" stop-color="#58ba7a"/><stop offset="0.09" stop-color="#4a988c"/><stop offset="0.11" stop-color="#3f6891"/><stop offset="0.12" stop-color="#3f6390"/><stop offset="0.14" stop-color="#4b9c8b"/><stop offset="0.16" stop-color="#4ea589"/><stop offset="0.2" stop-color="#49958d"/><stop offset="0.23" stop-color="#58ba7a"/><stop offset="0.43" stop-color="#99d454"/><stop offset="0.5" stop-color="#badf49"/><stop offset="0.53" stop-color="#d8e845"/><stop offset="0.55" stop-color="#c9e446"/><stop offset="0.58" stop-color="#b8de49"/><stop offset="0.7" stop-color="#9fd651"/><stop offset="0.76" stop-color="#77ca63"/><stop offset="0.78" stop-color="#58ba7a"/><stop offset="0.8" stop-color="#49938d"/><stop offset="0.81" stop-color="#448390"/><stop offset="0.83" stop-color="#49938d"/><stop offset="0.85" stop-color="#4fa889"/><stop offset="0.87" stop-color="#49958d"/><stop offset="0.89" stop-color="#448291"/><stop offset="0.91" stop-color="#48908e"/><stop offset="0.93" stop-color="#50ab87"/><stop offset="1" stop-color="#5abc78"/></linearGradient>
<linearGradient id="hg59"><stop offset="0" stop-color="#60c270"/><stop offset="0.07" stop-color="#58ba7a"/><stop offset="0.09" stop-color="#4a998c"/><stop offset="0.11" stop-color="#406a91"/><stop offset="0.12" stop-color="#3f6590"/><stop offset="0.14" stop-color="#4b9c8b"/><stop offset="0.17" stop-color="#4ea389"/><stop offset="0.2" stop-color="#49948d"/><stop offset="0.23" stop-color="#56b77d"/><stop offset="0.32" stop-color="#73c865"/><stop offset="0.49" stop-color="#b0db4b"/><stop offset="0.53" stop-color="#d8e845"/><stop offset="0.55" stop-color="#c9e446"/><stop offset="0.58" stop-color="#b7de49"/><stop offset="0.7" stop-color="#9fd651"/><stop offset="0.76" stop-color="#77ca63"/><stop offset="0.78" stop-color="#58ba7a"/><stop offset="0.8" stop-color="#49958d"/><stop offset="0.81" stop-color="#458590"/><stop offset="0.83" stop-color="#49958d"/><stop offset="0.85" stop-color="#4fa888"/><stop offset="0.87" stop-color="#49968c"/><stop offset="0.89" stop-color="#448291"/><stop offset="0.91" stop-color="#478f8e"/><stop offset="0.93" stop-color="#50aa88"/><stop offset="1" stop-color="#5abc78"/></linearGradient>
<linearGradient id="hg60"><stop offset="0" stop-color="#60c270"/><stop offset="0.07" stop-color="#58ba7a"/><stop offset="0.09" stop-color="#4b9a8c"/><stop offset="0.11" stop-color="#406d91"/><stop offset="0.12" stop-color="#3f6891"/><stop offset="0.15" stop-color="#4da28a"/><stop offset="0.17" stop-color="#4da18a"/><stop offset="0.2" stop-color="#49948d"/><stop offset="0.23" stop-color="#54b381"/><stop offset="0.27" stop-color="#61c36f"/><stop offset="0.49" stop-color="#afdb4b"/><stop offset="0.53" stop-color="#d8e845"/><stop offset="0.55" stop-color="#c9e446"/><stop offset="0.58" stop-color="#b7de49"/><stop offset="0.7" stop-color="#9fd651"/><stop offset="0.76" stop-color="#77ca63"/><stop offset="0.78" stop-color="#58ba7a"/><stop offset="0.8" stop-color="#4a978c"/><stop offset="0.81" stop-color="#45888f"/><stop offset="0.83" stop-color="#4b9c8b"/><stop offset="0.86" stop-color="#4fa888"/><stop offset="0.89" stop-color="#448291"/><stop offset="0.91" stop-color="#478e8e"/><stop offset="0.93" stop-color="#50aa88"/><stop offset="1" stop-color="#5abc78"/></linearGradient>
<linearGradient id="hg61"><stop offset="0" stop-color="#60c270"/><stop offset="0.07" stop-color="#58ba7a"/><stop offset="0.09" stop-color="#4b9a8b"/><stop offset="0.11" stop-color="#3f6991"/><stop offset="0.12" stop-color="#407091"/><stop offset="0.14" stop-color="#4c9d8b"/><stop offset="0.17" stop-color="#4ea489"/><stop offset="0.2" stop-color="#49948d"/><stop offset="0.23" stop-color="#56b67d"/><stop offset="0.31" stop-color="#6ec768"/><stop offset="0.49" stop-color="#afdb4b"/><stop offset="0.53" stop-color="#d8e845"/><stop offset="0.55" stop-color="#c9e446"/><stop offset="0.58" stop-color="#b7de49"/><stop offset="0.7" stop-color="#9fd651"/><stop offset="0.76" stop-color="#77c963"/><stop offset="0.78" stop-color="#58ba79"/><stop offset="0.8" stop-color="#4a988c"/><stop offset="0.81" stop-color="#468a8f"/><stop offset="0.85" stop-color="#50a988"/><stop offset="0.87" stop-color="#4a988c"/><stop offset="0.89" stop-color="#448391"/><stop offset="0.91" stop-color="#478e8e"/><stop offset="0.94" stop-color="#51ab87"/><stop offset="1" stop-color="#5abc78"/></linearGradient>
<linearGradient id="hg62"><stop offset="0" stop-color="#60c270"/><stop offset="0.07" stop-color="#58ba7a"/><stop offset="0.09" stop-color="#4b9b8b"/><stop offset="0.11" stop-color="#406a91"/><stop offset="0.12" stop-color="#407091"/><stop offset="0.14" stop-color="#4c9d8b"/><stop offset="0.17" stop-color="#4ea589"/><stop offset="0.2" stop-color="#49958d"/><stop offset="0.23" stop-color="#54b281"/><stop offset="0.27" stop-color="#61c36f"/><stop offset="0.49" stop-color="#afdb4b"/><stop offset="0.53" stop-color="#d8e845"/><stop offset="0.55" stop-color="#c9e446"/><stop offset="0.58" stop-color="#b7de49"/><stop offset="0.7" stop-color="#9fd651"/><stop offset="0.76" stop-color="#77ca63"/><stop offset="0.78" stop-color="#59bb79"/><stop offset="0.8" stop-color="#4a998c"/><stop offset="0.82" stop-color="#468a8f"/><stop offset="0.85" stop-color="#50aa88"/><stop offset="0.87" stop-color="#4a998c"/><stop offset="0.89" stop-color="#448490"/><stop offset="0.91" stop-color="#478f8e"/><stop offset="0.94" stop-color="#51ab87"/><stop offset="1" stop-color="#5abc78"/></linearGradient>
<linearGradient id="hg63"><stop offset="0" stop-color="#61c370"/><stop offset="0.07" stop-color="#58ba79"/><stop offset="0.09" stop-color="#4c9d8b"/><stop offset="0.11" stop-color="#406b91"/><stop offset="0.12" stop-color="#407091"/><stop offset="0.15" stop-color="#4da28a"/><stop offset="0.17" stop-color="#4ea389"/><stop offset="0.2" stop-color="#4a978c"/><stop offset="0.23" stop-color="#56b77d"/><stop offset="0.31" stop-color="#72c866"/><stop offset="0.49" stop-color="#b3dc4a"/><stop offset="0.53" stop-color="#d8e845"/><stop offset="0.55" stop-color="#c5e247"/><stop offset="0.6" stop-color="#b5dd49"/><stop offset="0.71" stop-color="#9cd552"/><stop offset="0.76" stop-color="#78ca62"/><stop offset="0.78" stop-color="#59bb78"/><stop offset="0.8" stop-color="#4a998c"/><stop offset="0.82" stop-color="#468a8f"/><stop offset="0.85" stop-color="#50aa88"/><stop offset="0.87" stop-color="#4b9a8c"/><stop offset="0.89" stop-color="#458690"/><stop offset="0.94" stop-color="#51ac86"/><stop offset="1" stop-color="#5abc78"/></linearGradient>
<linearGradient id="hg64"><stop offset="0" stop-color="#60c270"/><stop offset="0.07" stop-color="#59bb79"/><stop offset="0.09" stop-color="#4c9e8b"/><stop offset="0.11" stop-color="#406b91"/><stop offset="0.12" stop-color="#406e91"/><stop offset="0.15" stop-color="#4da18a"/><stop offset="0.17" stop-color="#4ea489"/><stop offset="0.2" stop-color="#4a998c"/><stop offset="0.23" stop-color="#58ba7a"/><stop offset="0.43" stop-color="#99d454"/><stop offset="0.5" stop-color="#badf49"/><stop offset="0.53" stop-color="#d8e845"/><stop offset="0.55" stop-color="#c9e446"/><stop offset="0.58" stop-color="#b8de49"/><stop offset="0.7" stop-color="#9fd651"/><stop offset="0.76" stop-color="#78ca62"/><stop offset="0.78" stop-color="#5abc78"/><stop offset="0.8" stop-color="#4b9a8c"/><stop offset="0.82" stop-color="#46898f"/><stop offset="0.85" stop-color="#50a988"/><stop offset="0.88" stop-color="#49958d"/><stop offset="0.89" stop-color="#46898f"/><stop offset="0.94" stop-color="#51ac86"/><stop offset="1" stop-color="#5abc78"/></linearGradient>
<linearGradient id="hg65"><stop offset="0" stop-color="#60c270"/><stop offset="0.07" stop-color="#59bb79"/><stop offset="0.09" stop-color="#4c9f8a"/><stop offset="0.11" stop-color="#406c91"/><stop offset="0.12" stop-color="#406e91"/><stop offset="0.15" stop-color="#4da08a"/><stop offset="0.17" stop-color="#4ea589"/><stop offset="0.2" stop-color="#4b9c8b"/><stop offset="0.25" stop-color="#5dbf74"/><stop offset="0.49" stop-color="#afdb4b"/><stop offset="0.53" stop-color="#d7e745"/><stop offset="0.55" stop-color="#c8e346"/><stop offset="0.58" stop-color="#b7de49"/><stop offset="0.7" stop-color="#9ed552"/><stop offset="0.76" stop-color="#77ca63"/><stop offset="0.78" stop-color="#56b77d"/><stop offset="0.8" stop-color="#49938d"/><stop offset="0.82" stop-color="#46898f"/><stop offset="0.85" stop-color="#50a988"/><stop offset="0.88" stop-color="#4a978c"/><stop offset="0.89" stop-color="#468b8f"/><stop offset="0.94" stop-color="#51ac87"/><stop offset="1" stop-color="#5abc78"/></linearGradient>
<linearGradient id="hg66"><stop offset="0" stop-color="#60c271"/><stop offset="0.07" stop-color="#59bb79"/><stop offset="0.09" stop-color="#4da08a"/><stop offset="0.11" stop-color="#406f91"/><stop offset="0.12" stop-color="#406f91"/><stop offset="0.15" stop-color="#4da08a"/><stop offset="0.17" stop-color="#4fa689"/><stop offset="0.2" stop-color="#4c9e8b"/><stop offset="0.25" stop-color="#5cbe75"/><stop offset="0.48" stop-color="#a7d84e"/><stop offset="0.51" stop-color="#c4e247"/><stop offset="0.53" stop-color="#d7e745"/><stop offset="0.55" stop-color="#c8e346"/><stop offset="0.58" stop-color="#b6dd49"/><stop offset="0.7" stop-color="#9cd552"/><stop offset="0.76" stop-color="#71c866"/><stop offset="0.78" stop-color="#57b77c"/><stop offset="0.8" stop-color="#49958d"/><stop offset="0.82" stop-color="#468a8f"/><stop offset="0.86" stop-color="#50a988"/><stop offset="0.89" stop-color="#478d8e"/><stop offset="0.94" stop-color="#51ac86"/><stop offset="1" stop-color="#59bb78"/></linearGradient>
<linearGradient id="hg67"><stop offset="0" stop-color="#60c270"/><stop offset="0.07" stop-color="#59bb79"/><stop offset="0.09" stop-color="#4da28a"/><stop offset="0.11" stop-color="#417391"/><stop offset="0.12" stop-color="#417391"/><stop offset="0.15" stop-color="#4da18a"/><stop offset="0.17" stop-color="#4fa789"/><stop offset="0.2" stop-color="#4c9f8b"/><stop offset="0.25" stop-color="#5cbe75"/><stop offset="0.49" stop-color="#acda4c"/><stop offset="0.51" stop-color="#cce546"/><stop offset="0.53" stop-color="#d7e745"/><stop offset="0.57" stop-color="#b8de49"/><stop offset="0.7" stop-color="#9cd552"/><stop offset="0.76" stop-color="#72c866"/><stop offset="0.79" stop-color="#54b381"/><stop offset="0.81" stop-color="#478f8e"/><stop offset="0.83" stop-color="#4a968c"/><stop offset="0.86" stop-color="#50aa88"/><stop offset="0.89" stop-color="#478e8e"/><stop offset="0.94" stop-color="#51ac86"/><stop offset="1" stop-color="#59bb78"/></linearGradient>
<linearGradient id="hg68"><stop offset="0" stop-color="#60c270"/><stop offset="0.07" stop-color="#58b97b"/><stop offset="0.09" stop-color="#4b9c8b"/><stop offset="0.11" stop-color="#417892"/><stop offset="0.12" stop-color="#417792"/><stop offset="0.15" stop-color="#4fa689"/><stop offset="0.18" stop-color="#4ea489"/><stop offset="0.2" stop-color="#4da18a"/><stop offset="0.25" stop-color="#5dbf74"/><stop offset="0.49" stop-color="#afdb4b"/><stop offset="0.53" stop-color="#d8e845"/><stop offset="0.55" stop-color="#c9e446"/><stop offset="0.58" stop-color="#b7de49"/><stop offset="0.7" stop-color="#9fd651"/><stop offset="0.76" stop-color="#73c865"/><stop offset="0.79" stop-color="#55b47f"/><stop offset="0.81" stop-color="#48928d"/><stop offset="0.83" stop-color="#4c9d8b"/><stop offset="0.86" stop-color="#50ab87"/><stop offset="0.9" stop-color="#48908e"/><stop offset="0.94" stop-color="#51ad86"/><stop offset="1" stop-color="#5abc78"/></linearGradient>
<linearGradient id="hg69"><stop offset="0" stop-color="#60c270"/><stop offset="0.07" stop-color="#58ba7a"/><stop offset="0.09" stop-color="#4c9e8b"/><stop offset="0.11" stop-color="#417892"/><stop offset="0.13" stop-color="#438091"/><stop offset="0.15" stop-color="#4fa789"/><stop offset="0.18" stop-color="#4ea489"/><stop offset="0.2" stop-color="#4da18a"/><stop offset="0.25" stop-color="#5ec073"/><stop offset="0.49" stop-color="#b0db4b"/><stop offset="0.53" stop-color="#d8e845"/><stop offset="0.55" stop-color="#c9e446"/><stop offset="0.58" stop-color="#b7de49"/><stop offset="0.7" stop-color="#9fd651"/><stop offset="0.76" stop-color="#73c965"/><stop offset="0.79" stop-color="#55b57f"/><stop offset="0.81" stop-color="#49958d"/><stop offset="0.83" stop-color="#4c9f8a"/><stop offset="0.86" stop-color="#50ab87"/><stop offset="0.9" stop-color="#48908e"/><stop offset="0.94" stop-color="#51ad86"/><stop offset="1" stop-color="#5abc78"/></linearGradient>
<linearGradient id="hg70"><stop offset="0" stop-color="#60c270"/><stop offset="0.07" stop-color="#58ba7a"/><stop offset="0.1" stop-color="#49968c"/><stop offset="0.11" stop-color="#427b92"/><stop offset="0.13" stop-color="#468a8f"/><stop offset="0.15" stop-color="#4fa789"/><stop offset="0.18" stop-color="#4ea489"/><stop offset="0.2" stop-color="#4da08a"/><stop offset="0.25" stop-color="#5ec073"/><stop offset="0.49" stop-color="#b0db4b"/><stop offset="0.53" stop-color="#d8e845"/><stop offset="0.55" stop-color="#c4e247"/><stop offset="0.6" stop-color="#b5dd49"/><stop offset="0.71" stop-color="#9cd552"/><stop offset="0.76" stop-color="#74c965"/><stop offset="0.79" stop-color="#56b57e"/><stop offset="0.81" stop-color="#4b9a8c"/><stop offset="0.83" stop-color="#4a998c"/><stop offset="0.86" stop-color="#51ac86"/><stop offset="0.9" stop-color="#48908e"/><stop offset="0.94" stop-color="#51ac86"/><stop offset="1" stop-color="#5abc78"/></linearGradient>
<linearGradient id="hg71"><stop offset="0" stop-color="#61c36f"/><stop offset="0.07" stop-color="#58ba7a"/><stop offset="0.1" stop-color="#4a978c"/><stop offset="0.11" stop-color="#427d92"/><stop offset="0.13" stop-color="#478c8e"/><stop offset="0.15" stop-color="#4fa888"/><stop offset="0.18" stop-color="#4ea489"/><stop offset="0.2" stop-color="#4da08a"/><stop offset="0.25" stop-color="#5dbf74"/><stop offset="0.49" stop-color="#b1dc4a"/><stop offset="0.53" stop-color="#d9e845"/><stop offset="0.55" stop-color="#c5e247"/><stop offset="0.6" stop-color="#b6dd49"/><stop offset="0.71" stop-color="#9dd552"/><stop offset="0.76" stop-color="#75c964"/><stop offset="0.79" stop-color="#56b57e"/><stop offset="0.81" stop-color="#4b9b8b"/><stop offset="0.83" stop-color="#4c9e8b"/><stop offset="0.86" stop-color="#51ad85"/><stop offset="0.9" stop-color="#478f8e"/><stop offset="0.94" stop-color="#51ad86"/><stop offset="1" stop-color="#5abc77"/></linearGradient>
<linearGradient id="hg72"><stop offset="0" stop-color="#61c370"/><stop offset="0.07" stop-color="#58ba7a"/><stop offset="0.1" stop-color="#4a978c"/><stop offset="0.11" stop-color="#437f91"/><stop offset="0.13" stop-color="#478e8e"/><stop offset="0.15" stop-color="#4fa888"/><stop offset="0.18" stop-color="#4ea38a"/><stop offset="0.2" stop-color="#4c9e8b"/><stop offset="0.25" stop-color="#5dbf74"/><stop offset="0.49" stop-color="#b1dc4b"/><stop offset="0.53" stop-color="#d8e845"/><stop offset="0.55" stop-color="#c5e247"/><stop offset="0.6" stop-color="#b6dd49"/><stop offset="0.71" stop-color="#9cd552"/><stop offset="0.76" stop-color="#74c965"/><stop offset="0.79" stop-color="#56b57e"/><stop offset="0.81" stop-color="#4b9b8b"/><stop offset="0.83" stop-color="#4c9f8a"/><stop offset="0.86" stop-color="#51ad85"/><stop offset="0.9" stop-color="#478d8e"/><stop offset="0.94" stop-color="#51ac86"/><stop offset="1" stop-color="#5abc77"/></linearGradient>
<linearGradient id="hg73"><stop offset="0" stop-color="#60c270"/><stop offset="0.07" stop-color="#57b97b"/><stop offset="0.1" stop-color="#4a968c"/><stop offset="0.11" stop-color="#438091"/><stop offset="0.13" stop-color="#48908e"/><stop offset="0.15" stop-color="#4fa888"/><stop offset="0.18" stop-color="#4da18a"/><stop offset="0.2" stop-color="#4b9b8b"/><stop offset="0.25" stop-color="#5cbe75"/><stop offset="0.49" stop-color="#afdb4b"/><stop offset="0.53" stop-color="#d7e745"/><stop offset="0.55" stop-color="#c8e346"/><stop offset="0.58" stop-color="#b7de49"/><stop offset="0.7" stop-color="#9ed552"/><stop offset="0.76" stop-color="#78ca63"/><stop offset="0.78" stop-color="#58b97b"/><stop offset="0.8" stop-color="#4c9f8b"/><stop offset="0.83" stop-color="#4b9c8b"/><stop offset="0.86" stop-color="#51ad86"/><stop offset="0.9" stop-color="#468a8f"/><stop offset="0.94" stop-color="#51ab87"/><stop offset="1" stop-color="#5abc78"/></linearGradient>
<linearGradient id="hg74"><stop offset="0" stop-color="#60c270"/><stop offset="0.07" stop-color="#57b97b"/><stop offset="0.1" stop-color="#4a978c"/><stop offset="0.11" stop-color="#448291"/><stop offset="0.14" stop-color="#4a998c"/><stop offset="0.16" stop-color="#50aa88"/><stop offset="0.2" stop-color="#4a978c"/><stop offset="0.23" stop-color="#56b77d"/><stop offset="0.31" stop-color="#70c866"/><stop offset="0.49" stop-color="#afdb4b"/><stop offset="0.53" stop-color="#d7e745"/><stop offset="0.55" stop-color="#c8e346"/><stop offset="0.58" stop-color="#b7de49"/><stop offset="0.7" stop-color="#9ed552"/><stop offset="0.76" stop-color="#78ca63"/><stop offset="0.78" stop-color="#58b97b"/><stop offset="0.8" stop-color="#4c9f8a"/><stop offset="0.83" stop-color="#4c9e8b"/><stop offset="0.86" stop-color="#51ad85"/><stop offset="0.9" stop-color="#458790"/><stop offset="0.94" stop-color="#51ab87"/><stop offset="1" stop-color="#5abc78"/></linearGradient>
<linearGradient id="hg75"><stop offset="0" stop-color="#60c270"/><stop offset="0.07" stop-color="#59bb78"/><stop offset="0.1" stop-color="#4a988c"/><stop offset="0.11" stop-color="#458590"/><stop offset="0.15" stop-color="#50aa88"/><stop offset="0.18" stop-color="#4da08a"/><stop offset="0.2" stop-color="#49958d"/><stop offset="0.23" stop-color="#54b380"/><stop offset="0.28" stop-color="#62c46e"/><stop offset="0.49" stop-color="#b3dc4a"/><stop offset="0.53" stop-color="#d8e845"/><stop offset="0.55" stop-color="#c9e446"/><stop offset="0.58" stop-color="#b8de49"/><stop offset="0.7" stop-color="#9fd651"/><stop offset="0.76" stop-color="#78ca62"/><stop offset="0.78" stop-color="#58b97a"/><stop offset="0.8" stop-color="#4da18a"/><stop offset="0.83" stop-color="#4da08a"/><stop offset="0.86" stop-color="#52ae85"/><stop offset="0.88" stop-color="#49948d"/><stop offset="0.9" stop-color="#458590"/><stop offset="0.94" stop-color="#51ab87"/><stop offset="1" stop-color="#5abc78"/></linearGradient>
<linearGradient id="hg76"><stop offset="0" stop-color="#61c36f"/><stop offset="0.07" stop-color="#5abc78"/><stop offset="0.1" stop-color="#4a998c"/><stop offset="0.11" stop-color="#45888f"/><stop offset="0.15" stop-color="#50ab87"/><stop offset="0.18" stop-color="#4da08a"/><stop offset="0.2" stop-color="#49948d"/><stop offset="0.23" stop-color="#54b380"/><stop offset="0.27" stop-color="#62c46e"/><stop offset="0.49" stop-color="#b4dd4a"/><stop offset="0.53" stop-color="#d9e845"/><stop offset="0.55" stop-color="#c6e347"/><stop offset="0.6" stop-color="#b6dd49"/><stop offset="0.71" stop-color="#9dd552"/><stop offset="0.76" stop-color="#74c965"/><stop offset="0.79" stop-color="#55b57f"/><stop offset="0.81" stop-color="#4c9d8b"/><stop offset="0.86" stop-color="#52ae84"/><stop offset="0.88" stop-color="#49948d"/><stop offset="0.9" stop-color="#448490"/><stop offset="0.94" stop-color="#51ac87"/><stop offset="1" stop-color="#5abc77"/></linearGradient>
<linearGradient id="hg77"><stop offset="0" stop-color="#61c36f"/><stop offset="0.07" stop-color="#5abc78"/><stop offset="0.1" stop-color="#4a998c"/><stop offset="0.11" stop-color="#45888f"/><stop offset="0.15" stop-color="#50ab87"/><stop offset="0.18" stop-color="#4c9f8a"/><stop offset="0.2" stop-color="#48928d"/><stop offset="0.23" stop-color="#54b281"/><stop offset="0.27" stop-color="#62c46e"/><stop offset="0.49" stop-color="#b4dd4a"/><stop offset="0.53" stop-color="#d9e845"/><stop offset="0.55" stop-color="#c5e247"/><stop offset="0.6" stop-color="#b6dd49"/><stop offset="0.71" stop-color="#9dd552"/><stop offset="0.76" stop-color="#73c965"/><stop offset="0.78" stop-color="#58b97b"/><stop offset="0.8" stop-color="#4da18a"/><stop offset="0.83" stop-color="#4da28a"/><stop offset="0.86" stop-color="#52ae84"/><stop offset="0.88" stop-color="#48938d"/><stop offset="0.9" stop-color="#448391"/><stop offset="0.94" stop-color="#51ab87"/><stop offset="1" stop-color="#5abc77"/></linearGradient>
<linearGradient id="hg78"><stop offset="0" stop-color="#61c370"/><stop offset="0.07" stop-color="#59bb79"/><stop offset="0.1" stop-color="#4a978c"/><stop offset="0.11" stop-color="#458790"/><stop offset="0.15" stop-color="#50aa88"/><stop offset="0.18" stop-color="#4c9d8b"/><stop offset="0.2" stop-color="#48908e"/><stop offset="0.23" stop-color="#56b67d"/><stop offset="0.3" stop-color="#6bc669"/><stop offset="0.49" stop-color="#b3dc4a"/><stop offset="0.53" stop-color="#d8e845"/><stop offset="0.55" stop-color="#c5e247"/><stop offset="0.6" stop-color="#b5dd49"/><stop offset="0.71" stop-color="#9cd552"/><stop offset="0.76" stop-color="#78ca62"/><stop offset="0.78" stop-color="#5bbd77"/><stop offset="0.8" stop-color="#4c9f8a"/><stop offset="0.83" stop-color="#4da18a"/><stop offset="0.86" stop-color="#52ae85"/><stop offset="0.88" stop-color="#48918e"/><stop offset="0.9" stop-color="#438191"/><stop offset="0.94" stop-color="#51ab87"/><stop offset="1" stop-color="#5abc78"/></linearGradient>
<linearGradient id="hg79"><stop offset="0" stop-color="#60c270"/><stop offset="0.07" stop-color="#59bb79"/><stop offset="0.1" stop-color="#49958d"/><stop offset="0.11" stop-color="#458590"/><stop offset="0.15" stop-color="#50aa88"/><stop offset="0.18" stop-color="#4b9c8b"/><stop offset="0.2" stop-color="#488f8e"/><stop offset="0.23" stop-color="#56b67d"/><stop offset="0.3" stop-color="#6bc669"/><stop offset="0.49" stop-color="#b3dc4a"/><stop offset="0.53" stop-color="#d8e845"/><stop offset="0.55" stop-color="#c9e446"/><stop offset="0.58" stop-color="#b7de49"/><stop offset="0.7" stop-color="#9fd651"/><stop offset="0.76" stop-color="#77ca63"/><stop offset="0.78" stop-color="#5abc77"/><stop offset="0.8" stop-color="#4c9e8b"/><stop offset="0.83" stop-color="#4da08a"/><stop offset="0.85" stop-color="#52ae84"/><stop offset="0.87" stop-color="#4c9d8b"/><stop offset="0.89" stop-color="#438191"/><stop offset="0.91" stop-color="#478c8f"/><stop offset="0.94" stop-color="#50a988"/><stop offset="1" stop-color="#5abc78"/></linearGradient>
<linearGradient id="hg80"><stop offset="0" stop-color="#60c270"/><stop offset="0.07" stop-color="#59bb79"/><stop offset="0.09" stop-color="#4b9c8b"/><stop offset="0.11" stop-color="#448490"/><stop offset="0.13" stop-color="#48908e"/><stop offset="0.15" stop-color="#50aa88"/><stop offset="0.18" stop-color="#4b9c8b"/><stop offset="0.2" stop-color="#478f8e"/><stop offset="0.23" stop-color="#56b67d"/><stop offset="0.3" stop-color="#6bc669"/><stop offset="0.49" stop-color="#afdb4b"/><stop offset="0.53" stop-color="#d8e845"/><stop offset="0.55" stop-color="#c9e446"/><stop offset="0.58" stop-color="#b7de49"/><stop offset="0.7" stop-color="#9fd651"/><stop offset="0.76" stop-color="#77ca63"/><stop offset="0.78" stop-color="#5abc78"/><stop offset="0.8" stop-color="#4c9d8b"/><stop offset="0.83" stop-color="#4c9f8a"/><stop offset="0.85" stop-color="#52ae85"/><stop offset="0.87" stop-color="#4c9d8b"/><stop offset="0.89" stop-color="#438091"/><stop offset="0.91" stop-color="#478c8f"/><stop offset="0.94" stop-color="#50a988"/><stop offset="1" stop-color="#5abc78"/></linearGradient>
<linearGradient id="hg81"><stop offset="0" stop-color="#60c270"/><stop offset="0.07" stop-color="#59bb79"/><stop offset="0.09" stop-color="#4b9c8b"/><stop offset="0.11" stop-color="#448490"/><stop offset="0.13" stop-color="#48918e"/><stop offset="0.15" stop-color="#50aa88"/><stop offset="0.18" stop-color="#4b9c8b"/><stop offset="0.2" stop-color="#488f8e"/><stop offset="0.23" stop-color="#56b67d"/><stop offset="0.3" stop-color="#6dc768"/><stop offset="0.49" stop-color="#b3dc4a"/><stop offset="0.53" stop-color="#d8e845"/><stop offset="0.55" stop-color="#c4e247"/><stop offset="0.6" stop-color="#b5dd49"/><stop offset="0.71" stop-color="#9cd552"/><stop offset="0.76" stop-color="#78ca63"/><stop offset="0.78" stop-color="#5abc78"/><stop offset="0.8" stop-color="#4c9d8b"/><stop offset="0.83" stop-color="#4c9f8a"/><stop offset="0.85" stop-color="#52ae84"/><stop offset="0.87" stop-color="#4c9d8b"/><stop offset="0.89" stop-color="#438091"/><stop offset="0.91" stop-color="#478c8e"/><stop offset="0.94" stop-color="#50a988"/><stop offset="1" stop-color="#5abc78"/></linearGradient>
<linearGradient id="hg82"><stop offset="0" stop-color="#61c370"/><stop offset="0.07" stop-color="#59bb79"/><stop offset="0.1" stop-color="#49958d"/><stop offset="0.11" stop-color="#458590"/><stop offset="0.15" stop-color="#50aa88"/><stop offset="0.18" stop-color="#4b9c8b"/><stop offset="0.2" stop-color="#48908e"/><stop offset="0.23" stop-color="#54b281"/><stop offset="0.27" stop-color="#62c46e"/><stop offset="0.49" stop-color="#b3dc4a"/><stop offset="0.53" stop-color="#d8e845"/><stop offset="0.55" stop-color="#c5e247"/><stop offset="0.6" stop-color="#b6dd49"/><stop offset="0.71" stop-color="#9cd552"/><stop offset="0.76" stop-color="#78ca62"/><stop offset="0.78" stop-color="#5abc77"/><stop offset="0.8" stop-color="#4c9e8b"/><stop offset="0.83" stop-color="#4da08a"/><stop offset="0.85" stop-color="#52ae84"/><stop offset="0.87" stop-color="#4c9e8b"/><stop offset="0.89" stop-color="#438191"/><stop offset="0.91" stop-color="#478d8e"/><stop offset="0.94" stop-color="#50aa88"/><stop offset="1" stop-color="#5abc77"/></linearGradient>
<linearGradient id="hg83"><stop offset="0" stop-color="#61c370"/><stop offset="0.07" stop-color="#59bb79"/><stop offset="0.1" stop-color="#4a978c"/><stop offset="0.11" stop-color="#458790"/><stop offset="0.15" stop-color="#50aa88"/><stop offset="0.18" stop-color="#4c9d8b"/><stop offset="0.2" stop-color="#48908e"/><stop offset="0.23" stop-color="#56b67d"/><stop offset="0.3" stop-color="#6bc669"/><stop offset="0.49" stop-color="#b3dc4a"/><stop offset="0.53" stop-color="#d8e845"/><stop offset="0.55" stop-color="#c5e247"/><stop offset="0.6" stop-color="#b6dd49"/><stop offset="0.71" stop-color="#9cd552"/><stop offset="0.76" stop-color="#78ca62"/><stop offset="0.78" stop-color="#5bbd77"/><stop offset="0.8" stop-color="#4c9f8a"/><stop offset="0.83" stop-color="#4da18a"/><stop offset="0.86" stop-color="#52ae85"/><stop offset="0.88" stop-color="#48918e"/><stop offset="0.9" stop-color="#438191"/><stop offset="0.94" stop-color="#51ab87"/><stop offset="1" stop-color="#5abc77"/></linearGradient>
<linearGradient id="hg84"><stop offset="0" stop-color="#60c270"/><stop offset="0.07" stop-color="#59bb79"/><stop offset="0.1" stop-color="#4a988c"/><stop offset="0.11" stop-color="#45888f"/><stop offset="0.15" stop-color="#50aa88"/><stop offset="0.18" stop-color="#4c9e8b"/><stop offset="0.2" stop-color="#48908e"/><stop offset="0.23" stop-color="#56b67e"/><stop offset="0.29" stop-color="#69c66a"/><stop offset="0.49" stop-color="#afdb4b"/><stop offset="0.53" stop-color="#d8e845"/><stop offset="0.55" stop-color="#c9e446"/><stop offset="0.58" stop-color="#b7de49"/><stop offset="0.7" stop-color="#9fd651"/><stop offset="0.76" stop-color="#78ca63"/><stop offset="0.78" stop-color="#5bbd76"/><stop offset="0.8" stop-color="#4da18a"/><stop offset="0.83" stop-color="#4da28a"/><stop offset="0.86" stop-color="#52ae85"/><stop offset="0.88" stop-color="#48928d"/><stop offset="0.9" stop-color="#448291"/><stop offset="0.94" stop-color="#50ab87"/><stop offset="1" stop-color="#5abc78"/></linearGradient>
<linearGradient id="hg85"><stop offset="0" stop-color="#60c270"/><stop offset="0.07" stop-color="#59bb78"/><stop offset="0.1" stop-color="#4b9a8c"/><stop offset="0.11" stop-color="#468a8f"/><stop offset="0.15" stop-color="#50ab87"/><stop offset="0.18" stop-color="#4c9f8a"/><stop offset="0.2" stop-color="#48928d"/><stop offset="0.23" stop-color="#56b67e"/><stop offset="0.29" stop-color="#69c66a"/><stop offset="0.49" stop-color="#b3dc4a"/><stop offset="0.53" stop-color="#d8e845"/><stop offset="0.55" stop-color="#c9e446"/><stop offset="0.58" stop-color="#b8de49"/><stop offset="0.7" stop-color="#9fd651"/><stop offset="0.76" stop-color="#78ca62"/><stop offset="0.78" stop-color="#58b97a"/><stop offset="0.81" stop-color="#4da08a"/><stop offset="0.86" stop-color="#52ae84"/><stop offset="0.88" stop-color="#49948d"/><stop offset="0.9" stop-color="#448390"/><stop offset="0.94" stop-color="#50ab87"/><stop offset="1" stop-color="#5abc78"/></linearGradient>
<linearGradient id="hg86"><stop offset="0" stop-color="#61c36f"/><stop offset="0.07" stop-color="#58ba7a"/><stop offset="0.11" stop-color="#48908e"/><stop offset="0.12" stop-color="#48908e"/><stop offset="0.15" stop-color="#51ab87"/><stop offset="0.18" stop-color="#4da18a"/><stop offset="0.2" stop-color="#49948d"/><stop offset="0.23" stop-color="#54b281"/><stop offset="0.27" stop-color="#62c46e"/><stop offset="0.49" stop-color="#b4dd4a"/><stop offset="0.53" stop-color="#d9e845"/><stop offset="0.55" stop-color="#c5e247"/><stop offset="0.6" stop-color="#b6dd49"/><stop offset="0.71" stop-color="#9dd552"/><stop offset="0.76" stop-color="#74c965"/><stop offset="0.79" stop-color="#56b67e"/><stop offset="0.81" stop-color="#4da08a"/><stop offset="0.86" stop-color="#53af84"/><stop offset="0.88" stop-color="#49968c"/><stop offset="0.9" stop-color="#458590"/><stop offset="0.94" stop-color="#51ad86"/><stop offset="1" stop-color="#5abc77"/></linearGradient>
<linearGradient id="hg87"><stop offset="0" stop-color="#61c370"/><stop offset="0.07" stop-color="#58ba7a"/><stop offset="0.11" stop-color="#48908e"/><stop offset="0.12" stop-color="#48908e"/><stop offset="0.15" stop-color="#50ab87"/><stop offset="0.18" stop-color="#4da18a"/><stop offset="0.2" stop-color="#49958d"/><stop offset="0.23" stop-color="#54b281"/><stop offset="0.27" stop-color="#62c46e"/><stop offset="0.49" stop-color="#b3dc4a"/><stop offset="0.53" stop-color="#d8e845"/><stop offset="0.55" stop-color="#c5e247"/><stop offset="0.6" stop-color="#b6dd49"/><stop offset="0.71" stop-color="#9cd552"/><stop offset="0.76" stop-color="#73c965"/><stop offset="0.79" stop-color="#56b67e"/><stop offset="0.81" stop-color="#4da08a"/><stop offset="0.86" stop-color="#52af84"/><stop offset="0.89" stop-color="#48918e"/><stop offset="0.9" stop-color="#45888f"/><stop offset="0.94" stop-color="#51ab87"/><stop offset="1" stop-color="#5abc77"/></linearGradient>
<linearGradient id="hg88"><stop offset="0" stop-color="#60c270"/><stop offset="0.07" stop-color="#58b97b"/><stop offset="0.11" stop-color="#478c8f"/><stop offset="0.13" stop-color="#49938d"/><stop offset="0.16" stop-color="#50ab87"/><stop offset="0.2" stop-color="#4a988c"/><stop offset="0.24" stop-color="#58b97b"/><stop offset="0.38" stop-color="#89ce59"/><stop offset="0.49" stop-color="#afdb4b"/><stop offset="0.53" stop-color="#d7e745"/><stop offset="0.55" stop-color="#c8e346"/><stop offset="0.58" stop-color="#b7de49"/><stop offset="0.7" stop-color="#9ed552"/><stop offset="0.76" stop-color="#72c865"/><stop offset="0.79" stop-color="#56b67e"/><stop offset="0.81" stop-color="#4c9f8a"/><stop offset="0.86" stop-color="#52ae84"/><stop offset="0.89" stop-color="#48928d"/><stop offset="0.9" stop-color="#46898f"/><stop offset="0.94" stop-color="#50ab87"/><stop offset="1" stop-color="#5abc78"/></linearGradient>
<linearGradient id="hg89"><stop offset="0" stop-color="#60c270"/><stop offset="0.07" stop-color="#58b97a"/><stop offset="0.11" stop-color="#468b8f"/><stop offset="0.13" stop-color="#48918d"/><stop offset="0.16" stop-color="#50ab87"/><stop offset="0.2" stop-color="#4b9a8c"/><stop offset="0.24" stop-color="#58ba7a"/><stop offset="0.4" stop-color="#8fd057"/><stop offset="0.49" stop-color="#b2dc4a"/><stop offset="0.53" stop-color="#d7e745"/><stop offset="0.55" stop-color="#c8e346"/><stop offset="0.58" stop-color="#b7de49"/><stop offset="0.7" stop-color="#9ed552"/><stop offset="0.76" stop-color="#72c865"/><stop offset="0.79" stop-color="#56b67e"/><stop offset="0.81" stop-color="#4c9e8b"/><stop offset="0.86" stop-color="#52ae84"/><stop offset="0.9" stop-color="#468a8f"/><stop offset="0.94" stop-color="#51ac86"/><stop offset="1" stop-color="#5abc78"/></linearGradient>
<linearGradient id="hg90"><stop offset="0" stop-color="#60c270"/><stop offset="0.07" stop-color="#58ba7a"/><stop offset="0.11" stop-color="#468a8f"/><stop offset="0.13" stop-color="#48908e"/><stop offset="0.15" stop-color="#50aa88"/><stop offset="0.18" stop-color="#4da08a"/><stop offset="0.2" stop-color="#4b9c8b"/><stop offset="0.25" stop-color="#5dbf73"/><stop offset="0.49" stop-color="#b0db4b"/><stop offset="0.53" stop-color="#d8e845"/><stop offset="0.55" stop-color="#c9e446"/><stop offset="0.58" stop-color="#b8de49"/><stop offset="0.7" stop-color="#9fd651"/><stop offset="0.76" stop-color="#74c965"/><stop offset="0.79" stop-color="#56b67d"/><stop offset="0.81" stop-color="#4c9d8b"/><stop offset="0.86" stop-color="#52ad85"/><stop offset="0.9" stop-color="#478d8e"/><stop offset="0.94" stop-color="#51ad85"/><stop offset="1" stop-color="#5abc78"/></linearGradient>
<linearGradient id="hg91"><stop offset="0" stop-color="#61c370"/><stop offset="0.07" stop-color="#58ba7a"/><stop offset="0.1" stop-color="#49948d"/><stop offset="0.12" stop-color="#458690"/><stop offset="0.15" stop-color="#50a988"/><stop offset="0.18" stop-color="#4da18a"/><stop offset="0.2" stop-color="#4c9d8b"/><stop offset="0.25" stop-color="#5ec073"/><stop offset="0.49" stop-color="#b0db4b"/><stop offset="0.53" stop-color="#d8e845"/><stop offset="0.55" stop-color="#c5e247"/><stop offset="0.6" stop-color="#b6dd49"/><stop offset="0.71" stop-color="#9cd552"/><stop offset="0.76" stop-color="#74c965"/><stop offset="0.79" stop-color="#56b67e"/><stop offset="0.81" stop-color="#4b9b8b"/><stop offset="0.86" stop-color="#51ad86"/><stop offset="0.9" stop-color="#478e8e"/><stop offset="0.94" stop-color="#52ad85"/><stop offset="1" stop-color="#5abc77"/></linearGradient>
<linearGradient id="hg92"><stop offset="0" stop-color="#60c270"/><stop offset="0.07" stop-color="#58ba7a"/><stop offset="0.1" stop-color="#4a998c"/><stop offset="0.11" stop-color="#448291"/><stop offset="0.13" stop-color="#48918e"/><stop offset="0.16" stop-color="#50aa88"/><stop offset="0.2" stop-color="#4b9c8b"/><stop offset="0.23" stop-color="#57b97b"/><stop offset="0.36" stop-color="#82cc5d"/><stop offset="0.49" stop-color="#b0db4b"/><stop offset="0.53" stop-color="#d8e845"/><stop offset="0.55" stop-color="#c4e247"/><stop offset="0.6" stop-color="#b5dd49"/><stop offset="0.71" stop-color="#9cd553"/><stop offset="0.76" stop-color="#73c965"/><stop offset="0.79" stop-color="#56b57e"/><stop offset="0.81" stop-color="#4b9b8b"/><stop offset="0.83" stop-color="#4c9f8a"/><stop offset="0.86" stop-color="#51ad85"/><stop offset="0.9" stop-color="#478f8e"/><stop offset="0.94" stop-color="#52ad85"/><stop offset="1" stop-color="#5abc78"/></linearGradient>
<linearGradient id="hg93"><stop offset="0" stop-color="#60c270"/><stop offset="0.07" stop-color="#58ba7a"/><stop offset="0.1" stop-color="#4a988c"/><stop offset="0.11" stop-color="#437f91"/><stop offset="0.13" stop-color="#478f8e"/><stop offset="0.15" stop-color="#4fa888"/><stop offset="0.18" stop-color="#4ea38a"/><stop offset="0.2" stop-color="#4c9e8b"/><stop offset="0.25" stop-color="#5cbe75"/><stop offset="0.49" stop-color="#b0db4b"/><stop offset="0.53" stop-color="#d8e845"/><stop offset="0.55" stop-color="#c9e446"/><stop offset="0.58" stop-color="#b7de49"/><stop offset="0.7" stop-color="#9fd651"/><stop offset="0.76" stop-color="#73c865"/><stop offset="0.79" stop-color="#55b47f"/><stop offset="0.81" stop-color="#49968c"/><stop offset="0.86" stop-color="#51ac86"/><stop offset="0.9" stop-color="#478f8e"/><stop offset="0.94" stop-color="#51ac86"/><stop offset="1" stop-color="#5abc78"/></linearGradient>
<linearGradient id="hg94"><stop offset="0" stop-color="#60c270"/><stop offset="0.07" stop-color="#58b97b"/><stop offset="0.1" stop-color="#49968c"/><stop offset="0.11" stop-color="#427e92"/><stop offset="0.13" stop-color="#478e8e"/><stop offset="0.15" stop-color="#4fa888"/><stop offset="0.18" stop-color="#4da28a"/><stop offset="0.2" stop-color="#4c9e8b"/><stop offset="0.25" stop-color="#5dbf74"/><stop offset="0.49" stop-color="#b0db4b"/><stop offset="0.53" stop-color="#d8e845"/><stop offset="0.55" stop-color="#c4e247"/><stop offset="0.6" stop-color="#b5dd49"/><stop offset="0.71" stop-color="#9cd552"/><stop offset="0.76" stop-color="#73c865"/><stop offset="0.79" stop-color="#55b380"/><stop offset="0.81" stop-color="#49948d"/><stop offset="0.86" stop-color="#51ac86"/><stop offset="0.9" stop-color="#478e8e"/><stop offset="0.94" stop-color="#51ad86"/><stop offset="1" stop-color="#5abc78"/></linearGradient>
<linearGradient id="hg95"><stop offset="0" stop-color="#60c270"/><stop offset="0.07" stop-color="#59bb78"/><stop offset="0.09" stop-color="#4c9d8b"/><stop offset="0.11" stop-color="#437f91"/><stop offset="0.12" stop-color="#438191"/><stop offset="0.15" stop-color="#4ea589"/><stop offset="0.17" stop-color="#4ea489"/><stop offset="0.2" stop-color="#4b9a8c"/><stop offset="0.23" stop-color="#57b97b"/><stop offset="0.38" stop-color="#89ce5a"/><stop offset="0.49" stop-color="#afdb4b"/><stop offset="0.53" stop-color="#d8e845"/><stop offset="0.55" stop-color="#c9e446"/><stop offset="0.58" stop-color="#b7de49"/><stop offset="0.7" stop-color="#9ed551"/><stop offset="0.76" stop-color="#78ca62"/><stop offset="0.78" stop-color="#57b87c"/><stop offset="0.81" stop-color="#49968c"/><stop offset="0.83" stop-color="#4a988c"/><stop offset="0.86" stop-color="#51ac87"/><stop offset="0.89" stop-color="#478c8f"/><stop offset="0.94" stop-color="#51ac86"/><stop offset="1" stop-color="#5abc78"/></linearGradient>
<linearGradient id="hg96"><stop offset="0" stop-color="#60c271"/><stop offset="0.07" stop-color="#59bb79"/><stop offset="0.09" stop-color="#4b9c8b"/><stop offset="0.11" stop-color="#437e92"/><stop offset="0.12" stop-color="#438191"/><stop offset="0.15" stop-color="#4ea589"/><stop offset="0.17" stop-color="#4da28a"/><stop offset="0.2" stop-color="#4a988c"/><stop offset="0.25" stop-color="#5cbe75"/><stop offset="0.49" stop-color="#abda4d"/><stop offset="0.51" stop-color="#cbe446"/><stop offset="0.53" stop-color="#d7e745"/><stop offset="0.57" stop-color="#b8de49"/><stop offset="0.7" stop-color="#9cd553"/><stop offset="0.76" stop-color="#76c963"/><stop offset="0.78" stop-color="#57b77c"/><stop offset="0.81" stop-color="#49958d"/><stop offset="0.83" stop-color="#4a988c"/><stop offset="0.85" stop-color="#51ab87"/><stop offset="0.88" stop-color="#4a998c"/><stop offset="0.89" stop-color="#468a8f"/><stop offset="0.94" stop-color="#51ac87"/><stop offset="1" stop-color="#59bb78"/></linearGradient>
<linearGradient id="hg97"><stop offset="0" stop-color="#60c270"/><stop offset="0.07" stop-color="#59bb79"/><stop offset="0.09" stop-color="#4b9c8b"/><stop offset="0.11" stop-color="#438091"/><stop offset="0.12" stop-color="#448390"/><stop offset="0.15" stop-color="#4fa689"/><stop offset="0.17" stop-color="#4da28a"/><stop offset="0.2" stop-color="#4a978c"/><stop offset="0.25" stop-color="#5cbe75"/><stop offset="0.49" stop-color="#afdb4b"/><stop offset="0.53" stop-color="#d7e745"/><stop offset="0.55" stop-color="#c8e346"/><stop offset="0.58" stop-color="#b7de49"/><stop offset="0.7" stop-color="#9ed552"/><stop offset="0.76" stop-color="#77ca63"/><stop offset="0.78" stop-color="#5abc77"/><stop offset="0.8" stop-color="#4da08a"/><stop offset="0.82" stop-color="#49948d"/><stop offset="0.85" stop-color="#51ac86"/><stop offset="0.88" stop-color="#4a998c"/><stop offset="0.89" stop-color="#46888f"/><stop offset="0.94" stop-color="#51ac87"/><stop offset="1" stop-color="#5abc78"/></linearGradient>
<linearGradient id="hg98"><stop offset="0" stop-color="#60c270"/><stop offset="0.07" stop-color="#59bb79"/><stop offset="0.09" stop-color="#4b9c8b"/><stop offset="0.11" stop-color="#448291"/><stop offset="0.13" stop-color="#478c8f"/><stop offset="0.15" stop-color="#50a988"/><stop offset="0.18" stop-color="#4c9e8b"/><stop offset="0.2" stop-color="#49958d"/><stop offset="0.23" stop-color="#57b77c"/><stop offset="0.32" stop-color="#74c965"/><stop offset="0.49" stop-color="#afdb4b"/><stop offset="0.53" stop-color="#d8e845"/><stop offset="0.55" stop-color="#c9e446"/><stop offset="0.58" stop-color="#b7de49"/><stop offset="0.7" stop-color="#9ed552"/><stop offset="0.76" stop-color="#77ca63"/><stop offset="0.78" stop-color="#5abc77"/><stop offset="0.8" stop-color="#4b9c8b"/><stop offset="0.82" stop-color="#4a998c"/><stop offset="0.85" stop-color="#51ad86"/><stop offset="0.88" stop-color="#4a998c"/><stop offset="0.89" stop-color="#458790"/><stop offset="0.91" stop-color="#4a988c"/><stop offset="0.95" stop-color="#52ae85"/><stop offset="1" stop-color="#5abc78"/></linearGradient>
<linearGradient id="hg99"><stop offset="0" stop-color="#60c270"/><stop offset="0.07" stop-color="#59bb79"/><stop offset="0.09" stop-color="#4c9d8b"/><stop offset="0.11" stop-color="#448590"/><stop offset="0.13" stop-color="#478f8e"/><stop offset="0.15" stop-color="#50a988"/><stop offset="0.18" stop-color="#4c9e8b"/><stop offset="0.2" stop-color="#49938d"/><stop offset="0.23" stop-color="#54b381"/><stop offset="0.28" stop-color="#62c46e"/><stop offset="0.49" stop-color="#afdb4b"/><stop offset="0.53" stop-color="#d7e745"/><stop offset="0.55" stop-color="#c8e346"/><stop offset="0.58" stop-color="#b6dd49"/><stop offset="0.7" stop-color="#9ed552"/><stop offset="0.76" stop-color="#77ca63"/><stop offset="0.78" stop-color="#5bbd77"/><stop offset="0.8" stop-color="#4c9e8b"/><stop offset="0.83" stop-color="#4c9e8b"/><stop offset="0.86" stop-color="#51ad85"/><stop offset="0.9" stop-color="#458690"/><stop offset="0.94" stop-color="#50ab87"/><stop offset="1" stop-color="#5abc78"/></linearGradient>
<linearGradient id="hg100"><stop offset="0" stop-color="#60c270"/><stop offset="0.07" stop-color="#59bb79"/><stop offset="0.1" stop-color="#4a998c"/><stop offset="0.11" stop-color="#458790"/><stop offset="0.15" stop-color="#50aa88"/><stop offset="0.18" stop-color="#4c9f8a"/><stop offset="0.2" stop-color="#49938d"/><stop offset="0.23" stop-color="#56b67e"/><stop offset="0.3" stop-color="#6cc769"/><stop offset="0.49" stop-color="#afdb4b"/><stop offset="0.53" stop-color="#d7e745"/><stop offset="0.55" stop-color="#c8e346"/><stop offset="0.58" stop-color="#b7de49"/><stop offset="0.7" stop-color="#9ed552"/><stop offset="0.76" stop-color="#77ca63"/><stop offset="0.78" stop-color="#57b97b"/><stop offset="0.8" stop-color="#4da08a"/><stop offset="0.83" stop-color="#4da18a"/><stop offset="0.86" stop-color="#52ae85"/><stop offset="0.89" stop-color="#478f8e"/><stop offset="0.9" stop-color="#458790"/><stop offset="0.94" stop-color="#50ab87"/><stop offset="1" stop-color="#5abc78"/></linearGradient>
<linearGradient id="hg101"><stop offset="0" stop-color="#60c270"/><stop offset="0.07" stop-color="#58b97b"/><stop offset="0.11" stop-color="#468c8f"/><stop offset="0.13" stop-color="#49948d"/><stop offset="0.15" stop-color="#50ab88"/><stop offset="0.18" stop-color="#4da18a"/><stop offset="0.2" stop-color="#49958d"/><stop offset="0.23" stop-color="#54b281"/><stop offset="0.27" stop-color="#61c36f"/><stop offset="0.49" stop-color="#afdb4b"/><stop offset="0.53" stop-color="#d8e845"/><stop offset="0.55" stop-color="#c9e446"/><stop offset="0.58" stop-color="#b7de49"/><stop offset="0.7" stop-color="#9fd651"/><stop offset="0.76" stop-color="#78ca62"/><stop offset="0.78" stop-color="#58ba7a"/><stop offset="0.81" stop-color="#4da08a"/><stop offset="0.86" stop-color="#52ad85"/><stop offset="0.9" stop-color="#45888f"/><stop offset="0.94" stop-color="#51ac86"/><stop offset="1" stop-color="#5abc78"/></linearGradient>
<linearGradient id="hg102"><stop offset="0" stop-color="#60c270"/><stop offset="0.07" stop-color="#58ba7a"/><stop offset="0.11" stop-color="#48928d"/><stop offset="0.12" stop-color="#48908e"/><stop offset="0.15" stop-color="#50ab87"/><stop offset="0.18" stop-color="#4c9f8a"/><stop offset="0.2" stop-color="#4a998c"/><stop offset="0.23" stop-color="#56b67e"/><stop offset="0.3" stop-color="#6bc669"/><stop offset="0.49" stop-color="#b3dc4a"/><stop offset="0.53" stop-color="#d8e845"/><stop offset="0.55" stop-color="#c9e446"/><stop offset="0.58" stop-color="#b7de49"/><stop offset="0.7" stop-color="#9fd651"/><stop offset="0.76" stop-color="#73c965"/><stop offset="0.79" stop-color="#56b77d"/><stop offset="0.81" stop-color="#4da18a"/><stop offset="0.86" stop-color="#53af84"/><stop offset="0.9" stop-color="#468a8f"/><stop offset="0.95" stop-color="#52ae85"/><stop offset="1" stop-color="#5abc78"/></linearGradient>
<linearGradient id="hg103"><stop offset="0" stop-color="#60c270"/><stop offset="0.07" stop-color="#58ba7a"/><stop offset="0.11" stop-color="#48928d"/><stop offset="0.12" stop-color="#488f8e"/><stop offset="0.16" stop-color="#51ab87"/><stop offset="0.2" stop-color="#4b9a8b"/><stop offset="0.24" stop-color="#58b97b"/><stop offset="0.39" stop-color="#8ccf58"/><stop offset="0.49" stop-color="#b2dc4a"/><stop offset="0.53" stop-color="#d8e845"/><stop offset="0.55" stop-color="#c9e446"/><stop offset="0.58" stop-color="#b7de49"/><stop offset="0.7" stop-color="#9ed552"/><stop offset="0.76" stop-color="#73c865"/><stop offset="0.79" stop-color="#57b77d"/><stop offset="0.81" stop-color="#4da18a"/><stop offset="0.86" stop-color="#52ae85"/><stop offset="0.9" stop-color="#478d8e"/><stop offset="0.95" stop-color="#52ae85"/><stop offset="1" stop-color="#5abc78"/></linearGradient>
<linearGradient id="hg104"><stop offset="0" stop-color="#60c270"/><stop offset="0.07" stop-color="#58ba7a"/><stop offset="0.11" stop-color="#478c8e"/><stop offset="0.13" stop-color="#48918e"/><stop offset="0.16" stop-color="#50ab87"/><stop offset="0.2" stop-color="#4c9d8b"/><stop offset="0.25" stop-color="#5dbf74"/><stop offset="0.49" stop-color="#aedb4b"/><stop offset="0.53" stop-color="#d7e745"/><stop offset="0.55" stop-color="#c8e346"/><stop offset="0.58" stop-color="#b6dd49"/><stop offset="0.7" stop-color="#9ed552"/><stop offset="0.76" stop-color="#73c865"/><stop offset="0.79" stop-color="#56b77d"/><stop offset="0.81" stop-color="#4c9f8a"/><stop offset="0.86" stop-color="#52ad85"/><stop offset="0.9" stop-color="#48908e"/><stop offset="0.95" stop-color="#53af84"/><stop offset="1" stop-color="#5abc78"/></linearGradient>
<linearGradient id="hg105"><stop offset="0" stop-color="#60c270"/><stop offset="0.07" stop-color="#58ba7a"/><stop offset="0.1" stop-color="#49968c"/><stop offset="0.12" stop-color="#458790"/><stop offset="0.16" stop-color="#50ab88"/><stop offset="0.2" stop-color="#4c9f8a"/><stop offset="0.25" stop-color="#5dbf74"/><stop offset="0.49" stop-color="#afdb4b"/><stop offset="0.53" stop-color="#d7e745"/><stop offset="0.55" stop-color="#c8e346"/><stop offset="0.58" stop-color="#b6dd49"/><stop offset="0.7" stop-color="#9ed552"/><stop offset="0.76" stop-color="#73c865"/><stop offset="0.79" stop-color="#56b77d"/><stop offset="0.81" stop-color="#4c9d8b"/><stop offset="0.86" stop-color="#51ad85"/><stop offset="0.9" stop-color="#48928d"/><stop offset="0.95" stop-color="#53af83"/><stop offset="1" stop-color="#5abc78"/></linearGradient>
<linearGradient id="hg106"><stop offset="0" stop-color="#60c270"/><stop offset="0.07" stop-color="#58ba7a"/><stop offset="0.1" stop-color="#4b9b8b"/><stop offset="0.11" stop-color="#448490"/><stop offset="0.13" stop-color="#48908e"/><stop offset="0.16" stop-color="#50aa88"/><stop offset="0.2" stop-color="#4da08a"/><stop offset="0.25" stop-color="#5dbf74"/><stop offset="0.49" stop-color="#aedb4b"/><stop offset="0.53" stop-color="#d7e745"/><stop offset="0.55" stop-color="#c8e346"/><stop offset="0.58" stop-color="#b6dd49"/><stop offset="0.7" stop-color="#9ed552"/><stop offset="0.76" stop-color="#73c865"/><stop offset="0.79" stop-color="#56b67e"/><stop offset="0.81" stop-color="#4b9a8c"/><stop offset="0.86" stop-color="#51ac86"/><stop offset="0.9" stop-color="#49948d"/><stop offset="0.95" stop-color="#53af83"/><stop offset="1" stop-color="#5abc78"/></linearGradient>
<linearGradient id="hg107"><stop offset="0" stop-color="#60c271"/><stop offset="0.07" stop-color="#58b97b"/><stop offset="0.1" stop-color="#4a998c"/><stop offset="0.11" stop-color="#438091"/><stop offset="0.13" stop-color="#478d8e"/><stop offset="0.16" stop-color="#50a988"/><stop offset="0.2" stop-color="#4da18a"/><stop offset="0.25" stop-color="#5dbf74"/><stop offset="0.49" stop-color="#aedb4c"/><stop offset="0.53" stop-color="#d7e745"/><stop offset="0.55" stop-color="#c8e346"/><stop offset="0.58" stop-color="#b6dd49"/><stop offset="0.7" stop-color="#9bd453"/><stop offset="0.76" stop-color="#72c866"/><stop offset="0.79" stop-color="#53af83"/><stop offset="0.82" stop-color="#49958d"/><stop offset="0.86" stop-color="#51ac86"/><stop offset="0.9" stop-color="#49948d"/><stop offset="0.95" stop-color="#52ae85"/><stop offset="1" stop-color="#59bb79"/></linearGradient>
<linearGradient id="hg108"><stop offset="0" stop-color="#60c271"/><stop offset="0.07" stop-color="#57b97b"/><stop offset="0.1" stop-color="#4a988c"/><stop offset="0.11" stop-color="#437e92"/><stop offset="0.13" stop-color="#468b8f"/><stop offset="0.15" stop-color="#4fa689"/><stop offset="0.18" stop-color="#4ea489"/><stop offset="0.2" stop-color="#4da08a"/><stop offset="0.25" stop-color="#5dbf74"/><stop offset="0.49" stop-color="#aad94d"/><stop offset="0.51" stop-color="#cbe446"/><stop offset="0.53" stop-color="#d7e745"/><stop offset="0.57" stop-color="#b7de49"/><stop offset="0.7" stop-color="#9bd453"/><stop offset="0.76" stop-color="#71c866"/><stop offset="0.79" stop-color="#55b47f"/><stop offset="0.81" stop-color="#49958d"/><stop offset="0.83" stop-color="#4c9e8b"/><stop offset="0.86" stop-color="#50ab87"/><stop offset="0.9" stop-color="#49938d"/><stop offset="0.94" stop-color="#51ac86"/><stop offset="1" stop-color="#59bb79"/></linearGradient>
<linearGradient id="hg109"><stop offset="0" stop-color="#60c271"/><stop offset="0.07" stop-color="#58b97b"/><stop offset="0.1" stop-color="#4a988c"/><stop offset="0.11" stop-color="#437e92"/><stop offset="0.13" stop-color="#478c8f"/><stop offset="0.15" stop-color="#4fa789"/><stop offset="0.18" stop-color="#4ea389"/><stop offset="0.2" stop-color="#4da08a"/><stop offset="0.25" stop-color="#5dbf74"/><stop offset="0.49" stop-color="#aedb4c"/><stop offset="0.53" stop-color="#d7e745"/><stop offset="0.55" stop-color="#c8e346"/><stop offset="0.58" stop-color="#b6dd49"/><stop offset="0.7" stop-color="#9cd552"/><stop offset="0.76" stop-color="#72c866"/><stop offset="0.79" stop-color="#55b47f"/><stop offset="0.81" stop-color="#49958d"/><stop offset="0.83" stop-color="#4c9f8a"/><stop offset="0.86" stop-color="#50ab87"/><stop offset="0.9" stop-color="#48938d"/><stop offset="0.94" stop-color="#51ad86"/><stop offset="1" stop-color="#59bb78"/></linearGradient>
<linearGradient id="hg110"><stop offset="0" stop-color="#60c270"/><stop offset="0.07" stop-color="#58ba7a"/><stop offset="0.1" stop-color="#4a988c"/><stop offset="0.11" stop-color="#438091"/><stop offset="0.13" stop-color="#478f8e"/><stop offset="0.15" stop-color="#4fa888"/><stop offset="0.18" stop-color="#4ea38a"/><stop offset="0.2" stop-color="#4c9f8b"/><stop offset="0.25" stop-color="#5cbe75"/><stop offset="0.49" stop-color="#afdb4b"/><stop offset="0.53" stop-color="#d8e845"/><stop offset="0.55" stop-color="#c9e446"/><stop offset="0.58" stop-color="#b7de49"/><stop offset="0.7" stop-color="#9fd651"/><stop offset="0.76" stop-color="#73c865"/><stop offset="0.79" stop-color="#55b47f"/><stop offset="0.81" stop-color="#4a978c"/><stop offset="0.86" stop-color="#51ac86"/><stop offset="0.9" stop-color="#48918d"/><stop offset="0.94" stop-color="#52ad85"/><stop offset="1" stop-color="#5abc78"/></linearGradient>
<linearGradient id="hg111"><stop offset="0" stop-color="#60c270"/><stop offset="0.07" stop-color="#58b97b"/><stop offset="0.1" stop-color="#4a998c"/><stop offset="0.11" stop-color="#448391"/><stop offset="0.13" stop-color="#48928d"/><stop offset="0.16" stop-color="#50aa88"/><stop offset="0.2" stop-color="#4b9a8c"/><stop offset="0.23" stop-color="#57b87c"/><stop offset="0.34" stop-color="#7bcb61"/><stop offset="0.49" stop-color="#b0db4b"/><stop offset="0.53" stop-color="#d8e845"/><stop offset="0.55" stop-color="#c9e446"/><stop offset="0.58" stop-color="#b7de49"/><stop offset="0.7" stop-color="#9fd651"/><stop offset="0.76" stop-color="#78ca62"/><stop offset="0.78" stop-color="#58ba7a"/><stop offset="0.8" stop-color="#4c9f8b"/><stop offset="0.83" stop-color="#4b9c8b"/><stop offset="0.86" stop-color="#52ad85"/><stop offset="0.9" stop-color="#478e8e"/><stop offset="0.94" stop-color="#52ad85"/><stop offset="1" stop-color="#5abc78"/></linearGradient>
<linearGradient id="hg112"><stop offset="0" stop-color="#60c270"/><stop offset="0.07" stop-color="#57b97b"/><stop offset="0.11" stop-color="#458790"/><stop offset="0.13" stop-color="#478f8e"/><stop offset="0.15" stop-color="#50a988"/><stop offset="0.18" stop-color="#4da08a"/><stop offset="0.2" stop-color="#49968c"/><stop offset="0.23" stop-color="#54b380"/><stop offset="0.28" stop-color="#63c46d"/><stop offset="0.49" stop-color="#afdb4b"/><stop offset="0.53" stop-color="#d7e745"/><stop offset="0.55" stop-color="#c8e346"/><stop offset="0.58" stop-color="#b7de49"/><stop offset="0.7" stop-color="#9ed552"/><stop offset="0.76" stop-color="#78ca63"/><stop offset="0.78" stop-color="#58b97b"/><stop offset="0.8" stop-color="#4da08a"/><stop offset="0.83" stop-color="#4c9f8b"/><stop offset="0.86" stop-color="#52ad85"/><stop offset="0.9" stop-color="#468a8f"/><stop offset="0.94" stop-color="#51ac86"/><stop offset="1" stop-color="#5abc78"/></linearGradient>
<linearGradient id="hg113"><stop offset="0" stop-color="#60c270"/><stop offset="0.07" stop-color="#59bb79"/><stop offset="0.1" stop-color="#4a988c"/><stop offset="0.11" stop-color="#458890"/><stop offset="0.15" stop-color="#50aa88"/><stop offset="0.18" stop-color="#4c9e8b"/><stop offset="0.2" stop-color="#48928d"/><stop offset="0.23" stop-color="#56b57e"/><stop offset="0.3" stop-color="#6ac66a"/><stop offset="0.49" stop-color="#afdb4b"/><stop offset="0.53" stop-color="#d7e745"/><stop offset="0.55" stop-color="#c8e346"/><stop offset="0.58" stop-color="#b7de49"/><stop offset="0.7" stop-color="#9ed552"/><stop offset="0.76" stop-color="#77ca63"/><stop offset="0.78" stop-color="#5bbd76"/><stop offset="0.8" stop-color="#4da18a"/><stop offset="0.83" stop-color="#4da18a"/><stop offset="0.86" stop-color="#52ae85"/><stop offset="0.89" stop-color="#478f8e"/><stop offset="0.9" stop-color="#458790"/><stop offset="0.94" stop-color="#50ab87"/><stop offset="1" stop-color="#5abc78"/></linearGradient>
<linearGradient id="hg114"><stop offset="0" stop-color="#60c270"/><stop offset="0.07" stop-color="#59bb79"/><stop offset="0.11" stop-color="#478d8e"/><stop offset="0.12" stop-color="#48908e"/><stop offset="0.15" stop-color="#50ab87"/><stop offset="0.18" stop-color="#4c9d8b"/><stop offset="0.2" stop-color="#478e8e"/><stop offset="0.23" stop-color="#55b57e"/><stop offset="0.29" stop-color="#67c56b"/><stop offset="0.49" stop-color="#b3dc4a"/><stop offset="0.53" stop-color="#d8e845"/><stop offset="0.55" stop-color="#c9e446"/><stop offset="0.58" stop-color="#b7de49"/><stop offset="0.7" stop-color="#9fd651"/><stop offset="0.76" stop-color="#78ca63"/><stop offset="0.78" stop-color="#5bbd77"/><stop offset="0.8" stop-color="#4da18a"/><stop offset="0.83" stop-color="#4ea38a"/><stop offset="0.86" stop-color="#52ae84"/><stop offset="0.88" stop-color="#49938d"/><stop offset="0.9" stop-color="#448291"/><stop offset="0.94" stop-color="#50ab87"/><stop offset="1" stop-color="#5abc78"/></linearGradient>
<linearGradient id="hg115"><stop offset="0" stop-color="#61c370"/><stop offset="0.07" stop-color="#59bb79"/><stop offset="0.1" stop-color="#48918e"/><stop offset="0.12" stop-color="#478d8e"/><stop offset="0.15" stop-color="#50aa88"/><stop offset="0.17" stop-color="#4da08a"/><stop offset="0.2" stop-color="#468b8f"/><stop offset="0.23" stop-color="#55b57f"/><stop offset="0.29" stop-color="#66c56c"/><stop offset="0.49" stop-color="#b3dc4a"/><stop offset="0.53" stop-color="#d8e845"/><stop offset="0.55" stop-color="#c5e247"/><stop offset="0.6" stop-color="#b5dd49"/><stop offset="0.71" stop-color="#9cd552"/><stop offset="0.76" stop-color="#78ca63"/><stop offset="0.78" stop-color="#5abc77"/><stop offset="0.8" stop-color="#4da18a"/><stop offset="0.83" stop-color="#4ea489"/><stop offset="0.86" stop-color="#52af84"/><stop offset="0.88" stop-color="#48918d"/><stop offset="0.9" stop-color="#438091"/><stop offset="0.94" stop-color="#50ab87"/><stop offset="1" stop-color="#5abc78"/></linearGradient>
<linearGradient id="hg116"><stop offset="0" stop-color="#60c270"/><stop offset="0.07" stop-color="#58ba7a"/><stop offset="0.1" stop-color="#478f8e"/><stop offset="0.12" stop-color="#478c8f"/><stop offset="0.15" stop-color="#50aa88"/><stop offset="0.17" stop-color="#4c9f8b"/><stop offset="0.2" stop-color="#46898f"/><stop offset="0.21" stop-color="#4a978c"/><stop offset="0.24" stop-color="#59bb79"/><stop offset="0.43" stop-color="#99d454"/><stop offset="0.5" stop-color="#badf49"/><stop offset="0.53" stop-color="#d8e845"/><stop offset="0.55" stop-color="#c9e446"/><stop offset="0.58" stop-color="#b8de49"/><stop offset="0.7" stop-color="#9fd651"/><stop offset="0.76" stop-color="#77ca63"/><stop offset="0.78" stop-color="#5abc78"/><stop offset="0.8" stop-color="#4c9f8a"/><stop offset="0.83" stop-color="#4ea489"/><stop offset="0.85" stop-color="#53af83"/><stop offset="0.87" stop-color="#4c9e8b"/><stop offset="0.89" stop-color="#437e92"/><stop offset="0.91" stop-color="#46888f"/><stop offset="0.94" stop-color="#4fa888"/><stop offset="1" stop-color="#5abc78"/></linearGradient>
<linearGradient id="hg117"><stop offset="0" stop-color="#60c270"/><stop offset="0.07" stop-color="#58ba7a"/><stop offset="0.11" stop-color="#46898f"/><stop offset="0.12" stop-color="#48908e"/><stop offset="0.15" stop-color="#50a988"/><stop offset="0.17" stop-color="#4c9d8b"/><stop offset="0.2" stop-color="#458790"/><stop offset="0.21" stop-color="#49968d"/><stop offset="0.24" stop-color="#59bb79"/><stop offset="0.43" stop-color="#98d354"/><stop offset="0.5" stop-color="#b5dd49"/><stop offset="0.53" stop-color="#d7e745"/><stop offset="0.55" stop-color="#c8e346"/><stop offset="0.58" stop-color="#b6dd49"/><stop offset="0.7" stop-color="#9ed552"/><stop offset="0.76" stop-color="#76c964"/><stop offset="0.78" stop-color="#59bb79"/><stop offset="0.8" stop-color="#4da18a"/><stop offset="0.82" stop-color="#4da08a"/><stop offset="0.85" stop-color="#52af84"/><stop offset="0.87" stop-color="#4b9c8b"/><stop offset="0.89" stop-color="#427c92"/><stop offset="0.91" stop-color="#458790"/><stop offset="0.94" stop-color="#4fa889"/><stop offset="1" stop-color="#5abc78"/></linearGradient>
</defs>
<rect width="685" height="970" fill="#fff"/>
<g fill="#111">
<text x="7" y="43" class="lab">a</text>
<rect x="26.5" y="110" width="49.0" height="30" fill="url(#gold)"/>
<rect x="26.5" y="140" width="49.0" height="23.6" fill="#bee6ee"/>
<rect x="26.5" y="163.6" width="49.0" height="25.8" fill="#e84f7a"/>
<rect x="26.5" y="189.4" width="49.0" height="29.6" fill="#e6c8e2"/>
<rect x="26.5" y="219" width="49.0" height="26.6" fill="#bab4a2"/>
<rect x="26.5" y="110" width="49.0" height="135.6" fill="none" stroke="#e98f3c" stroke-width="1.2" stroke-dasharray="3 2"/>
<text x="27.4" y="269" font-size="14.8">Si/SiO<tspan font-size="10" dy="3">2</tspan><tspan dy="-3">/Gr/a-C/Au</tspan></text>
<path d="M141 243 L141 249 Q143 252.2 149 252.2 L430 252.2 Q437.5 251.5 438.5 244 L437 238 Z" fill="url(#sideg)"/>
<path d="M190 113.6 L388 113.6 Q393 113.6 395 118 L437 236 Q439 245 430 245 L148 245 Q140 245 141.5 238 L184 119 Q186 113.6 190 113.6 Z" fill="url(#subg)"/>
<path d="M184 119 L141.5 238 Q140 245 148 245 L175 245 L200 119 Z" fill="url(#hlg)" opacity="0.55"/>
<path d="M395 118 L437 236 Q439 245 430 245 L418 245 L378 119 Z" fill="url(#hlg2)" opacity="0.6"/>
<polygon points="172,208 405,208 406,211 172,211" fill="#c2bbe9"/>
<polygon points="198,119 380,119 405,208 172,208" fill="#d2e6ef"/>
<polygon points="199,209.4 229.4,209.4 227,228.2 195.6,228.2" fill="#eeaacb"/>
<polygon points="195.9,225.9 226.9,225.9 227,228.2 195.6,228.2" fill="#d470b2"/>
<polygon points="248.8,209.4 278.7,209.4 278,228.2 247,228.2" fill="#eeaacb"/>
<polygon points="247.3,225.9 277.9,225.9 278,228.2 247,228.2" fill="#d470b2"/>
<polygon points="299,209.4 329.4,209.4 330,228.2 299.5,228.2" fill="#eeaacb"/>
<polygon points="299.8,225.9 329.9,225.9 330,228.2 299.5,228.2" fill="#d470b2"/>
<polygon points="348.4,209.4 378,209.4 382,228.2 350.6,228.2" fill="#eeaacb"/>
<polygon points="350.9,225.9 381.9,225.9 382,228.2 350.6,228.2" fill="#d470b2"/>
<polygon points="223,108 239,108 225,196 206,196" fill="#d2c77c"/>
<polygon points="239,108 240.2,109 226,195 225,196" fill="#bfb46a"/>
<polygon points="206,189.5 225,189.5 225,196 206,196" fill="#ddd48e"/>
<line x1="207" y1="190.3" x2="224" y2="190.3" stroke="#eaa563" stroke-width="0.8"/>
<polygon points="261.7,108 277,108 274.2,196 254.8,196" fill="#d2c77c"/>
<polygon points="277,108 278.2,109 275.2,195 274.2,196" fill="#bfb46a"/>
<polygon points="254.8,189.5 274.2,189.5 274.2,196 254.8,196" fill="#ddd48e"/>
<line x1="255.8" y1="190.3" x2="273.2" y2="190.3" stroke="#eaa563" stroke-width="0.8"/>
<polygon points="299.6,108 315.6,108 322.6,196.6 303,196.6" fill="#d2c77c"/>
<polygon points="315.6,108 316.8,109 323.6,195.6 322.6,196.6" fill="#bfb46a"/>
<polygon points="303,189.5 322.6,189.5 322.6,196.6 303,196.6" fill="#ddd48e"/>
<line x1="304" y1="190.3" x2="321.6" y2="190.3" stroke="#eaa563" stroke-width="0.8"/>
<polygon points="338,108 354,108 371.4,196.6 351.6,196.6" fill="#d2c77c"/>
<polygon points="354,108 355.2,109 372.4,195.6 371.4,196.6" fill="#bfb46a"/>
<polygon points="351.6,189.5 371.4,189.5 371.4,196.6 351.6,196.6" fill="#ddd48e"/>
<line x1="352.6" y1="190.3" x2="370.4" y2="190.3" stroke="#eaa563" stroke-width="0.8"/>
<line x1="263.1" y1="197" x2="263.1" y2="206" stroke="#3aa046" stroke-width="1.2"/>
<polygon points="260.6,205 265.6,205 263.1,211" fill="#3aa046"/>
<line x1="312.6" y1="197" x2="312.6" y2="206" stroke="#3548b0" stroke-width="1.2"/>
<polygon points="310.1,205 315.1,205 312.6,211" fill="#3548b0"/>
<line x1="362" y1="197" x2="362" y2="206" stroke="#7448c0" stroke-width="1.2"/>
<polygon points="359.5,205 364.5,205 362,211" fill="#7448c0"/>
<rect x="209" y="182" width="11.6" height="65" fill="none" stroke="#e98f3c" stroke-width="1.1" stroke-dasharray="2.5 2"/>
<path d="M347.6 127 L347.6 76.6 L405 76.6 M409.5 76.6 L440.4 76.6 L440.4 229.5 M440.4 235 L440.4 257 L401 257 L401 248" stroke="#111" stroke-width="1.4" fill="none"/>
<path d="M365 218 L440.4 218" stroke="#111" stroke-width="1.4" fill="none"/>
<line x1="405.6" y1="71.4" x2="405.6" y2="81.8" stroke="#111" stroke-width="1.5"/>
<line x1="409" y1="73.8" x2="409" y2="79.4" stroke="#111" stroke-width="1.5"/>
<line x1="435.4" y1="230.8" x2="445.6" y2="230.8" stroke="#111" stroke-width="1.5"/>
<line x1="437" y1="233.8" x2="444" y2="233.8" stroke="#111" stroke-width="1.5"/>
<circle cx="347.6" cy="127" r="1.6" fill="#111"/>
<circle cx="365" cy="218" r="1.6" fill="#111"/>
<circle cx="401" cy="248" r="1.6" fill="#111"/>
<text x="144" y="89" font-size="12.3">Au electode</text>
<text x="144" y="136" font-size="12.3">a-C</text>
<text x="120.2" y="187" font-size="12.3">Graphene</text>
<text x="150.6" y="239.4" font-size="12">SiO<tspan font-size="8" dy="2.5">2</tspan><tspan dy="-2.5">/Si</tspan></text>
<text x="402" y="96" font-size="12.3">V<tspan font-size="8.5" dy="2.5">b</tspan></text>
<text x="415.6" y="236" font-size="12.3">V<tspan font-size="8.5" dy="2.5">g</tspan></text>
<line x1="174" y1="96" x2="230" y2="121" stroke="#111" stroke-width="1"/>
<line x1="157" y1="141" x2="200" y2="162" stroke="#111" stroke-width="1"/>
<line x1="150.6" y1="191" x2="206" y2="218" stroke="#111" stroke-width="1"/>
<line x1="75.6" y1="110" x2="209" y2="182" stroke="#8a8a8a" stroke-width="0.7"/>
<text x="481" y="20.6" class="lab">b</text>
<clipPath id="cb"><rect x="499.6" y="1" width="170.4" height="155.4" rx="1.5"/></clipPath>
<g clip-path="url(#cb)">
<rect x="499.6" y="1" width="170.4" height="155.4" fill="#7d82ae"/>
<polygon points="499.6,5.6 670,14.4 670,40 499.6,30" fill="#868cb4" opacity="0.8"/>
<polygon points="499.6,0 670,0 670,14.4 499.6,5.6" fill="#b39ba8"/>
<rect x="499.6" y="102.4" width="170.4" height="54" fill="#a99aa8"/>
<polygon points="499.6,132 545,118 545,128 499.6,146" fill="#9a86aa" opacity="0.8"/>
<polygon points="499.6,104 545,104 545,116 499.6,128" fill="#b6a2ae" opacity="0.7"/>
<polygon points="640,102.4 670,102.4 670,156.4 636,156.4" fill="#b3a0ae"/>
<polygon points="559.5,33 637.5,33 635.7,42.5 645.4,45 649.7,68.8 649.7,89.8 646.2,102.4 640,157 542,157 548,102.4" fill="#7767a8"/>
<polygon points="548,102.4 646.2,102.4 640,157 542,157" fill="#a77298"/>
<polygon points="547,108 645,104 644,116 546,122" fill="#b07ca0" opacity="0.7"/>
<polygon points="545,128 643,124 642,134 544,140" fill="#9c6c9c" opacity="0.6"/>
<polygon points="571.8,33 577,33 571.63,102.4 565.92,102.4" fill="#8a90b8"/>
<polygon points="565.92,102.4 571.63,102.4 567.4,157 561.3,157" fill="#b39cb0"/>
<polygon points="592,33 597.2,33 593.73,102.4 588.08,102.4" fill="#8a90b8"/>
<polygon points="588.08,102.4 593.73,102.4 591,157 585,157" fill="#b39cb0"/>
<polygon points="610.3,33 616.5,33 614.54,102.4 608.34,102.4" fill="#8a90b8"/>
<polygon points="608.34,102.4 614.54,102.4 613,157 606.8,157" fill="#b39cb0"/>
<path d="M499.6 8 L508 37 L536 41 L556 59 L557.8 84.6" stroke="#f4f0f4" stroke-width="7.8" fill="none" stroke-dasharray="2.6 1.8" stroke-linejoin="round"/>
<path d="M555 0 L564.7 8.5 L580 18 L585.5 24.7 L584.8 61" stroke="#f4f0f4" stroke-width="7.6" fill="none" stroke-dasharray="2.6 1.8" stroke-linejoin="round"/>
<path d="M627 0 L610 11.4 L604.5 17 L600.8 28.5 L601.5 51" stroke="#f4f0f4" stroke-width="6.3999999999999995" fill="none" stroke-dasharray="2.6 1.8" stroke-linejoin="round"/>
<path d="M648 0 L629 28.5 L625.6 34 L625.6 45" stroke="#f4f0f4" stroke-width="7.8" fill="none" stroke-dasharray="2.6 1.8" stroke-linejoin="round"/>
<polygon points="499.6,6 509,36 505,42 499.6,48" fill="#d6b28c"/>
<path d="M499.6 8 L508 37 L536 41 L556 59 L557.8 84.6" stroke="#d6b28c" stroke-width="6" fill="none" stroke-linejoin="round"/>
<path d="M555 0 L564.7 8.5 L580 18 L585.5 24.7 L584.8 61" stroke="#d6b28c" stroke-width="5.8" fill="none" stroke-linejoin="round"/>
<path d="M627 0 L610 11.4 L604.5 17 L600.8 28.5 L601.5 51" stroke="#d6b28c" stroke-width="4.6" fill="none" stroke-linejoin="round"/>
<path d="M648 0 L629 28.5 L625.6 34 L625.6 45" stroke="#d6b28c" stroke-width="6" fill="none" stroke-linejoin="round"/>
<polygon points="641,69.7 670,67 670,85 642.7,87.2" fill="#d6b28c"/>
<line x1="571" y1="4" x2="575" y2="0" stroke="#c8f0c0" stroke-width="2.5"/>
<polygon points="537.6,142.4 559.5,142.4 559.5,157 537.6,157" fill="#f1c48e"/>
<polygon points="577.9,124.9 585,124.9 581.4,157 572.7,157" fill="#f1c48e"/>
<polygon points="596.3,118.7 605,118.7 603.3,157 594.6,157" fill="#f1c48e"/>
<polygon points="620,116.1 627.9,116.1 627,157 619,157" fill="#f1c48e"/>
<polyline points="499.6,5.6 670,14.4" fill="none" stroke="#f4f0f4" stroke-width="0.9" stroke-dasharray="2.6 1.8"/>
<polyline points="499.6,102.4 670,102.4" fill="none" stroke="#f4f0f4" stroke-width="0.9" stroke-dasharray="2.6 1.8"/>
<polygon points="559.5,33 637.5,33 635.7,42.5 645.4,45 649.7,68.8 649.7,89.8 646.2,102.4 640,157 542,157 548,102.4" fill="none" stroke="#f4f0f4" stroke-width="0.9" stroke-dasharray="2.6 1.8"/>
<polyline points="571.8,33 561.3,157" fill="none" stroke="#f4f0f4" stroke-width="0.9" stroke-dasharray="2.6 1.8"/>
<polyline points="577,33 567.4,157" fill="none" stroke="#f4f0f4" stroke-width="0.9" stroke-dasharray="2.6 1.8"/>
<polyline points="592,33 585,157" fill="none" stroke="#f4f0f4" stroke-width="0.9" stroke-dasharray="2.6 1.8"/>
<polyline points="597.2,33 591,157" fill="none" stroke="#f4f0f4" stroke-width="0.9" stroke-dasharray="2.6 1.8"/>
<polyline points="610.3,33 606.8,157" fill="none" stroke="#f4f0f4" stroke-width="0.9" stroke-dasharray="2.6 1.8"/>
<polyline points="616.5,33 613,157" fill="none" stroke="#f4f0f4" stroke-width="0.9" stroke-dasharray="2.6 1.8"/>
<polygon points="537.6,142.4 559.5,142.4 559.5,157 537.6,157" fill="none" stroke="#f4f0f4" stroke-width="0.9" stroke-dasharray="2.6 1.8"/>
<polygon points="577.9,124.9 585,124.9 581.4,157 572.7,157" fill="none" stroke="#f4f0f4" stroke-width="0.9" stroke-dasharray="2.6 1.8"/>
<polygon points="596.3,118.7 605,118.7 603.3,157 594.6,157" fill="none" stroke="#f4f0f4" stroke-width="0.9" stroke-dasharray="2.6 1.8"/>
<polygon points="620,116.1 627.9,116.1 627,157 619,157" fill="none" stroke="#f4f0f4" stroke-width="0.9" stroke-dasharray="2.6 1.8"/>
<polygon points="641,69.7 670,67 670,85 642.7,87.2" fill="none" stroke="#f4f0f4" stroke-width="0.9" stroke-dasharray="2.6 1.8"/>
</g>
<text x="502" y="94" font-size="12" fill="#fff">a-C</text>
<text x="501" y="130" font-size="11.8" fill="#fff">Graphene</text>
<text x="652" y="83" font-size="11.5" fill="#fff">Au</text>
<line x1="531" y1="119" x2="548" y2="110.5" stroke="#fff" stroke-width="1"/>
<polygon points="551,109 545.5,110 547.5,113.5" fill="#fff"/>
<rect x="649" y="148" width="17" height="2.4" fill="#fff"/>
<text x="482.4" y="186" class="lab">c</text>
<path d="M526.85 273.18 C528.03 273.03 531.57 272.72 533.93 272.26 C536.28 271.8 538.64 271.65 541 270.42 C543.36 269.19 545.48 266.5 548.08 264.88 C550.67 263.27 553.03 262.19 556.57 260.74 C560.1 259.28 564.82 257.82 569.3 256.12 C573.78 254.43 578.73 252.51 583.45 250.59 C588.17 248.67 594.06 246.14 597.6 244.6 C601.14 243.06 602.32 242.53 604.68 241.37 C607.03 240.22 608.21 239.22 611.75 237.69 C615.29 236.15 621.18 234 625.9 232.15 C630.62 230.31 636.28 228.08 640.05 226.62 C643.82 225.16 645.47 224.78 648.54 223.39 C651.61 222.01 655.14 220.17 658.45 218.32 C661.75 216.48 666.7 213.33 668.35 212.33" fill="none" stroke="#3c9a42" stroke-width="1.9"/>
<path d="M526.85 267.65 C527.56 267.34 528.74 266.73 531.1 265.81 C533.45 264.88 536.99 263.5 541 262.12 C545.01 260.74 550.43 259.04 555.15 257.51 C559.87 255.97 564.58 254.43 569.3 252.9 C574.02 251.36 578.73 249.82 583.45 248.29 C588.17 246.75 592.88 245.18 597.6 243.68 C602.32 242.18 607.03 240.84 611.75 239.3 C616.47 237.76 621.18 236.11 625.9 234.46 C630.62 232.81 635.33 231.38 640.05 229.39 C644.77 227.39 649.48 225.16 654.2 222.47 C658.92 219.78 665.99 214.79 668.35 213.25" fill="none" stroke="#7a5cbc" stroke-width="1.9"/>
<path d="M526.85 263.73 C529.21 263 536.28 260.77 541 259.35 C545.72 257.93 550.43 256.55 555.15 255.2 C559.87 253.86 564.58 252.59 569.3 251.28 C574.02 249.98 578.73 248.71 583.45 247.37 C588.17 246.02 592.88 244.6 597.6 243.22 C602.32 241.83 607.03 240.45 611.75 239.07 C616.47 237.68 621.18 236.38 625.9 234.92 C630.62 233.46 635.33 232.08 640.05 230.31 C644.77 228.54 649.48 226.54 654.2 224.32 C658.92 222.09 665.99 218.17 668.35 216.94" fill="none" stroke="#2d3391" stroke-width="1.9"/>
<rect x="526.4" y="175.6" width="142" height="138.4" fill="none" stroke="#111" stroke-width="1.5"/>
<line x1="526.4" y1="175.45" x2="531" y2="175.45" stroke="#111" stroke-width="1.3"/>
<text x="524" y="180.15" font-size="13" text-anchor="end">15</text>
<line x1="526.4" y1="198.5" x2="531" y2="198.5" stroke="#111" stroke-width="1.3"/>
<text x="524" y="203.2" font-size="13" text-anchor="end">10</text>
<line x1="526.4" y1="221.55" x2="531" y2="221.55" stroke="#111" stroke-width="1.3"/>
<text x="524" y="226.25" font-size="13" text-anchor="end">5</text>
<line x1="526.4" y1="244.6" x2="531" y2="244.6" stroke="#111" stroke-width="1.3"/>
<text x="524" y="249.3" font-size="13" text-anchor="end">0</text>
<line x1="526.4" y1="267.65" x2="531" y2="267.65" stroke="#111" stroke-width="1.3"/>
<text x="524" y="272.35" font-size="13" text-anchor="end">-5</text>
<line x1="526.4" y1="290.7" x2="531" y2="290.7" stroke="#111" stroke-width="1.3"/>
<text x="524" y="295.4" font-size="13" text-anchor="end">-10</text>
<line x1="526.4" y1="313.75" x2="531" y2="313.75" stroke="#111" stroke-width="1.3"/>
<text x="524" y="318.45" font-size="13" text-anchor="end">-15</text>
<line x1="541" y1="310.6" x2="541" y2="314" stroke="#111" stroke-width="1.2"/>
<text x="539.8" y="326.2" font-size="13" text-anchor="middle">-4</text>
<line x1="569.3" y1="310.6" x2="569.3" y2="314" stroke="#111" stroke-width="1.2"/>
<text x="568.1" y="326.2" font-size="13" text-anchor="middle">-2</text>
<line x1="597.6" y1="310.6" x2="597.6" y2="314" stroke="#111" stroke-width="1.2"/>
<text x="596.4" y="326.2" font-size="13" text-anchor="middle">0</text>
<line x1="625.9" y1="310.6" x2="625.9" y2="314" stroke="#111" stroke-width="1.2"/>
<text x="624.7" y="326.2" font-size="13" text-anchor="middle">2</text>
<line x1="654.2" y1="310.6" x2="654.2" y2="314" stroke="#111" stroke-width="1.2"/>
<text x="653" y="326.2" font-size="13" text-anchor="middle">4</text>
<text x="576" y="339" font-size="13.5"><tspan font-style="italic">V</tspan><tspan font-size="9" font-style="italic" dy="3">b</tspan><tspan dy="-3"> (mV)</tspan></text>
<text transform="translate(495,245) rotate(-90)" font-size="13.5" text-anchor="middle"><tspan font-style="italic">I</tspan><tspan font-size="9" font-style="italic" dy="3">b</tspan><tspan dy="-3"> (pA/μm</tspan><tspan font-size="9" dy="-5">2</tspan><tspan dy="5">)</tspan></text>
<text x="541" y="202" font-size="17.5" fill="#2d3391">1.14GΩ·μm²</text>
<text x="539.6" y="222.3" font-size="17.5" fill="#7a5cbc">1.08GΩ·μm²</text>
<text x="569" y="273.4" font-size="17.5" fill="#3c9a42">0.78GΩ·μm²</text>
<text x="5.3" y="380.8" class="lab">d</text>
<rect x="167" y="366" width="27.4" height="234.5" fill="#e8ecf6"/>
<path d="M69 567 C70.83 564.33 76.5 556.33 80 551 C83.5 545.67 86.67 540 90 535 C93.33 530 96.67 524.83 100 521 C103.33 517.17 106.67 514.67 110 512 C113.33 509.33 116.67 506.83 120 505 C123.33 503.17 126.67 502.33 130 501 C133.33 499.67 137.67 498.33 140 497 C142.33 495.67 142.67 494.67 144 493 C145.33 491.33 146.67 488.5 148 487 C149.33 485.5 150 484.63 152 484 C154 483.37 155.33 483.37 160 483.2 C164.67 483.03 174.13 483.03 180 483 C185.87 482.97 190.15 483.37 195.2 483 C200.25 482.63 205.25 481.92 210.3 480.8 C215.35 479.68 220.43 478.1 225.5 476.3 C230.57 474.5 236.48 472.32 240.7 470 C244.92 467.68 247.43 465.57 250.8 462.4 C254.17 459.23 257.53 455.02 260.9 451 C264.27 446.98 267.63 442.73 271 438.3 C274.37 433.87 278.15 428.4 281.1 424.4 C284.05 420.4 286.38 417.23 288.7 414.3 C291.02 411.37 293.95 408.05 295 406.8" fill="none" stroke="#2b2f8f" stroke-width="3.4" stroke-linecap="round"/>
<path d="M68.8 399.2 C69.43 397.72 71.53 392 72.6 390.3 C73.67 388.6 74.47 389.72 75.2 389 C75.93 388.28 76.37 387.25 77 386 C77.63 384.75 78.25 382.47 79 381.5 C79.75 380.53 80.83 380.78 81.5 380.2 C82.17 379.62 82.45 378.63 83 378 C83.55 377.37 84.22 376.23 84.8 376.4 C85.38 376.57 85.8 376.25 86.5 379 C87.2 381.75 88.15 388.27 89 392.9 C89.85 397.53 90.85 404.2 91.6 406.8 C92.35 409.4 92.87 408.3 93.5 408.5 C94.13 408.7 94.67 407.25 95.4 408 C96.13 408.75 97.07 409.2 97.9 413 C98.73 416.8 99.35 424.88 100.4 430.8 C101.45 436.72 103.13 444.3 104.2 448.5 C105.27 452.7 105.75 451.8 106.8 456 C107.85 460.2 109.25 468.22 110.5 473.7 C111.75 479.18 112.82 483.85 114.3 488.9 C115.78 493.95 117.72 498.53 119.4 504 C121.08 509.47 123.05 517.37 124.4 521.7 C125.75 526.03 126.43 528.12 127.5 530 C128.57 531.88 129.62 532.9 130.8 533 C131.98 533.1 133.35 534.17 134.6 530.6 C135.85 527.03 137.25 519.82 138.3 511.6 C139.35 503.38 140.05 492.23 140.9 481.3 C141.75 470.37 142.65 453.37 143.4 446 C144.15 438.63 144.77 437.53 145.4 437.1 C146.03 436.67 146.48 437.3 147.2 443.4 C147.92 449.5 148.87 461.48 149.7 473.7 C150.53 485.92 151.15 503.65 152.2 516.7 C153.25 529.75 154.52 542.73 156 552 C157.48 561.27 158.98 566.8 161.1 572.3 C163.22 577.8 165.33 582.27 168.7 585 C172.07 587.73 178.15 588.3 181.3 588.7 C184.45 589.1 185.5 588.45 187.6 587.4 C189.7 586.35 191.8 585.33 193.9 582.4 C196 579.47 198.3 573.8 200.2 569.8 C202.1 565.8 203.82 561.15 205.3 558.4 C206.78 555.65 208.05 554.27 209.1 553.3 C210.15 552.33 210.55 552.32 211.6 552.6 C212.65 552.88 213.93 555.93 215.4 555 C216.87 554.07 218.72 549.38 220.4 547 C222.08 544.62 223.82 543.23 225.5 540.7 C227.18 538.17 228.6 535.58 230.5 531.8 C232.4 528.02 235 521.57 236.9 518 C238.8 514.43 240.43 514.4 241.9 510.4 C243.37 506.4 244.65 500.12 245.7 494 C246.75 487.88 247.35 480.03 248.2 473.7 C249.05 467.37 249.95 461.47 250.8 456 C251.65 450.53 252.25 443.85 253.3 440.9 C254.35 437.95 255.83 439.78 257.1 438.3 C258.37 436.82 259.85 435.37 260.9 432 C261.95 428.63 262.35 424.2 263.4 418.1 C264.45 412 266.15 400.25 267.2 395.4 C268.25 390.55 268.65 389.63 269.7 389 C270.75 388.37 272.23 390.53 273.5 391.6 C274.77 392.67 276.03 393.93 277.3 395.4 C278.57 396.87 280.05 397.88 281.1 400.4 C282.15 402.92 282.55 406.7 283.6 410.5 C284.65 414.3 286.13 420.45 287.4 423.2 C288.67 425.95 289.93 426.17 291.2 427 C292.47 427.83 294.37 428 295 428.2" fill="none" stroke="#ec8434" stroke-width="2.3" stroke-linejoin="round"/>
<line x1="145.6" y1="406" x2="145.6" y2="420.5" stroke="#5567be" stroke-width="2.0"/><polygon points="142,419.5 149.2,419.5 145.6,434" fill="#5567be"/>
<line x1="211" y1="520.6" x2="211" y2="535.1" stroke="#7d8684" stroke-width="2.0"/><polygon points="207.4,534.1 214.6,534.1 211,548.6" fill="#7d8684"/>
<line x1="225" y1="508" x2="225" y2="522.5" stroke="#7d8684" stroke-width="2.0"/><polygon points="221.4,521.5 228.6,521.5 225,536" fill="#7d8684"/>
<line x1="239.4" y1="480" x2="239.4" y2="494.5" stroke="#7d8684" stroke-width="2.0"/><polygon points="235.8,493.5 243,493.5 239.4,508" fill="#7d8684"/>
<line x1="63" y1="364.6" x2="301.4" y2="364.6" stroke="#111" stroke-width="1.6"/>
<line x1="63" y1="601.4" x2="301.4" y2="601.4" stroke="#111" stroke-width="1.6"/>
<line x1="63.6" y1="364" x2="63.6" y2="602" stroke="#2b2f8f" stroke-width="1.8"/>
<line x1="300.6" y1="364" x2="300.6" y2="602" stroke="#ec8434" stroke-width="1.8"/>
<line x1="58.2" y1="375.4" x2="63.6" y2="375.4" stroke="#2b2f8f" stroke-width="1.6"/>
<text x="54" y="381.8" font-size="18" text-anchor="end" fill="#2b2f8f">100</text>
<line x1="58.2" y1="429.4" x2="63.6" y2="429.4" stroke="#2b2f8f" stroke-width="1.6"/>
<text x="54" y="435.8" font-size="18" text-anchor="end" fill="#2b2f8f">50</text>
<line x1="58.2" y1="483.4" x2="63.6" y2="483.4" stroke="#2b2f8f" stroke-width="1.6"/>
<text x="54" y="489.8" font-size="18" text-anchor="end" fill="#2b2f8f">0</text>
<line x1="58.2" y1="537.4" x2="63.6" y2="537.4" stroke="#2b2f8f" stroke-width="1.6"/>
<text x="54" y="543.8" font-size="18" text-anchor="end" fill="#2b2f8f">-50</text>
<line x1="58.2" y1="591.4" x2="63.6" y2="591.4" stroke="#2b2f8f" stroke-width="1.6"/>
<text x="54" y="597.8" font-size="18" text-anchor="end" fill="#2b2f8f">-100</text>
<line x1="300.6" y1="402.6" x2="306" y2="402.6" stroke="#ec8434" stroke-width="1.6"/>
<text x="309" y="409" font-size="18" fill="#ec8434">1.5</text>
<line x1="300.6" y1="464.6" x2="306" y2="464.6" stroke="#ec8434" stroke-width="1.6"/>
<text x="309" y="471" font-size="18" fill="#ec8434">1.0</text>
<line x1="300.6" y1="526.6" x2="306" y2="526.6" stroke="#ec8434" stroke-width="1.6"/>
<text x="309" y="533" font-size="18" fill="#ec8434">0.5</text>
<line x1="300.6" y1="588.6" x2="306" y2="588.6" stroke="#ec8434" stroke-width="1.6"/>
<text x="309" y="595" font-size="18" fill="#ec8434">0.0</text>
<line x1="64" y1="601.4" x2="64" y2="606.6" stroke="#111" stroke-width="1.6"/>
<text x="64" y="626" font-size="18" text-anchor="middle">-100</text>
<line x1="123" y1="601.4" x2="123" y2="606.6" stroke="#111" stroke-width="1.6"/>
<text x="123" y="626" font-size="18" text-anchor="middle">-50</text>
<line x1="182" y1="601.4" x2="182" y2="606.6" stroke="#111" stroke-width="1.6"/>
<text x="182" y="626" font-size="18" text-anchor="middle">0</text>
<line x1="241" y1="601.4" x2="241" y2="606.6" stroke="#111" stroke-width="1.6"/>
<text x="241" y="626" font-size="18" text-anchor="middle">50</text>
<line x1="300" y1="601.4" x2="300" y2="606.6" stroke="#111" stroke-width="1.6"/>
<text x="300" y="626" font-size="18" text-anchor="middle">100</text>
<text x="92" y="384.9" font-size="18.5" fill="#ec8434">d<tspan font-style="italic">I</tspan><tspan font-size="11.5" dy="5.5">b</tspan><tspan dy="-5.5"> / d</tspan><tspan font-style="italic">V</tspan><tspan font-size="11.5" dy="5.5">b</tspan></text>
<text x="296.7" y="383.8" font-size="19.5" text-anchor="end">a-C</text>
<text x="237.6" y="591.2" font-size="16.5"><tspan font-style="italic">T</tspan>=1.6 K</text>
<text x="79" y="524" font-size="19" fill="#2b2f8f" font-style="italic">I<tspan font-size="12" dy="5">b</tspan></text>
<text transform="translate(25,482.7) rotate(-90)" font-size="22.8" text-anchor="middle" fill="#2b2f8f"><tspan font-style="italic">I</tspan><tspan font-size="15" dy="5.5">b</tspan><tspan dy="-5.5"> (nA)</tspan></text>
<text transform="translate(359.2,487) rotate(-90)" font-size="22.8" text-anchor="middle" fill="#ec8434">d<tspan font-style="italic">I</tspan><tspan font-size="15" dy="5.5">b</tspan><tspan dy="-5.5"> / d</tspan><tspan font-style="italic">V</tspan> (μS)</text>
<text x="139.5" y="650.6" font-size="22.8"><tspan font-style="italic">V</tspan><tspan font-size="15" dy="5.5">b</tspan><tspan dy="-5.5"> (mV)</tspan></text>
<text x="377" y="380.5" class="lab">e</text>
<polyline points="438,490.12 447.42,489.06 456.83,488.12 466.25,487.28 475.67,486.55 485.08,485.91 494.5,485.35 503.92,484.86 513.33,484.42 522.75,484.02 532.17,483.66 541.58,483.33 551,483 560.42,482.68 569.83,482.33 579.25,481.94 588.67,481.49 598.08,480.95 607.5,480.31 616.92,479.54 626.33,478.62 635.75,477.53 645.17,476.25 654.58,474.75 664,473.02" fill="none" stroke="#2e3192" stroke-width="0.75"/>
<polyline points="438,490.96 447.42,489.82 456.83,488.81 466.25,487.9 475.67,487.1 485.08,486.39 494.5,485.76 503.92,485.2 513.33,484.69 522.75,484.23 532.17,483.8 541.58,483.39 551,483 560.42,482.64 569.83,482.25 579.25,481.82 588.67,481.33 598.08,480.75 607.5,480.07 616.92,479.25 626.33,478.29 635.75,477.15 645.17,475.82 654.58,474.27 664,472.48" fill="none" stroke="#46499f" stroke-width="0.75"/>
<polyline points="438,492.18 447.42,490.93 456.83,489.8 466.25,488.79 475.67,487.88 485.08,487.07 494.5,486.34 503.92,485.67 513.33,485.07 522.75,484.51 532.17,483.99 541.58,483.49 551,483 560.42,482.58 569.83,482.15 579.25,481.66 588.67,481.11 598.08,480.47 607.5,479.72 616.92,478.83 626.33,477.79 635.75,476.57 645.17,475.14 654.58,473.49 664,471.6" fill="none" stroke="#5e61ab" stroke-width="0.75"/>
<polyline points="438,493.61 447.42,492.23 456.83,490.98 466.25,489.84 475.67,488.82 485.08,487.88 494.5,487.03 503.92,486.25 513.33,485.53 522.75,484.86 532.17,484.22 541.58,483.6 551,483 560.42,482.52 569.83,482.02 579.25,481.47 588.67,480.85 598.08,480.13 607.5,479.3 616.92,478.32 626.33,477.18 635.75,475.85 645.17,474.31 654.58,472.54 664,470.5" fill="none" stroke="#7678b8" stroke-width="0.75"/>
<polyline points="438,495.2 447.42,493.69 456.83,492.31 466.25,491.04 475.67,489.88 485.08,488.82 494.5,487.83 503.92,486.92 513.33,486.07 522.75,485.26 532.17,484.49 541.58,483.74 551,483 560.42,482.45 569.83,481.87 579.25,481.24 588.67,480.53 598.08,479.73 607.5,478.81 616.92,477.73 626.33,476.48 635.75,475.03 645.17,473.36 654.58,471.44 664,469.25" fill="none" stroke="#8f90c5" stroke-width="0.75"/>
<polyline points="438,496.9 447.42,495.27 456.83,493.76 466.25,492.37 475.67,491.07 485.08,489.87 494.5,488.74 503.92,487.68 513.33,486.68 522.75,485.72 532.17,484.79 541.58,483.89 551,483 560.42,482.36 569.83,481.69 579.25,480.98 588.67,480.18 598.08,479.28 607.5,478.25 616.92,477.06 626.33,475.69 635.75,474.12 645.17,472.3 654.58,470.23 664,467.87" fill="none" stroke="#a7a8d1" stroke-width="0.75"/>
<polyline points="438,498.72 447.42,496.97 456.83,495.35 466.25,493.82 475.67,492.38 485.08,491.03 494.5,489.75 503.92,488.53 513.33,487.36 522.75,486.24 532.17,485.14 541.58,484.07 551,483 560.42,482.26 569.83,481.5 579.25,480.69 588.67,479.79 598.08,478.78 607.5,477.63 616.92,476.33 626.33,474.83 635.75,473.11 645.17,471.14 654.58,468.91 664,466.37" fill="none" stroke="#bfc0de" stroke-width="0.75"/>
<polyline points="438,500.62 447.42,498.78 456.83,497.04 466.25,495.39 475.67,493.81 485.08,492.31 494.5,490.86 503.92,489.47 513.33,488.12 522.75,486.81 532.17,485.53 541.58,484.26 551,483 560.42,482.16 569.83,481.29 579.25,480.36 588.67,479.35 598.08,478.22 607.5,476.96 616.92,475.52 626.33,473.88 635.75,472.01 645.17,469.89 654.58,467.49 664,464.77" fill="none" stroke="#d7d7eb" stroke-width="0.75"/>
<polyline points="438,502.61 447.42,500.69 456.83,498.85 466.25,497.07 475.67,495.35 485.08,493.69 494.5,492.07 503.92,490.5 513.33,488.96 522.75,487.45 532.17,485.95 541.58,484.47 551,483 560.42,482.04 569.83,481.05 579.25,480.01 588.67,478.87 598.08,477.62 607.5,476.22 616.92,474.64 626.33,472.86 635.75,470.84 645.17,468.55 654.58,465.97 664,463.07" fill="none" stroke="#efeff7" stroke-width="0.75"/>
<polyline points="438,504.68 447.42,502.7 456.83,500.76 466.25,498.87 475.67,497.01 485.08,495.19 494.5,493.39 503.92,491.62 513.33,489.87 522.75,488.14 532.17,486.42 541.58,484.71 551,483 560.42,481.91 569.83,480.8 579.25,479.62 588.67,478.35 598.08,476.96 607.5,475.42 616.92,473.7 626.33,471.76 635.75,469.58 645.17,467.13 654.58,464.37 664,461.29" fill="none" stroke="#f2eaef" stroke-width="0.75"/>
<polyline points="438,506.82 447.42,504.79 456.83,502.78 466.25,500.78 475.67,498.78 485.08,496.79 494.5,494.81 503.92,492.83 513.33,490.86 522.75,488.89 532.17,486.93 541.58,484.96 551,483 560.42,481.77 569.83,480.52 579.25,479.2 588.67,477.79 598.08,476.25 607.5,474.56 616.92,472.69 626.33,470.59 635.75,468.25 645.17,465.63 654.58,462.69 664,459.42" fill="none" stroke="#efdde2" stroke-width="0.75"/>
<polyline points="438,509.02 447.42,506.92 456.83,504.81 466.25,502.69 475.67,500.55 485.08,498.4 494.5,496.24 503.92,494.06 513.33,491.88 522.75,489.68 532.17,487.46 541.58,485.24 551,483 560.42,481.64 569.83,480.24 579.25,478.78 588.67,477.23 598.08,475.54 607.5,473.7 616.92,471.66 626.33,469.4 635.75,466.89 645.17,464.08 654.58,460.96 664,457.48" fill="none" stroke="#ecd0d4" stroke-width="0.75"/>
<polyline points="438,511.28 447.42,509.1 456.83,506.89 466.25,504.65 475.67,502.37 485.08,500.06 494.5,497.72 503.92,495.35 513.33,492.94 522.75,490.5 532.17,488.04 541.58,485.53 551,483 560.42,481.49 569.83,479.95 579.25,478.35 588.67,476.64 598.08,474.81 607.5,472.8 616.92,470.6 626.33,468.17 635.75,465.47 645.17,462.48 654.58,459.15 664,455.46" fill="none" stroke="#e9c3c7" stroke-width="0.75"/>
<polyline points="438,513.6 447.42,511.35 456.83,509.05 466.25,506.69 475.67,504.28 485.08,501.81 494.5,499.29 503.92,496.71 513.33,494.08 522.75,491.39 532.17,488.65 541.58,485.85 551,483 560.42,481.34 569.83,479.65 579.25,477.89 588.67,476.03 598.08,474.03 607.5,471.86 616.92,469.49 626.33,466.88 635.75,464 645.17,460.81 654.58,457.28 664,453.38" fill="none" stroke="#e6b6ba" stroke-width="0.75"/>
<polyline points="438,515.98 447.42,513.67 456.83,511.28 466.25,508.82 475.67,506.27 485.08,503.64 494.5,500.94 503.92,498.15 513.33,495.28 522.75,492.33 532.17,489.3 541.58,486.19 551,483 560.42,481.18 569.83,479.33 579.25,477.4 588.67,475.37 598.08,473.21 607.5,470.87 616.92,468.32 626.33,465.53 635.75,462.46 645.17,459.07 654.58,455.34 664,451.23" fill="none" stroke="#e2a6aa" stroke-width="0.75"/>
<polyline points="438,518.4 447.42,516.05 456.83,513.59 466.25,511.03 475.67,508.35 485.08,505.56 494.5,502.67 503.92,499.66 513.33,496.55 522.75,493.33 532.17,489.99 541.58,486.55 551,483 560.42,481.01 569.83,478.98 579.25,476.89 588.67,474.69 598.08,472.34 607.5,469.82 616.92,467.09 626.33,464.11 635.75,460.85 645.17,457.27 654.58,453.34 664,449.02" fill="none" stroke="#de979b" stroke-width="0.75"/>
<polyline points="438,520.88 447.42,518.5 456.83,515.98 466.25,513.32 475.67,510.52 485.08,507.57 494.5,504.49 503.92,501.26 513.33,497.89 522.75,494.38 532.17,490.73 541.58,486.94 551,483 560.42,480.83 569.83,478.62 579.25,476.35 588.67,473.96 598.08,471.44 607.5,468.73 616.92,465.81 626.33,462.64 635.75,459.19 645.17,455.41 654.58,451.28 664,446.75" fill="none" stroke="#da878c" stroke-width="0.75"/>
<polyline points="438,523.4 447.42,521.01 456.83,518.44 466.25,515.69 475.67,512.77 485.08,509.67 494.5,506.39 503.92,502.94 513.33,499.3 522.75,495.49 532.17,491.51 541.58,487.34 551,483 560.42,480.64 569.83,478.25 579.25,475.78 588.67,473.2 598.08,470.49 607.5,467.59 616.92,464.48 626.33,461.11 635.75,457.46 645.17,453.49 654.58,449.15 664,444.43" fill="none" stroke="#d6777c" stroke-width="0.75"/>
<polyline points="438,525.96 447.42,523.57 456.83,520.97 466.25,518.15 475.67,515.11 485.08,511.85 494.5,508.38 503.92,504.69 513.33,500.79 522.75,496.66 532.17,492.33 541.58,487.77 551,483 560.42,480.44 569.83,477.85 579.25,475.18 588.67,472.41 598.08,469.49 607.5,466.4 616.92,463.09 626.33,459.52 635.75,455.67 645.17,451.5 654.58,446.97 664,442.04" fill="none" stroke="#d2686d" stroke-width="0.75"/>
<polyline points="438,528.57 447.42,526.2 456.83,523.57 466.25,520.68 475.67,517.53 485.08,514.12 494.5,510.46 503.92,506.53 513.33,502.34 522.75,497.89 532.17,493.19 541.58,488.22 551,483 560.42,480.23 569.83,477.43 579.25,474.56 588.67,471.58 598.08,468.46 607.5,465.16 616.92,461.64 626.33,457.88 635.75,453.83 645.17,449.46 654.58,444.73 664,439.61" fill="none" stroke="#ce585d" stroke-width="0.75"/>
<polyline points="438,531.22 447.42,528.89 456.83,526.25 466.25,523.3 475.67,520.04 485.08,516.48 494.5,512.62 503.92,508.45 513.33,503.97 522.75,499.18 532.17,494.1 541.58,488.7 551,483 560.42,480.02 569.83,477 579.25,473.91 588.67,470.71 598.08,467.38 607.5,463.86 616.92,460.14 626.33,456.17 635.75,451.92 645.17,447.35 654.58,442.43 664,437.12" fill="none" stroke="#ca484e" stroke-width="0.75"/>
<polyline points="438,533.92 447.42,531.52 456.83,528.8 466.25,525.73 475.67,522.33 485.08,518.59 494.5,514.52 503.92,510.11 513.33,505.36 522.75,500.27 532.17,494.85 541.58,489.09 551,483 560.42,479.8 569.83,476.57 579.25,473.27 588.67,469.87 598.08,466.32 607.5,462.59 616.92,458.66 626.33,454.48 635.75,450.01 645.17,445.23 654.58,440.1 664,434.58" fill="none" stroke="#c6393f" stroke-width="0.75"/>
<polyline points="438,536.65 447.42,534.09 456.83,531.19 466.25,527.94 475.67,524.35 485.08,520.4 494.5,516.1 503.92,511.46 513.33,506.46 522.75,501.12 532.17,495.43 541.58,489.39 551,483 560.42,479.6 569.83,476.17 579.25,472.66 588.67,469.05 598.08,465.29 607.5,461.35 616.92,457.2 626.33,452.81 635.75,448.12 645.17,443.11 654.58,437.75 664,431.99" fill="none" stroke="#c2292f" stroke-width="0.75"/>
<polyline points="438,539.41 447.42,536.7 456.83,533.62 466.25,530.18 475.67,526.38 485.08,522.22 494.5,517.7 503.92,512.82 513.33,507.58 522.75,501.97 532.17,496.01 541.58,489.69 551,483 560.42,479.39 569.83,475.74 579.25,472.03 588.67,468.2 598.08,464.23 607.5,460.08 616.92,455.71 626.33,451.09 635.75,446.18 645.17,440.95 654.58,435.35 664,429.36" fill="none" stroke="#c1272d" stroke-width="0.75"/>
<polyline points="438,542.22 447.42,539.33 456.83,536.07 466.25,532.44 475.67,528.44 485.08,524.06 494.5,519.31 503.92,514.19 513.33,508.7 522.75,502.83 532.17,496.59 541.58,489.98 551,483 560.42,479.17 569.83,475.31 579.25,471.38 588.67,467.33 598.08,463.14 607.5,458.77 616.92,454.18 626.33,449.33 635.75,444.2 645.17,438.73 654.58,432.91 664,426.68" fill="none" stroke="#c1272d" stroke-width="0.75"/>
<polyline points="438,545.06 447.42,541.99 456.83,538.55 466.25,534.72 475.67,530.51 485.08,525.91 494.5,520.93 503.92,515.57 513.33,509.82 522.75,503.69 532.17,497.18 541.58,490.28 551,483 560.42,478.95 569.83,474.86 579.25,470.7 588.67,466.44 598.08,462.02 607.5,457.42 616.92,452.61 626.33,447.53 635.75,442.17 645.17,436.47 654.58,430.41 664,423.95" fill="none" stroke="#c1272d" stroke-width="0.75"/>
<polyline points="438,547.93 447.42,544.69 456.83,541.05 466.25,537.02 475.67,532.59 485.08,527.77 494.5,522.56 503.92,516.95 513.33,510.95 522.75,504.55 532.17,497.76 541.58,490.58 551,483 560.42,478.72 569.83,474.4 579.25,470.01 588.67,465.52 598.08,460.87 607.5,456.04 616.92,450.99 626.33,445.69 635.75,440.09 645.17,434.17 654.58,427.88 664,421.18" fill="none" stroke="#c1272d" stroke-width="0.75"/>
<polyline points="438,550.84 447.42,547.41 456.83,543.57 466.25,539.34 475.67,534.7 485.08,529.65 494.5,524.2 503.92,518.34 513.33,512.08 522.75,505.42 532.17,498.35 541.58,490.88 551,483 560.42,478.48 569.83,473.93 579.25,469.31 588.67,464.57 598.08,459.69 607.5,454.63 616.92,449.34 626.33,443.81 635.75,437.98 645.17,431.82 654.58,425.29 664,418.37" fill="none" stroke="#c1272d" stroke-width="0.75"/>
<polyline points="438,553.78 447.42,550.16 456.83,546.12 466.25,541.67 475.67,536.81 485.08,531.54 494.5,525.85 503.92,519.74 513.33,513.22 522.75,506.29 532.17,498.94 541.58,491.18 551,483 560.42,478.24 569.83,473.45 579.25,468.58 588.67,463.6 598.08,458.48 607.5,453.18 616.92,447.65 626.33,441.88 635.75,435.81 645.17,429.42 654.58,422.67 664,415.52" fill="none" stroke="#c1272d" stroke-width="0.75"/>
<polyline points="438,556.75 447.42,552.93 456.83,548.69 466.25,544.03 475.67,538.94 485.08,533.43 494.5,527.5 503.92,521.14 513.33,514.36 522.75,507.16 532.17,499.53 541.58,491.48 551,483 560.42,477.99 569.83,472.95 579.25,467.83 588.67,462.61 598.08,457.24 607.5,451.69 616.92,445.93 626.33,439.91 635.75,433.61 645.17,426.98 654.58,420 664,412.62" fill="none" stroke="#c1272d" stroke-width="0.75"/>
<polyline points="438,559.75 447.42,555.73 456.83,551.28 466.25,546.4 475.67,541.09 485.08,535.34 494.5,529.16 503.92,522.55 513.33,515.5 522.75,508.03 532.17,500.12 541.58,491.78 551,483 560.42,477.73 569.83,472.43 579.25,467.06 588.67,461.58 598.08,455.97 607.5,450.17 616.92,444.16 626.33,437.9 635.75,431.36 645.17,424.5 654.58,417.29 664,409.68" fill="none" stroke="#c1272d" stroke-width="0.75"/>
<polyline points="438,562.78 447.42,558.54 456.83,553.86 466.25,548.75 475.67,543.19 485.08,537.2 494.5,530.77 503.92,523.9 513.33,516.6 522.75,508.86 532.17,500.67 541.58,492.06 551,483 560.42,477.47 569.83,471.91 579.25,466.28 588.67,460.54 598.08,454.66 607.5,448.61 616.92,442.35 626.33,435.85 635.75,429.07 645.17,421.98 654.58,414.53 664,406.71" fill="none" stroke="#c1272d" stroke-width="0.75"/>
<polyline points="438,565.84 447.42,561.32 456.83,556.36 466.25,550.97 475.67,545.14 485.08,538.89 494.5,532.2 503.92,525.08 513.33,517.53 522.75,509.54 532.17,501.13 541.58,492.28 551,483 560.42,477.2 569.83,471.37 579.25,465.47 588.67,459.47 598.08,453.33 607.5,447.02 616.92,440.51 626.33,433.76 635.75,426.74 645.17,419.41 654.58,411.74 664,403.69" fill="none" stroke="#c1272d" stroke-width="0.75"/>
<polyline points="438,568.93 447.42,564.11 456.83,558.86 466.25,553.19 475.67,547.09 485.08,540.56 494.5,533.62 503.92,526.24 513.33,518.44 522.75,510.22 532.17,501.57 541.58,492.5 551,483 560.42,476.93 569.83,470.82 579.25,464.65 588.67,458.37 598.08,451.97 607.5,445.4 616.92,438.63 626.33,431.63 635.75,424.36 645.17,416.8 654.58,408.9 664,400.64" fill="none" stroke="#c1272d" stroke-width="0.75"/>
<polyline points="438,572.05 447.42,566.92 456.83,561.37 466.25,555.41 475.67,549.03 485.08,542.23 494.5,535.02 503.92,527.39 513.33,519.34 522.75,510.88 532.17,502 541.58,492.71 551,483 560.42,476.64 569.83,470.25 579.25,463.8 588.67,457.25 598.08,450.57 607.5,443.74 616.92,436.71 626.33,429.45 635.75,421.94 645.17,414.14 654.58,406.02 664,397.55" fill="none" stroke="#c1272d" stroke-width="0.75"/>
<polyline points="438,575.2 447.42,569.75 456.83,563.89 466.25,557.63 475.67,550.96 485.08,543.89 494.5,536.41 503.92,528.52 513.33,520.23 522.75,511.53 532.17,502.43 541.58,492.92 551,483 560.42,476.35 569.83,469.68 579.25,462.94 588.67,456.1 598.08,449.15 607.5,442.04 616.92,434.75 626.33,427.24 635.75,419.48 645.17,411.45 654.58,403.11 664,394.43" fill="none" stroke="#c1272d" stroke-width="0.75"/>
<polyline points="438,578.37 447.42,572.59 456.83,566.42 466.25,559.85 475.67,552.89 485.08,545.53 494.5,537.78 503.92,529.64 513.33,521.1 522.75,512.16 532.17,502.84 541.58,493.12 551,483 560.42,476.06 569.83,469.08 579.25,462.05 588.67,454.93 598.08,447.69 607.5,440.31 616.92,432.75 626.33,424.98 635.75,416.98 645.17,408.71 654.58,400.15 664,391.27" fill="none" stroke="#c1272d" stroke-width="0.75"/>
<polyline points="438,581.57 447.42,575.45 456.83,568.95 466.25,562.07 475.67,554.8 485.08,547.16 494.5,539.14 503.92,530.73 513.33,521.95 522.75,512.78 532.17,503.23 541.58,493.31 551,483 560.42,475.75 569.83,468.48 579.25,461.15 588.67,453.73 598.08,446.21 607.5,438.54 616.92,430.71 626.33,422.68 635.75,414.43 645.17,405.93 654.58,397.15 664,388.07" fill="none" stroke="#c1272d" stroke-width="0.75"/>
<polyline points="438,584.8 447.42,578.32 456.83,571.49 466.25,564.28 475.67,556.71 485.08,548.78 494.5,540.48 503.92,531.81 513.33,522.78 522.75,513.38 532.17,503.62 541.58,493.49 551,483 560.42,475.44 569.83,467.86 579.25,460.22 588.67,452.51 598.08,444.69 607.5,436.74 616.92,428.64 626.33,420.35 635.75,411.85 645.17,403.12 654.58,394.12 664,384.84" fill="none" stroke="#c1272d" stroke-width="0.75"/>
<polyline points="438,588.05 447.42,581.21 456.83,574.03 466.25,566.49 475.67,558.61 485.08,550.38 494.5,541.8 503.92,532.87 513.33,523.6 522.75,513.97 532.17,504 541.58,493.67 551,483 560.42,475.13 569.83,467.23 579.25,459.28 588.67,451.26 598.08,443.15 607.5,434.91 616.92,426.52 626.33,417.97 635.75,409.22 645.17,400.26 654.58,391.05 664,381.57" fill="none" stroke="#c1272d" stroke-width="0.75"/>
<polyline points="438,591.32 447.42,584.11 456.83,576.57 466.25,568.7 475.67,560.5 485.08,551.97 494.5,543.11 503.92,533.91 513.33,524.39 522.75,514.54 532.17,504.36 541.58,493.84 551,483 560.42,474.8 569.83,466.58 579.25,458.32 588.67,449.99 598.08,441.57 607.5,433.04 616.92,424.37 626.33,415.55 635.75,406.55 645.17,397.36 654.58,387.94 664,378.27" fill="none" stroke="#c1272d" stroke-width="0.75"/>
<polyline points="438,594.62 447.42,587.03 456.83,579.12 466.25,570.9 475.67,562.38 485.08,553.54 494.5,544.39 503.92,534.94 513.33,525.17 522.75,515.09 532.17,504.7 541.58,494.01 551,483 560.42,474.47 569.83,465.92 579.25,457.34 588.67,448.69 598.08,439.96 607.5,431.13 616.92,422.18 626.33,413.09 635.75,403.84 645.17,394.42 654.58,384.79 664,374.94" fill="none" stroke="#c1272d" stroke-width="0.75"/>
<rect x="432.4" y="364.4" width="237" height="236.6" fill="none" stroke="#111" stroke-width="1.6"/>
<line x1="427" y1="388" x2="432.4" y2="388" stroke="#111" stroke-width="1.6"/>
<text x="422.3" y="394.4" font-size="18" text-anchor="end">4</text>
<line x1="427" y1="435.5" x2="432.4" y2="435.5" stroke="#111" stroke-width="1.6"/>
<text x="422.3" y="441.9" font-size="18" text-anchor="end">2</text>
<line x1="427" y1="483" x2="432.4" y2="483" stroke="#111" stroke-width="1.6"/>
<text x="422.3" y="489.4" font-size="18" text-anchor="end">0</text>
<line x1="427" y1="530.5" x2="432.4" y2="530.5" stroke="#111" stroke-width="1.6"/>
<text x="422.3" y="536.9" font-size="18" text-anchor="end">-2</text>
<line x1="427" y1="578" x2="432.4" y2="578" stroke="#111" stroke-width="1.6"/>
<text x="422.3" y="584.4" font-size="18" text-anchor="end">-4</text>
<line x1="438" y1="601" x2="438" y2="606.8" stroke="#111" stroke-width="1.6"/>
<text x="438" y="626" font-size="18" text-anchor="middle">-100</text>
<line x1="494.5" y1="601" x2="494.5" y2="606.8" stroke="#111" stroke-width="1.6"/>
<text x="494.5" y="626" font-size="18" text-anchor="middle">-50</text>
<line x1="551" y1="601" x2="551" y2="606.8" stroke="#111" stroke-width="1.6"/>
<text x="551" y="626" font-size="18" text-anchor="middle">0</text>
<line x1="607.5" y1="601" x2="607.5" y2="606.8" stroke="#111" stroke-width="1.6"/>
<text x="607.5" y="626" font-size="18" text-anchor="middle">50</text>
<line x1="664" y1="601" x2="664" y2="606.8" stroke="#111" stroke-width="1.6"/>
<text x="664" y="626" font-size="18" text-anchor="middle">100</text>
<text x="442" y="387" font-size="18.6">Tunnelling</text>
<text x="658" y="384" font-size="19.5" text-anchor="end">a-C</text>
<text x="438" y="483.6" font-size="16.5" fill="#2e3192">1.6 K</text>
<text x="445" y="598" font-size="16.8" fill="#c1272d">300 K</text>
<text transform="translate(396,476.7) rotate(-90)" font-size="22.8" text-anchor="middle"><tspan font-style="italic">I</tspan><tspan font-size="15" dy="5.5">b</tspan><tspan dy="-5.5">(μA)</tspan></text>
<text x="508" y="650.8" font-size="22.8"><tspan font-style="italic">V</tspan><tspan font-size="15" dy="5.5">b</tspan><tspan dy="-5.5">(mV)</tspan></text>
<g shape-rendering="crispEdges"><rect x="63.6" y="674" width="236.4" height="2" fill="url(#hf0)"/>
<rect x="63.6" y="676" width="236.4" height="2" fill="url(#hf1)"/>
<rect x="63.6" y="678" width="236.4" height="2" fill="url(#hf2)"/>
<rect x="63.6" y="680" width="236.4" height="2" fill="url(#hf3)"/>
<rect x="63.6" y="682" width="236.4" height="2" fill="url(#hf4)"/>
<rect x="63.6" y="684" width="236.4" height="2" fill="url(#hf5)"/>
<rect x="63.6" y="686" width="236.4" height="2" fill="url(#hf6)"/>
<rect x="63.6" y="688" width="236.4" height="2" fill="url(#hf7)"/>
<rect x="63.6" y="690" width="236.4" height="2" fill="url(#hf8)"/>
<rect x="63.6" y="692" width="236.4" height="2" fill="url(#hf9)"/>
<rect x="63.6" y="694" width="236.4" height="2" fill="url(#hf10)"/>
<rect x="63.6" y="696" width="236.4" height="2" fill="url(#hf11)"/>
<rect x="63.6" y="698" width="236.4" height="2" fill="url(#hf12)"/>
<rect x="63.6" y="700" width="236.4" height="2" fill="url(#hf13)"/>
<rect x="63.6" y="702" width="236.4" height="2" fill="url(#hf14)"/>
<rect x="63.6" y="704" width="236.4" height="2" fill="url(#hf15)"/>
<rect x="63.6" y="706" width="236.4" height="2" fill="url(#hf16)"/>
<rect x="63.6" y="708" width="236.4" height="2" fill="url(#hf17)"/>
<rect x="63.6" y="710" width="236.4" height="2" fill="url(#hf18)"/>
<rect x="63.6" y="712" width="236.4" height="2" fill="url(#hf19)"/>
<rect x="63.6" y="714" width="236.4" height="2" fill="url(#hf20)"/>
<rect x="63.6" y="716" width="236.4" height="2" fill="url(#hf21)"/>
<rect x="63.6" y="718" width="236.4" height="2" fill="url(#hf22)"/>
<rect x="63.6" y="720" width="236.4" height="2" fill="url(#hf23)"/>
<rect x="63.6" y="722" width="236.4" height="2" fill="url(#hf24)"/>
<rect x="63.6" y="724" width="236.4" height="2" fill="url(#hf25)"/>
<rect x="63.6" y="726" width="236.4" height="2" fill="url(#hf26)"/>
<rect x="63.6" y="728" width="236.4" height="2" fill="url(#hf27)"/>
<rect x="63.6" y="730" width="236.4" height="2" fill="url(#hf28)"/>
<rect x="63.6" y="732" width="236.4" height="2" fill="url(#hf29)"/>
<rect x="63.6" y="734" width="236.4" height="2" fill="url(#hf30)"/>
<rect x="63.6" y="736" width="236.4" height="2" fill="url(#hf31)"/>
<rect x="63.6" y="738" width="236.4" height="2" fill="url(#hf32)"/>
<rect x="63.6" y="740" width="236.4" height="2" fill="url(#hf33)"/>
<rect x="63.6" y="742" width="236.4" height="2" fill="url(#hf34)"/>
<rect x="63.6" y="744" width="236.4" height="2" fill="url(#hf35)"/>
<rect x="63.6" y="746" width="236.4" height="2" fill="url(#hf36)"/>
<rect x="63.6" y="748" width="236.4" height="2" fill="url(#hf37)"/>
<rect x="63.6" y="750" width="236.4" height="2" fill="url(#hf38)"/>
<rect x="63.6" y="752" width="236.4" height="2" fill="url(#hf39)"/>
<rect x="63.6" y="754" width="236.4" height="2" fill="url(#hf40)"/>
<rect x="63.6" y="756" width="236.4" height="2" fill="url(#hf41)"/>
<rect x="63.6" y="758" width="236.4" height="2" fill="url(#hf42)"/>
<rect x="63.6" y="760" width="236.4" height="2" fill="url(#hf43)"/>
<rect x="63.6" y="762" width="236.4" height="2" fill="url(#hf44)"/>
<rect x="63.6" y="764" width="236.4" height="2" fill="url(#hf45)"/>
<rect x="63.6" y="766" width="236.4" height="2" fill="url(#hf46)"/>
<rect x="63.6" y="768" width="236.4" height="2" fill="url(#hf47)"/>
<rect x="63.6" y="770" width="236.4" height="2" fill="url(#hf48)"/>
<rect x="63.6" y="772" width="236.4" height="2" fill="url(#hf49)"/>
<rect x="63.6" y="774" width="236.4" height="2" fill="url(#hf50)"/>
<rect x="63.6" y="776" width="236.4" height="2" fill="url(#hf51)"/>
<rect x="63.6" y="778" width="236.4" height="2" fill="url(#hf52)"/>
<rect x="63.6" y="780" width="236.4" height="2" fill="url(#hf53)"/>
<rect x="63.6" y="782" width="236.4" height="2" fill="url(#hf54)"/>
<rect x="63.6" y="784" width="236.4" height="2" fill="url(#hf55)"/>
<rect x="63.6" y="786" width="236.4" height="2" fill="url(#hf56)"/>
<rect x="63.6" y="788" width="236.4" height="2" fill="url(#hf57)"/>
<rect x="63.6" y="790" width="236.4" height="2" fill="url(#hf58)"/>
<rect x="63.6" y="792" width="236.4" height="2" fill="url(#hf59)"/>
<rect x="63.6" y="794" width="236.4" height="2" fill="url(#hf60)"/>
<rect x="63.6" y="796" width="236.4" height="2" fill="url(#hf61)"/>
<rect x="63.6" y="798" width="236.4" height="2" fill="url(#hf62)"/>
<rect x="63.6" y="800" width="236.4" height="2" fill="url(#hf63)"/>
<rect x="63.6" y="802" width="236.4" height="2" fill="url(#hf64)"/>
<rect x="63.6" y="804" width="236.4" height="2" fill="url(#hf65)"/>
<rect x="63.6" y="806" width="236.4" height="2" fill="url(#hf66)"/>
<rect x="63.6" y="808" width="236.4" height="2" fill="url(#hf67)"/>
<rect x="63.6" y="810" width="236.4" height="2" fill="url(#hf68)"/>
<rect x="63.6" y="812" width="236.4" height="2" fill="url(#hf69)"/>
<rect x="63.6" y="814" width="236.4" height="2" fill="url(#hf70)"/>
<rect x="63.6" y="816" width="236.4" height="2" fill="url(#hf71)"/>
<rect x="63.6" y="818" width="236.4" height="2" fill="url(#hf72)"/>
<rect x="63.6" y="820" width="236.4" height="2" fill="url(#hf73)"/>
<rect x="63.6" y="822" width="236.4" height="2" fill="url(#hf74)"/>
<rect x="63.6" y="824" width="236.4" height="2" fill="url(#hf75)"/>
<rect x="63.6" y="826" width="236.4" height="2" fill="url(#hf76)"/>
<rect x="63.6" y="828" width="236.4" height="2" fill="url(#hf77)"/>
<rect x="63.6" y="830" width="236.4" height="2" fill="url(#hf78)"/>
<rect x="63.6" y="832" width="236.4" height="2" fill="url(#hf79)"/>
<rect x="63.6" y="834" width="236.4" height="2" fill="url(#hf80)"/>
<rect x="63.6" y="836" width="236.4" height="2" fill="url(#hf81)"/>
<rect x="63.6" y="838" width="236.4" height="2" fill="url(#hf82)"/>
<rect x="63.6" y="840" width="236.4" height="2" fill="url(#hf83)"/>
<rect x="63.6" y="842" width="236.4" height="2" fill="url(#hf84)"/>
<rect x="63.6" y="844" width="236.4" height="2" fill="url(#hf85)"/>
<rect x="63.6" y="846" width="236.4" height="2" fill="url(#hf86)"/>
<rect x="63.6" y="848" width="236.4" height="2" fill="url(#hf87)"/>
<rect x="63.6" y="850" width="236.4" height="2" fill="url(#hf88)"/>
<rect x="63.6" y="852" width="236.4" height="2" fill="url(#hf89)"/>
<rect x="63.6" y="854" width="236.4" height="2" fill="url(#hf90)"/>
<rect x="63.6" y="856" width="236.4" height="2" fill="url(#hf91)"/>
<rect x="63.6" y="858" width="236.4" height="2" fill="url(#hf92)"/>
<rect x="63.6" y="860" width="236.4" height="2" fill="url(#hf93)"/>
<rect x="63.6" y="862" width="236.4" height="2" fill="url(#hf94)"/>
<rect x="63.6" y="864" width="236.4" height="2" fill="url(#hf95)"/>
<rect x="63.6" y="866" width="236.4" height="2" fill="url(#hf96)"/>
<rect x="63.6" y="868" width="236.4" height="2" fill="url(#hf97)"/>
<rect x="63.6" y="870" width="236.4" height="2" fill="url(#hf98)"/>
<rect x="63.6" y="872" width="236.4" height="2" fill="url(#hf99)"/>
<rect x="63.6" y="874" width="236.4" height="2" fill="url(#hf100)"/>
<rect x="63.6" y="876" width="236.4" height="2" fill="url(#hf101)"/>
<rect x="63.6" y="878" width="236.4" height="2" fill="url(#hf102)"/>
<rect x="63.6" y="880" width="236.4" height="2" fill="url(#hf103)"/>
<rect x="63.6" y="882" width="236.4" height="2" fill="url(#hf104)"/>
<rect x="63.6" y="884" width="236.4" height="2" fill="url(#hf105)"/>
<rect x="63.6" y="886" width="236.4" height="2" fill="url(#hf106)"/>
<rect x="63.6" y="888" width="236.4" height="2" fill="url(#hf107)"/>
<rect x="63.6" y="890" width="236.4" height="2" fill="url(#hf108)"/>
<rect x="63.6" y="892" width="236.4" height="2" fill="url(#hf109)"/>
<rect x="63.6" y="894" width="236.4" height="2" fill="url(#hf110)"/>
<rect x="63.6" y="896" width="236.4" height="2" fill="url(#hf111)"/>
<rect x="63.6" y="898" width="236.4" height="2" fill="url(#hf112)"/>
<rect x="63.6" y="900" width="236.4" height="2" fill="url(#hf113)"/>
<rect x="63.6" y="902" width="236.4" height="2" fill="url(#hf114)"/>
<rect x="63.6" y="904" width="236.4" height="2" fill="url(#hf115)"/>
<rect x="63.6" y="906" width="236.4" height="2" fill="url(#hf116)"/>
<rect x="63.6" y="908" width="236.4" height="2" fill="url(#hf117)"/>
<rect x="63.6" y="910" width="236.4" height="1" fill="url(#hf118)"/></g>
<polyline points="76,711 133,758" stroke="#e8e4f0" stroke-width="1" stroke-dasharray="1 2.6" fill="none" opacity="0.85"/>
<polyline points="114,695 65,777" stroke="#e8e4f0" stroke-width="1" stroke-dasharray="1 2.6" fill="none" opacity="0.85"/>
<polyline points="65,743 87,765" stroke="#e8e4f0" stroke-width="1" stroke-dasharray="1 2.6" fill="none" opacity="0.85"/>
<polyline points="246,759 299,817" stroke="#e8e4f0" stroke-width="1" stroke-dasharray="1 2.6" fill="none" opacity="0.85"/>
<polyline points="299,747 265,793" stroke="#e8e4f0" stroke-width="1" stroke-dasharray="1 2.6" fill="none" opacity="0.85"/>
<polyline points="228,872 266,908" stroke="#e8e4f0" stroke-width="1" stroke-dasharray="1 2.6" fill="none" opacity="0.85"/>
<polyline points="246,855 281,893" stroke="#e8e4f0" stroke-width="1" stroke-dasharray="1 2.6" fill="none" opacity="0.85"/>
<polyline points="290,876 266,908" stroke="#e8e4f0" stroke-width="1" stroke-dasharray="1 2.6" fill="none" opacity="0.85"/>
<rect x="63.6" y="674" width="236.4" height="236.4" fill="none" stroke="#111" stroke-width="1.6"/>
<line x1="58.2" y1="704.98" x2="63.6" y2="704.98" stroke="#111" stroke-width="1.6"/>
<text x="54" y="711.38" font-size="18" text-anchor="end">60</text>
<line x1="58.2" y1="756.19" x2="63.6" y2="756.19" stroke="#111" stroke-width="1.6"/>
<text x="54" y="762.59" font-size="18" text-anchor="end">30</text>
<line x1="58.2" y1="807.4" x2="63.6" y2="807.4" stroke="#111" stroke-width="1.6"/>
<text x="54" y="813.8" font-size="18" text-anchor="end">0</text>
<line x1="58.2" y1="858.61" x2="63.6" y2="858.61" stroke="#111" stroke-width="1.6"/>
<text x="54" y="865.01" font-size="18" text-anchor="end">-30</text>
<line x1="58.2" y1="909.82" x2="63.6" y2="909.82" stroke="#111" stroke-width="1.6"/>
<text x="54" y="916.22" font-size="18" text-anchor="end">-60</text>
<line x1="63.6" y1="910.4" x2="63.6" y2="915.6" stroke="#111" stroke-width="1.6"/>
<text x="63.6" y="934.5" font-size="18" text-anchor="middle">-50</text>
<line x1="122.4" y1="910.4" x2="122.4" y2="915.6" stroke="#111" stroke-width="1.6"/>
<text x="122.4" y="934.5" font-size="18" text-anchor="middle">-25</text>
<line x1="181.2" y1="910.4" x2="181.2" y2="915.6" stroke="#111" stroke-width="1.6"/>
<text x="181.2" y="934.5" font-size="18" text-anchor="middle">0</text>
<line x1="240" y1="910.4" x2="240" y2="915.6" stroke="#111" stroke-width="1.6"/>
<text x="240" y="934.5" font-size="18" text-anchor="middle">25</text>
<line x1="298.8" y1="910.4" x2="298.8" y2="915.6" stroke="#111" stroke-width="1.6"/>
<text x="298.8" y="934.5" font-size="18" text-anchor="middle">50</text>
<text x="5" y="691" class="lab">f</text>
<text x="68" y="700.8" font-size="19.2">d<tspan font-style="italic">I</tspan><tspan font-size="12.5" dy="5">b</tspan><tspan dy="-5"> / d</tspan><tspan font-style="italic">V</tspan><tspan font-size="12.5" dy="5">b</tspan></text>
<text x="255" y="702" font-size="19.6" fill="#fff">a-C</text>
<line x1="224.5" y1="727.4" x2="205" y2="727.4" stroke="#5e66bc" stroke-width="1.8"/>
<polygon points="196,727.4 210.5,723.6 210.5,731.2" fill="#5e66bc"/>
<text transform="translate(18.8,789.6) rotate(-90)" font-size="22.8" text-anchor="middle"><tspan font-style="italic">V</tspan><tspan font-size="15" dy="5.5">g</tspan><tspan dy="-5.5"> (V)</tspan></text>
<text x="144.6" y="959.2" font-size="22.8"><tspan font-style="italic">V</tspan><tspan font-size="15" dy="5.5">b</tspan><tspan dy="-5.5"> (mV)</tspan></text>
<g shape-rendering="crispEdges"><rect x="433" y="674" width="235.8" height="2" fill="url(#hg0)"/>
<rect x="433" y="676" width="235.8" height="2" fill="url(#hg1)"/>
<rect x="433" y="678" width="235.8" height="2" fill="url(#hg2)"/>
<rect x="433" y="680" width="235.8" height="2" fill="url(#hg3)"/>
<rect x="433" y="682" width="235.8" height="2" fill="url(#hg4)"/>
<rect x="433" y="684" width="235.8" height="2" fill="url(#hg5)"/>
<rect x="433" y="686" width="235.8" height="2" fill="url(#hg6)"/>
<rect x="433" y="688" width="235.8" height="2" fill="url(#hg7)"/>
<rect x="433" y="690" width="235.8" height="2" fill="url(#hg8)"/>
<rect x="433" y="692" width="235.8" height="2" fill="url(#hg9)"/>
<rect x="433" y="694" width="235.8" height="2" fill="url(#hg10)"/>
<rect x="433" y="696" width="235.8" height="2" fill="url(#hg11)"/>
<rect x="433" y="698" width="235.8" height="2" fill="url(#hg12)"/>
<rect x="433" y="700" width="235.8" height="2" fill="url(#hg13)"/>
<rect x="433" y="702" width="235.8" height="2" fill="url(#hg14)"/>
<rect x="433" y="704" width="235.8" height="2" fill="url(#hg15)"/>
<rect x="433" y="706" width="235.8" height="2" fill="url(#hg16)"/>
<rect x="433" y="708" width="235.8" height="2" fill="url(#hg17)"/>
<rect x="433" y="710" width="235.8" height="2" fill="url(#hg18)"/>
<rect x="433" y="712" width="235.8" height="2" fill="url(#hg19)"/>
<rect x="433" y="714" width="235.8" height="2" fill="url(#hg20)"/>
<rect x="433" y="716" width="235.8" height="2" fill="url(#hg21)"/>
<rect x="433" y="718" width="235.8" height="2" fill="url(#hg22)"/>
<rect x="433" y="720" width="235.8" height="2" fill="url(#hg23)"/>
<rect x="433" y="722" width="235.8" height="2" fill="url(#hg24)"/>
<rect x="433" y="724" width="235.8" height="2" fill="url(#hg25)"/>
<rect x="433" y="726" width="235.8" height="2" fill="url(#hg26)"/>
<rect x="433" y="728" width="235.8" height="2" fill="url(#hg27)"/>
<rect x="433" y="730" width="235.8" height="2" fill="url(#hg28)"/>
<rect x="433" y="732" width="235.8" height="2" fill="url(#hg29)"/>
<rect x="433" y="734" width="235.8" height="2" fill="url(#hg30)"/>
<rect x="433" y="736" width="235.8" height="2" fill="url(#hg31)"/>
<rect x="433" y="738" width="235.8" height="2" fill="url(#hg32)"/>
<rect x="433" y="740" width="235.8" height="2" fill="url(#hg33)"/>
<rect x="433" y="742" width="235.8" height="2" fill="url(#hg34)"/>
<rect x="433" y="744" width="235.8" height="2" fill="url(#hg35)"/>
<rect x="433" y="746" width="235.8" height="2" fill="url(#hg36)"/>
<rect x="433" y="748" width="235.8" height="2" fill="url(#hg37)"/>
<rect x="433" y="750" width="235.8" height="2" fill="url(#hg38)"/>
<rect x="433" y="752" width="235.8" height="2" fill="url(#hg39)"/>
<rect x="433" y="754" width="235.8" height="2" fill="url(#hg40)"/>
<rect x="433" y="756" width="235.8" height="2" fill="url(#hg41)"/>
<rect x="433" y="758" width="235.8" height="2" fill="url(#hg42)"/>
<rect x="433" y="760" width="235.8" height="2" fill="url(#hg43)"/>
<rect x="433" y="762" width="235.8" height="2" fill="url(#hg44)"/>
<rect x="433" y="764" width="235.8" height="2" fill="url(#hg45)"/>
<rect x="433" y="766" width="235.8" height="2" fill="url(#hg46)"/>
<rect x="433" y="768" width="235.8" height="2" fill="url(#hg47)"/>
<rect x="433" y="770" width="235.8" height="2" fill="url(#hg48)"/>
<rect x="433" y="772" width="235.8" height="2" fill="url(#hg49)"/>
<rect x="433" y="774" width="235.8" height="2" fill="url(#hg50)"/>
<rect x="433" y="776" width="235.8" height="2" fill="url(#hg51)"/>
<rect x="433" y="778" width="235.8" height="2" fill="url(#hg52)"/>
<rect x="433" y="780" width="235.8" height="2" fill="url(#hg53)"/>
<rect x="433" y="782" width="235.8" height="2" fill="url(#hg54)"/>
<rect x="433" y="784" width="235.8" height="2" fill="url(#hg55)"/>
<rect x="433" y="786" width="235.8" height="2" fill="url(#hg56)"/>
<rect x="433" y="788" width="235.8" height="2" fill="url(#hg57)"/>
<rect x="433" y="790" width="235.8" height="2" fill="url(#hg58)"/>
<rect x="433" y="792" width="235.8" height="2" fill="url(#hg59)"/>
<rect x="433" y="794" width="235.8" height="2" fill="url(#hg60)"/>
<rect x="433" y="796" width="235.8" height="2" fill="url(#hg61)"/>
<rect x="433" y="798" width="235.8" height="2" fill="url(#hg62)"/>
<rect x="433" y="800" width="235.8" height="2" fill="url(#hg63)"/>
<rect x="433" y="802" width="235.8" height="2" fill="url(#hg64)"/>
<rect x="433" y="804" width="235.8" height="2" fill="url(#hg65)"/>
<rect x="433" y="806" width="235.8" height="2" fill="url(#hg66)"/>
<rect x="433" y="808" width="235.8" height="2" fill="url(#hg67)"/>
<rect x="433" y="810" width="235.8" height="2" fill="url(#hg68)"/>
<rect x="433" y="812" width="235.8" height="2" fill="url(#hg69)"/>
<rect x="433" y="814" width="235.8" height="2" fill="url(#hg70)"/>
<rect x="433" y="816" width="235.8" height="2" fill="url(#hg71)"/>
<rect x="433" y="818" width="235.8" height="2" fill="url(#hg72)"/>
<rect x="433" y="820" width="235.8" height="2" fill="url(#hg73)"/>
<rect x="433" y="822" width="235.8" height="2" fill="url(#hg74)"/>
<rect x="433" y="824" width="235.8" height="2" fill="url(#hg75)"/>
<rect x="433" y="826" width="235.8" height="2" fill="url(#hg76)"/>
<rect x="433" y="828" width="235.8" height="2" fill="url(#hg77)"/>
<rect x="433" y="830" width="235.8" height="2" fill="url(#hg78)"/>
<rect x="433" y="832" width="235.8" height="2" fill="url(#hg79)"/>
<rect x="433" y="834" width="235.8" height="2" fill="url(#hg80)"/>
<rect x="433" y="836" width="235.8" height="2" fill="url(#hg81)"/>
<rect x="433" y="838" width="235.8" height="2" fill="url(#hg82)"/>
<rect x="433" y="840" width="235.8" height="2" fill="url(#hg83)"/>
<rect x="433" y="842" width="235.8" height="2" fill="url(#hg84)"/>
<rect x="433" y="844" width="235.8" height="2" fill="url(#hg85)"/>
<rect x="433" y="846" width="235.8" height="2" fill="url(#hg86)"/>
<rect x="433" y="848" width="235.8" height="2" fill="url(#hg87)"/>
<rect x="433" y="850" width="235.8" height="2" fill="url(#hg88)"/>
<rect x="433" y="852" width="235.8" height="2" fill="url(#hg89)"/>
<rect x="433" y="854" width="235.8" height="2" fill="url(#hg90)"/>
<rect x="433" y="856" width="235.8" height="2" fill="url(#hg91)"/>
<rect x="433" y="858" width="235.8" height="2" fill="url(#hg92)"/>
<rect x="433" y="860" width="235.8" height="2" fill="url(#hg93)"/>
<rect x="433" y="862" width="235.8" height="2" fill="url(#hg94)"/>
<rect x="433" y="864" width="235.8" height="2" fill="url(#hg95)"/>
<rect x="433" y="866" width="235.8" height="2" fill="url(#hg96)"/>
<rect x="433" y="868" width="235.8" height="2" fill="url(#hg97)"/>
<rect x="433" y="870" width="235.8" height="2" fill="url(#hg98)"/>
<rect x="433" y="872" width="235.8" height="2" fill="url(#hg99)"/>
<rect x="433" y="874" width="235.8" height="2" fill="url(#hg100)"/>
<rect x="433" y="876" width="235.8" height="2" fill="url(#hg101)"/>
<rect x="433" y="878" width="235.8" height="2" fill="url(#hg102)"/>
<rect x="433" y="880" width="235.8" height="2" fill="url(#hg103)"/>
<rect x="433" y="882" width="235.8" height="2" fill="url(#hg104)"/>
<rect x="433" y="884" width="235.8" height="2" fill="url(#hg105)"/>
<rect x="433" y="886" width="235.8" height="2" fill="url(#hg106)"/>
<rect x="433" y="888" width="235.8" height="2" fill="url(#hg107)"/>
<rect x="433" y="890" width="235.8" height="2" fill="url(#hg108)"/>
<rect x="433" y="892" width="235.8" height="2" fill="url(#hg109)"/>
<rect x="433" y="894" width="235.8" height="2" fill="url(#hg110)"/>
<rect x="433" y="896" width="235.8" height="2" fill="url(#hg111)"/>
<rect x="433" y="898" width="235.8" height="2" fill="url(#hg112)"/>
<rect x="433" y="900" width="235.8" height="2" fill="url(#hg113)"/>
<rect x="433" y="902" width="235.8" height="2" fill="url(#hg114)"/>
<rect x="433" y="904" width="235.8" height="2" fill="url(#hg115)"/>
<rect x="433" y="906" width="235.8" height="2" fill="url(#hg116)"/>
<rect x="433" y="908" width="235.8" height="2" fill="url(#hg117)"/></g>
<rect x="433" y="674.4" width="235.8" height="235.8" fill="none" stroke="#111" stroke-width="1.6"/>
<line x1="427.6" y1="674.58" x2="433" y2="674.58" stroke="#111" stroke-width="1.6"/>
<text x="422.4" y="680.98" font-size="18" text-anchor="end">60</text>
<line x1="427.6" y1="733.59" x2="433" y2="733.59" stroke="#111" stroke-width="1.6"/>
<text x="422.4" y="739.99" font-size="18" text-anchor="end">30</text>
<line x1="427.6" y1="792.6" x2="433" y2="792.6" stroke="#111" stroke-width="1.6"/>
<text x="422.4" y="799" font-size="18" text-anchor="end">0</text>
<line x1="427.6" y1="851.61" x2="433" y2="851.61" stroke="#111" stroke-width="1.6"/>
<text x="422.4" y="858.01" font-size="18" text-anchor="end">-30</text>
<line x1="427.6" y1="910.62" x2="433" y2="910.62" stroke="#111" stroke-width="1.6"/>
<text x="422.4" y="917.02" font-size="18" text-anchor="end">-60</text>
<line x1="433.2" y1="910.2" x2="433.2" y2="915.4" stroke="#111" stroke-width="1.6"/>
<text x="433.2" y="934.5" font-size="18" text-anchor="middle">-100</text>
<line x1="492.35" y1="910.2" x2="492.35" y2="915.4" stroke="#111" stroke-width="1.6"/>
<text x="492.35" y="934.5" font-size="18" text-anchor="middle">-50</text>
<line x1="551.5" y1="910.2" x2="551.5" y2="915.4" stroke="#111" stroke-width="1.6"/>
<text x="551.5" y="934.5" font-size="18" text-anchor="middle">0</text>
<line x1="610.65" y1="910.2" x2="610.65" y2="915.4" stroke="#111" stroke-width="1.6"/>
<text x="610.65" y="934.5" font-size="18" text-anchor="middle">50</text>
<line x1="669.8" y1="910.2" x2="669.8" y2="915.4" stroke="#111" stroke-width="1.6"/>
<text x="669.8" y="934.5" font-size="18" text-anchor="middle">100</text>
<line x1="458.4" y1="642.6" x2="458.4" y2="661" stroke="#8a849e" stroke-width="1.8"/>
<polygon points="454.8,659.8 462,659.8 458.4,672.8" fill="#8a849e"/>
<line x1="479.5" y1="642.6" x2="479.5" y2="661" stroke="#8a849e" stroke-width="1.8"/>
<polygon points="475.9,659.8 483.1,659.8 479.5,672.8" fill="#8a849e"/>
<line x1="623.6" y1="642.6" x2="623.6" y2="661" stroke="#8a849e" stroke-width="1.8"/>
<polygon points="620,659.8 627.2,659.8 623.6,672.8" fill="#8a849e"/>
<line x1="643.7" y1="642.6" x2="643.7" y2="661" stroke="#8a849e" stroke-width="1.8"/>
<polygon points="640.1,659.8 647.3,659.8 643.7,672.8" fill="#8a849e"/>
<text x="376" y="690" class="lab">g</text>
<text x="440.4" y="700.8" font-size="19.2">d<tspan font-style="italic">I</tspan><tspan font-size="12.5" dy="5">b</tspan><tspan dy="-5"> / d</tspan><tspan font-style="italic">V</tspan><tspan font-size="12.5" dy="5">b</tspan></text>
<text x="663" y="701" font-size="19.5" fill="#fff" text-anchor="end">hBN</text>
<text transform="translate(384.5,791.6) rotate(-90)" font-size="22.8" text-anchor="middle"><tspan font-style="italic">V</tspan><tspan font-size="15" dy="5.5">g</tspan><tspan dy="-5.5"> (V)</tspan></text>
<text x="515" y="959" font-size="22.8"><tspan font-style="italic">V</tspan><tspan font-size="15" dy="5.5">b</tspan><tspan dy="-5.5"> (mV)</tspan></text>
</g>
</svg>
</body></html>
